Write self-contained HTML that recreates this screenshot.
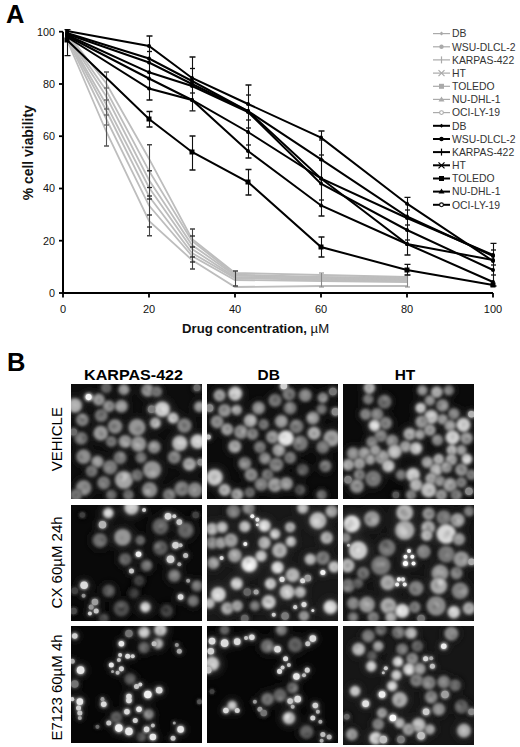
<!DOCTYPE html>
<html><head><meta charset="utf-8"><style>
html,body{margin:0;padding:0;background:#fff;}
body{width:520px;height:747px;position:relative;overflow:hidden;font-family:"Liberation Sans", sans-serif;}
.chart{position:absolute;left:0;top:0;font-family:"Liberation Sans", sans-serif;}
.mic{position:absolute;display:block;}
.ov{position:absolute;left:0;top:0;font-family:"Liberation Sans", sans-serif;}
.lab{position:absolute;white-space:nowrap;color:#000;}
.big{font-weight:bold;font-size:25.5px;line-height:26px;}
.col{font-weight:bold;font-size:14.6px;line-height:15px;}
.row{font-size:15px;line-height:15px;transform-origin:0 0;}
</style></head><body>
<svg width="0" height="0" style="position:absolute"><defs><filter id="bl" x="-10%" y="-10%" width="120%" height="120%"><feGaussianBlur stdDeviation="6"/></filter><filter id="bl3" x="-20%" y="-20%" width="140%" height="140%"><feGaussianBlur stdDeviation="3"/></filter><filter id="bl2" x="-20%" y="-20%" width="140%" height="140%"><feGaussianBlur stdDeviation="14"/></filter></defs></svg>
<div class="lab big" style="left:6px;top:1px">A</div>
<div class="lab big" style="left:7px;top:349px">B</div>
<svg class="chart" width="520" height="345" viewBox="0 0 520 345"><polyline points="67,33 106,83 149,158.7 192,239 235,273 321,275 407,277" fill="none" stroke="#bdbdbd" stroke-width="1.8"/><polyline points="67,34 106,90 149,170.8 192,241 235,274.6 321,277 407,278" fill="none" stroke="#bdbdbd" stroke-width="1.8"/><polyline points="67,35 106,96 149,180 192,245 235,275.5 321,278 407,279" fill="none" stroke="#bdbdbd" stroke-width="1.8"/><polyline points="67,36 106,104 149,187.5 192,249 235,277 321,279 407,280" fill="none" stroke="#bdbdbd" stroke-width="1.8"/><polyline points="67,37 106,110 149,196.2 192,253 235,278 321,280 407,281" fill="none" stroke="#bdbdbd" stroke-width="1.8"/><polyline points="67,38 106,118.5 149,205.6 192,256 235,280 321,281 407,282" fill="none" stroke="#bdbdbd" stroke-width="1.8"/><polyline points="67,40 106,131 149,221 192,260 235,287 321,286 407,286" fill="none" stroke="#bdbdbd" stroke-width="1.8"/><path d="M106.5,72V146" stroke="#555" stroke-width="1.1" fill="none"/><path d="M104.0,72H109.0M104.0,146H109.0" stroke="#555" stroke-width="1.5" fill="none"/><path d="M149.5,144.7V235.7" stroke="#444" stroke-width="1.1" fill="none"/><path d="M147.0,144.7H152.0M147.0,235.7H152.0" stroke="#444" stroke-width="1.5" fill="none"/><path d="M192.5,229V269" stroke="#444" stroke-width="1.1" fill="none"/><path d="M190.0,229H195.0M190.0,269H195.0" stroke="#444" stroke-width="1.5" fill="none"/><path d="M235.5,271V286" stroke="#444" stroke-width="1.1" fill="none"/><path d="M233.0,271H238.0M233.0,286H238.0" stroke="#444" stroke-width="1.5" fill="none"/><path d="M321.5,273V287" stroke="#888" stroke-width="1.1" fill="none"/><path d="M319.0,273H324.0M319.0,287H324.0" stroke="#888" stroke-width="1.2" fill="none"/><path d="M407.5,275V287" stroke="#888" stroke-width="1.1" fill="none"/><path d="M405.0,275H410.0M405.0,287H410.0" stroke="#888" stroke-width="1.2" fill="none"/><polyline points="67,31 149,46 192,78 248,104 321,137.6 407,203.7 493,261" fill="none" stroke="#000" stroke-width="2"/><polyline points="67,33 149,58.5 192,81 248,111 321,159.4 407,216.5 493,256" fill="none" stroke="#000" stroke-width="2"/><polyline points="67,34 149,62.5 192,84 248,111 321,178.5 407,218 493,255" fill="none" stroke="#000" stroke-width="2"/><polyline points="67,35 149,72.3 192,86 248,112 321,183.6 407,230 493,270" fill="none" stroke="#000" stroke-width="2"/><polyline points="67,36 149,78.5 192,100 248,132 321,178.5 407,244 493,260" fill="none" stroke="#000" stroke-width="2"/><polyline points="67,37 149,88.5 192,100 248,151 321,205.5 407,244 493,282" fill="none" stroke="#000" stroke-width="2"/><polyline points="67,40 149,119 192,152 248,182 321,247 407,270 493,285" fill="none" stroke="#000" stroke-width="2"/><path d="M67.5,29.6V55.6" stroke="#111" stroke-width="1.1" fill="none"/><path d="M64.5,29.6H70.5M64.5,55.6H70.5" stroke="#111" stroke-width="1.3" fill="none"/><path d="M149.5,36V100" stroke="#111" stroke-width="1.1" fill="none"/><path d="M146.5,36H152.5M146.5,100H152.5" stroke="#111" stroke-width="1.3" fill="none"/><path d="M149.5,111.5V127" stroke="#111" stroke-width="1.1" fill="none"/><path d="M146.5,111.5H152.5M146.5,127H152.5" stroke="#111" stroke-width="1.3" fill="none"/><path d="M192.5,57V110.8" stroke="#111" stroke-width="1.1" fill="none"/><path d="M189.5,57H195.5M189.5,110.8H195.5" stroke="#111" stroke-width="1.3" fill="none"/><path d="M192.5,136V170" stroke="#111" stroke-width="1.1" fill="none"/><path d="M189.5,136H195.5M189.5,170H195.5" stroke="#111" stroke-width="1.3" fill="none"/><path d="M248.5,85V158" stroke="#111" stroke-width="1.1" fill="none"/><path d="M245.5,85H251.5M245.5,158H251.5" stroke="#111" stroke-width="1.3" fill="none"/><path d="M248.5,169.5V195" stroke="#111" stroke-width="1.1" fill="none"/><path d="M245.5,169.5H251.5M245.5,195H251.5" stroke="#111" stroke-width="1.3" fill="none"/><path d="M321.5,131V216" stroke="#111" stroke-width="1.1" fill="none"/><path d="M318.5,131H324.5M318.5,216H324.5" stroke="#111" stroke-width="1.3" fill="none"/><path d="M321.5,237V257" stroke="#111" stroke-width="1.1" fill="none"/><path d="M318.5,237H324.5M318.5,257H324.5" stroke="#111" stroke-width="1.3" fill="none"/><path d="M407.5,197.4V255" stroke="#111" stroke-width="1.1" fill="none"/><path d="M404.5,197.4H410.5M404.5,255H410.5" stroke="#111" stroke-width="1.3" fill="none"/><path d="M407.5,264.4V275" stroke="#111" stroke-width="1.1" fill="none"/><path d="M404.5,264.4H410.5M404.5,275H410.5" stroke="#111" stroke-width="1.3" fill="none"/><path d="M493.5,243.4V286" stroke="#111" stroke-width="1.1" fill="none"/><path d="M490.5,243.4H496.5M490.5,286H496.5" stroke="#111" stroke-width="1.3" fill="none"/><path d="M104.0,88H109.0" stroke="#666" stroke-width="1.3"/><path d="M104.0,100H109.0" stroke="#666" stroke-width="1.3"/><path d="M104.0,109H109.0" stroke="#666" stroke-width="1.3"/><path d="M104.0,115H109.0" stroke="#666" stroke-width="1.3"/><path d="M104.0,125H109.0" stroke="#666" stroke-width="1.3"/><path d="M147.0,170.8H152.0" stroke="#222" stroke-width="1.3"/><path d="M147.0,187.5H152.0" stroke="#222" stroke-width="1.3"/><path d="M147.0,196H152.0" stroke="#222" stroke-width="1.3"/><path d="M147.0,199H152.0" stroke="#222" stroke-width="1.3"/><path d="M147.0,215H152.0" stroke="#222" stroke-width="1.3"/><path d="M147.0,227H152.0" stroke="#222" stroke-width="1.3"/><path d="M190.0,236H195.0" stroke="#222" stroke-width="1.3"/><path d="M190.0,247H195.0" stroke="#222" stroke-width="1.3"/><path d="M190.0,257H195.0" stroke="#222" stroke-width="1.3"/><path d="M190.0,262H195.0" stroke="#222" stroke-width="1.3"/><path d="M147.0,51.5H152.0" stroke="#111" stroke-width="1.3"/><path d="M190.0,68.5H195.0" stroke="#111" stroke-width="1.3"/><path d="M190.0,93H195.0" stroke="#111" stroke-width="1.3"/><path d="M246.0,95H251.0" stroke="#111" stroke-width="1.3"/><path d="M246.0,120H251.0" stroke="#111" stroke-width="1.3"/><path d="M246.0,128H251.0" stroke="#111" stroke-width="1.3"/><path d="M246.0,145H251.0" stroke="#111" stroke-width="1.3"/><path d="M319.0,140H324.0" stroke="#111" stroke-width="1.3"/><path d="M319.0,155H324.0" stroke="#111" stroke-width="1.3"/><path d="M319.0,160H324.0" stroke="#111" stroke-width="1.3"/><path d="M319.0,200H324.0" stroke="#111" stroke-width="1.3"/><path d="M405.0,210H410.0" stroke="#111" stroke-width="1.3"/><path d="M405.0,225H410.0" stroke="#111" stroke-width="1.3"/><path d="M405.0,240H410.0" stroke="#111" stroke-width="1.3"/><path d="M491.0,250H496.0" stroke="#111" stroke-width="1.3"/><path d="M491.0,265H496.0" stroke="#111" stroke-width="1.3"/><path d="M491.0,275H496.0" stroke="#111" stroke-width="1.3"/><circle cx="67" cy="31" r="2" fill="#000"/><circle cx="149" cy="46" r="2" fill="#000"/><circle cx="192" cy="78" r="2" fill="#000"/><circle cx="248" cy="104" r="2" fill="#000"/><circle cx="321" cy="137.6" r="2" fill="#000"/><circle cx="407" cy="203.7" r="2" fill="#000"/><circle cx="493" cy="261" r="2" fill="#000"/><circle cx="67" cy="33" r="2" fill="#000"/><circle cx="149" cy="58.5" r="2" fill="#000"/><circle cx="192" cy="81" r="2" fill="#000"/><circle cx="248" cy="111" r="2" fill="#000"/><circle cx="321" cy="159.4" r="2" fill="#000"/><circle cx="407" cy="216.5" r="2" fill="#000"/><circle cx="493" cy="256" r="2" fill="#000"/><circle cx="67" cy="34" r="2" fill="#000"/><circle cx="149" cy="62.5" r="2" fill="#000"/><circle cx="192" cy="84" r="2" fill="#000"/><circle cx="248" cy="111" r="2" fill="#000"/><circle cx="321" cy="178.5" r="2" fill="#000"/><circle cx="407" cy="218" r="2" fill="#000"/><circle cx="493" cy="255" r="2" fill="#000"/><circle cx="67" cy="35" r="2" fill="#000"/><circle cx="149" cy="72.3" r="2" fill="#000"/><circle cx="192" cy="86" r="2" fill="#000"/><circle cx="248" cy="112" r="2" fill="#000"/><circle cx="321" cy="183.6" r="2" fill="#000"/><circle cx="407" cy="230" r="2" fill="#000"/><circle cx="493" cy="270" r="2" fill="#000"/><circle cx="67" cy="36" r="2" fill="#000"/><circle cx="149" cy="78.5" r="2" fill="#000"/><circle cx="192" cy="100" r="2" fill="#000"/><circle cx="248" cy="132" r="2" fill="#000"/><circle cx="321" cy="178.5" r="2" fill="#000"/><circle cx="407" cy="244" r="2" fill="#000"/><circle cx="493" cy="260" r="2" fill="#000"/><circle cx="67" cy="37" r="2" fill="#000"/><circle cx="149" cy="88.5" r="2" fill="#000"/><circle cx="192" cy="100" r="2" fill="#000"/><circle cx="248" cy="151" r="2" fill="#000"/><circle cx="321" cy="205.5" r="2" fill="#000"/><circle cx="407" cy="244" r="2" fill="#000"/><circle cx="493" cy="282" r="2" fill="#000"/><rect x="64.5" y="37.5" width="5" height="5" fill="#000"/><rect x="146.5" y="116.5" width="5" height="5" fill="#000"/><rect x="189.5" y="149.5" width="5" height="5" fill="#000"/><rect x="245.5" y="179.5" width="5" height="5" fill="#000"/><rect x="318.5" y="244.5" width="5" height="5" fill="#000"/><rect x="404.5" y="267.5" width="5" height="5" fill="#000"/><rect x="490.5" y="282.5" width="5" height="5" fill="#000"/><path d="M63,31.7V293H493" stroke="#000" stroke-width="2" fill="none"/><path d="M59,293.0H63" stroke="#000" stroke-width="1.8"/><path d="M63.0,293V297.5" stroke="#000" stroke-width="1.8"/><text x="55" y="296.8" text-anchor="end" font-size="10.8" fill="#111">0</text><text x="63.0" y="312.6" text-anchor="middle" font-size="11" fill="#111">0</text><path d="M59,240.7H63" stroke="#000" stroke-width="1.8"/><path d="M149.0,293V297.5" stroke="#000" stroke-width="1.8"/><text x="55" y="244.5" text-anchor="end" font-size="10.8" fill="#111">20</text><text x="149.0" y="312.6" text-anchor="middle" font-size="11" fill="#111">20</text><path d="M59,188.5H63" stroke="#000" stroke-width="1.8"/><path d="M235.0,293V297.5" stroke="#000" stroke-width="1.8"/><text x="55" y="192.3" text-anchor="end" font-size="10.8" fill="#111">40</text><text x="235.0" y="312.6" text-anchor="middle" font-size="11" fill="#111">40</text><path d="M59,136.2H63" stroke="#000" stroke-width="1.8"/><path d="M321.0,293V297.5" stroke="#000" stroke-width="1.8"/><text x="55" y="140.0" text-anchor="end" font-size="10.8" fill="#111">60</text><text x="321.0" y="312.6" text-anchor="middle" font-size="11" fill="#111">60</text><path d="M59,84.0H63" stroke="#000" stroke-width="1.8"/><path d="M407.0,293V297.5" stroke="#000" stroke-width="1.8"/><text x="55" y="87.8" text-anchor="end" font-size="10.8" fill="#111">80</text><text x="407.0" y="312.6" text-anchor="middle" font-size="11" fill="#111">80</text><path d="M59,31.7H63" stroke="#000" stroke-width="1.8"/><path d="M493.0,293V297.5" stroke="#000" stroke-width="1.8"/><text x="55" y="35.5" text-anchor="end" font-size="10.8" fill="#111">100</text><text x="493.0" y="312.6" text-anchor="middle" font-size="11" fill="#111">100</text><text x="255.6" y="333.4" text-anchor="middle" font-size="13.15" font-weight="bold" fill="#111">Drug concentration, <tspan font-weight="normal">µM</tspan></text><text transform="translate(33.2,152.7) rotate(-90)" text-anchor="middle" font-size="13.9" font-weight="bold" fill="#111">% cell viability</text><path d="M433,33.6H450" stroke="#aaa" stroke-width="1.2"/><path d="M441.5,31.6l2,2l-2,2l-2,-2z" fill="#aaa"/><text x="452" y="37.3" font-size="10.4" fill="#333">DB</text><path d="M433,46.8H450" stroke="#aaa" stroke-width="1.2"/><circle cx="441.5" cy="46.8" r="2.2" fill="#aaa"/><text x="452" y="50.5" font-size="10.4" fill="#333">WSU-DLCL-2</text><path d="M433,59.9H450" stroke="#aaa" stroke-width="1.2"/><path d="M441.5,56.4v7" stroke="#aaa" stroke-width="1.2"/><text x="452" y="63.6" font-size="10.4" fill="#333">KARPAS-422</text><path d="M433,73.1H450" stroke="#aaa" stroke-width="1.2"/><path d="M438.5,70.1l6,6M444.5,70.1l-6,6" stroke="#aaa" stroke-width="1.2"/><text x="452" y="76.8" font-size="10.4" fill="#333">HT</text><path d="M433,86.3H450" stroke="#aaa" stroke-width="1.2"/><rect x="439.0" y="83.8" width="5" height="5" fill="#aaa"/><text x="452" y="90.0" font-size="10.4" fill="#333">TOLEDO</text><path d="M433,99.4H450" stroke="#aaa" stroke-width="1.2"/><path d="M441.5,96.4l3,5h-6z" fill="#aaa"/><text x="452" y="103.1" font-size="10.4" fill="#333">NU-DHL-1</text><path d="M433,112.6H450" stroke="#aaa" stroke-width="1.2"/><circle cx="441.5" cy="112.6" r="1.9" fill="#fff" stroke="#aaa" stroke-width="1.1"/><text x="452" y="116.3" font-size="10.4" fill="#333">OCI-LY-19</text><path d="M433,125.8H450" stroke="#000" stroke-width="2"/><path d="M441.5,123.8l2,2l-2,2l-2,-2z" fill="#000"/><text x="452" y="129.5" font-size="10.4" fill="#333">DB</text><path d="M433,139.0H450" stroke="#000" stroke-width="2"/><circle cx="441.5" cy="139.0" r="2.2" fill="#000"/><text x="452" y="142.7" font-size="10.4" fill="#333">WSU-DLCL-2</text><path d="M433,152.1H450" stroke="#000" stroke-width="2"/><path d="M441.5,148.6v7" stroke="#000" stroke-width="1.2"/><text x="452" y="155.8" font-size="10.4" fill="#333">KARPAS-422</text><path d="M433,165.3H450" stroke="#000" stroke-width="2"/><path d="M438.5,162.3l6,6M444.5,162.3l-6,6" stroke="#000" stroke-width="1.2"/><text x="452" y="169.0" font-size="10.4" fill="#333">HT</text><path d="M433,178.5H450" stroke="#000" stroke-width="2"/><rect x="439.0" y="176.0" width="5" height="5" fill="#000"/><text x="452" y="182.2" font-size="10.4" fill="#333">TOLEDO</text><path d="M433,191.6H450" stroke="#000" stroke-width="2"/><path d="M441.5,188.6l3,5h-6z" fill="#000"/><text x="452" y="195.3" font-size="10.4" fill="#333">NU-DHL-1</text><path d="M433,204.8H450" stroke="#000" stroke-width="2"/><circle cx="441.5" cy="204.8" r="1.9" fill="#fff" stroke="#000" stroke-width="1.1"/><text x="452" y="208.5" font-size="10.4" fill="#333">OCI-LY-19</text></svg>
<svg class="ov" width="520" height="747" viewBox="0 0 520 747">
<text x="84" y="379.9" font-size="14.6" font-weight="bold" textLength="99" lengthAdjust="spacingAndGlyphs">KARPAS-422</text>
<text transform="translate(268.75,379.8) scale(1.06,1)" font-size="14.6" font-weight="bold" text-anchor="middle">DB</text>
<text transform="translate(405,379.7) scale(1.06,1)" font-size="14.6" font-weight="bold" text-anchor="middle">HT</text>
<text transform="translate(61.8,439.2) rotate(-90)" font-size="15" text-anchor="middle">VEHICLE</text>
<text transform="translate(61.8,562.4) rotate(-90)" font-size="15" text-anchor="middle">CX 60µM 24h</text>
<text transform="translate(62,687.5) rotate(-90)" font-size="15" text-anchor="middle">E7123 60µM 4h</text>
</svg>
<svg class="mic" style="left:71px;top:384px;width:131px;height:115px" viewBox="0 0 520 456" preserveAspectRatio="none"><rect width="520" height="456" fill="#0d0d0d"/><g filter="url(#bl2)"><circle cx="15.0" cy="85.0" r="38" fill="rgb(38,38,38)"/><circle cx="70.0" cy="52.0" r="21" fill="rgb(51,51,51)"/><circle cx="110.0" cy="62.0" r="32" fill="rgb(33,33,33)"/><circle cx="150.0" cy="88.0" r="32" fill="rgb(30,30,30)"/><circle cx="200.0" cy="88.0" r="35" fill="rgb(31,31,31)"/><circle cx="210.0" cy="22.0" r="29" fill="rgb(33,33,33)"/><circle cx="140.0" cy="15.0" r="29" fill="rgb(22,22,22)"/><circle cx="305.0" cy="25.0" r="35" fill="rgb(33,33,33)"/><circle cx="340.0" cy="30.0" r="29" fill="rgb(26,26,26)"/><circle cx="500.0" cy="15.0" r="22" fill="rgb(22,22,22)"/><circle cx="320.0" cy="100.0" r="26" fill="rgb(26,26,26)"/><circle cx="362.0" cy="100.0" r="42" fill="rgb(45,45,45)"/><circle cx="405.0" cy="135.0" r="29" fill="rgb(42,42,42)"/><circle cx="335.0" cy="155.0" r="29" fill="rgb(39,39,39)"/><circle cx="450.0" cy="165.0" r="38" fill="rgb(28,28,28)"/><circle cx="510.0" cy="90.0" r="29" fill="rgb(33,33,33)"/><circle cx="45.0" cy="142.0" r="35" fill="rgb(28,28,28)"/><circle cx="120.0" cy="125.0" r="35" fill="rgb(26,26,26)"/><circle cx="175.0" cy="168.0" r="38" fill="rgb(30,30,30)"/><circle cx="118.0" cy="195.0" r="38" fill="rgb(34,34,34)"/><circle cx="40.0" cy="215.0" r="35" fill="rgb(26,26,26)"/><circle cx="10.0" cy="190.0" r="24" fill="rgb(22,22,22)"/><circle cx="160.0" cy="228.0" r="29" fill="rgb(26,26,26)"/><circle cx="215.0" cy="228.0" r="35" fill="rgb(33,33,33)"/><circle cx="262.0" cy="172.0" r="45" fill="rgb(33,33,33)"/><circle cx="268.0" cy="238.0" r="42" fill="rgb(33,33,33)"/><circle cx="330.0" cy="250.0" r="35" fill="rgb(30,30,30)"/><circle cx="432.0" cy="235.0" r="42" fill="rgb(40,40,40)"/><circle cx="503.0" cy="228.0" r="38" fill="rgb(45,45,45)"/><circle cx="410.0" cy="290.0" r="35" fill="rgb(28,28,28)"/><circle cx="470.0" cy="318.0" r="35" fill="rgb(38,38,38)"/><circle cx="515.0" cy="310.0" r="22" fill="rgb(28,28,28)"/><circle cx="50.0" cy="288.0" r="38" fill="rgb(30,30,30)"/><circle cx="105.0" cy="308.0" r="32" fill="rgb(33,33,33)"/><circle cx="195.0" cy="292.0" r="35" fill="rgb(26,26,26)"/><circle cx="278.0" cy="292.0" r="29" fill="rgb(26,26,26)"/><circle cx="155.0" cy="330.0" r="38" fill="rgb(27,27,27)"/><circle cx="82.0" cy="345.0" r="32" fill="rgb(25,25,25)"/><circle cx="210.0" cy="380.0" r="48" fill="rgb(36,36,36)"/><circle cx="130.0" cy="392.0" r="35" fill="rgb(27,27,27)"/><circle cx="322.0" cy="340.0" r="48" fill="rgb(33,33,33)"/><circle cx="262.0" cy="362.0" r="32" fill="rgb(24,24,24)"/><circle cx="312.0" cy="420.0" r="42" fill="rgb(30,30,30)"/><circle cx="390.0" cy="440.0" r="35" fill="rgb(26,26,26)"/><circle cx="440.0" cy="415.0" r="40" fill="rgb(27,27,27)"/><circle cx="492.0" cy="420.0" r="40" fill="rgb(29,29,29)"/><circle cx="50.0" cy="412.0" r="42" fill="rgb(30,30,30)"/><circle cx="20.0" cy="440.0" r="32" fill="rgb(26,26,26)"/><circle cx="160.0" cy="440.0" r="29" fill="rgb(22,22,22)"/><circle cx="228.0" cy="440.0" r="29" fill="rgb(24,24,24)"/></g><g filter="url(#bl)"><circle cx="15.0" cy="85.0" r="29" fill="rgb(175,175,175)" stroke="rgb(61,61,61)" stroke-width="4"/><circle cx="14" cy="87" r="8" fill="rgb(158,158,158)"/><circle cx="15" cy="86" r="8" fill="rgb(159,159,159)"/><circle cx="16" cy="85" r="8" fill="rgb(191,191,191)"/><circle cx="70.0" cy="52.0" r="16" fill="rgb(235,235,235)" stroke="rgb(82,82,82)" stroke-width="4"/><circle cx="74" cy="51" r="4" fill="rgb(208,208,208)"/><circle cx="70" cy="52" r="3" fill="rgb(214,214,214)"/><circle cx="72" cy="53" r="4" fill="rgb(217,217,217)"/><circle cx="110.0" cy="62.0" r="24" fill="rgb(150,150,150)" stroke="rgb(52,52,52)" stroke-width="4"/><circle cx="110" cy="63" r="7" fill="rgb(123,123,123)"/><circle cx="104" cy="62" r="8" fill="rgb(174,174,174)"/><circle cx="108" cy="64" r="6" fill="rgb(121,121,121)"/><circle cx="150.0" cy="88.0" r="24" fill="rgb(140,140,140)" stroke="rgb(49,49,49)" stroke-width="4"/><circle cx="145" cy="85" r="6" fill="rgb(169,169,169)"/><circle cx="151" cy="88" r="6" fill="rgb(158,158,158)"/><circle cx="154" cy="86" r="7" fill="rgb(109,109,109)"/><circle cx="200.0" cy="88.0" r="26" fill="rgb(145,145,145)" stroke="rgb(50,50,50)" stroke-width="4"/><circle cx="203" cy="85" r="8" fill="rgb(171,171,171)"/><circle cx="190" cy="91" r="8" fill="rgb(169,169,169)"/><circle cx="208" cy="91" r="7" fill="rgb(165,165,165)"/><circle cx="210.0" cy="22.0" r="22" fill="rgb(150,150,150)" stroke="rgb(52,52,52)" stroke-width="4"/><circle cx="210" cy="22" r="6" fill="rgb(172,172,172)"/><circle cx="208" cy="22" r="5" fill="rgb(167,167,167)"/><circle cx="203" cy="27" r="6" fill="rgb(131,131,131)"/><circle cx="140.0" cy="15.0" r="22" fill="rgb(100,100,100)" stroke="rgb(35,35,35)" stroke-width="4"/><circle cx="140" cy="16" r="5" fill="rgb(132,132,132)"/><circle cx="137" cy="17" r="5" fill="rgb(134,134,134)"/><circle cx="141" cy="17" r="7" fill="rgb(84,84,84)"/><circle cx="305.0" cy="25.0" r="26" fill="rgb(150,150,150)" stroke="rgb(52,52,52)" stroke-width="4"/><circle cx="306" cy="28" r="7" fill="rgb(126,126,126)"/><circle cx="295" cy="20" r="9" fill="rgb(125,125,125)"/><circle cx="313" cy="23" r="7" fill="rgb(172,172,172)"/><circle cx="340.0" cy="30.0" r="22" fill="rgb(120,120,120)" stroke="rgb(42,42,42)" stroke-width="4"/><circle cx="336" cy="30" r="5" fill="rgb(103,103,103)"/><circle cx="342" cy="33" r="6" fill="rgb(102,102,102)"/><circle cx="331" cy="28" r="5" fill="rgb(103,103,103)"/><circle cx="500.0" cy="15.0" r="17" fill="rgb(100,100,100)" stroke="rgb(35,35,35)" stroke-width="4"/><circle cx="497" cy="18" r="5" fill="rgb(127,127,127)"/><circle cx="503" cy="17" r="4" fill="rgb(124,124,124)"/><circle cx="503" cy="19" r="5" fill="rgb(124,124,124)"/><circle cx="320.0" cy="100.0" r="19" fill="rgb(120,120,120)" stroke="rgb(42,42,42)" stroke-width="4"/><circle cx="318" cy="100" r="5" fill="rgb(137,137,137)"/><circle cx="324" cy="101" r="5" fill="rgb(91,91,91)"/><circle cx="319" cy="101" r="6" fill="rgb(94,94,94)"/><circle cx="362.0" cy="100.0" r="31" fill="rgb(205,205,205)" stroke="rgb(71,71,71)" stroke-width="4"/><circle cx="360" cy="103" r="10" fill="rgb(173,173,173)"/><circle cx="362" cy="97" r="6" fill="rgb(227,227,227)"/><circle cx="366" cy="101" r="9" fill="rgb(223,223,223)"/><circle cx="405.0" cy="135.0" r="22" fill="rgb(195,195,195)" stroke="rgb(68,68,68)" stroke-width="4"/><circle cx="401" cy="142" r="6" fill="rgb(229,229,229)"/><circle cx="405" cy="137" r="6" fill="rgb(173,173,173)"/><circle cx="411" cy="134" r="6" fill="rgb(170,170,170)"/><circle cx="335.0" cy="155.0" r="22" fill="rgb(180,180,180)" stroke="rgb(62,62,62)" stroke-width="4"/><circle cx="335" cy="154" r="7" fill="rgb(146,146,146)"/><circle cx="335" cy="150" r="6" fill="rgb(156,156,156)"/><circle cx="343" cy="160" r="7" fill="rgb(204,204,204)"/><circle cx="450.0" cy="165.0" r="29" fill="rgb(130,130,130)" stroke="rgb(45,45,45)" stroke-width="4"/><circle cx="452" cy="166" r="8" fill="rgb(114,114,114)"/><circle cx="442" cy="167" r="7" fill="rgb(158,158,158)"/><circle cx="448" cy="164" r="9" fill="rgb(99,99,99)"/><circle cx="510.0" cy="90.0" r="22" fill="rgb(150,150,150)" stroke="rgb(52,52,52)" stroke-width="4"/><circle cx="516" cy="94" r="7" fill="rgb(126,126,126)"/><circle cx="511" cy="88" r="6" fill="rgb(169,169,169)"/><circle cx="510" cy="87" r="5" fill="rgb(181,181,181)"/><circle cx="45.0" cy="142.0" r="26" fill="rgb(130,130,130)" stroke="rgb(45,45,45)" stroke-width="4"/><circle cx="44" cy="131" r="9" fill="rgb(161,161,161)"/><circle cx="46" cy="143" r="8" fill="rgb(97,97,97)"/><circle cx="38" cy="136" r="7" fill="rgb(111,111,111)"/><circle cx="120.0" cy="125.0" r="26" fill="rgb(120,120,120)" stroke="rgb(42,42,42)" stroke-width="4"/><circle cx="119" cy="118" r="7" fill="rgb(148,148,148)"/><circle cx="111" cy="126" r="6" fill="rgb(100,100,100)"/><circle cx="121" cy="119" r="9" fill="rgb(89,89,89)"/><circle cx="175.0" cy="168.0" r="29" fill="rgb(140,140,140)" stroke="rgb(49,49,49)" stroke-width="4"/><circle cx="168" cy="171" r="8" fill="rgb(111,111,111)"/><circle cx="169" cy="167" r="10" fill="rgb(111,111,111)"/><circle cx="178" cy="167" r="6" fill="rgb(108,108,108)"/><circle cx="118.0" cy="195.0" r="29" fill="rgb(155,155,155)" stroke="rgb(54,54,54)" stroke-width="4"/><circle cx="122" cy="199" r="8" fill="rgb(126,126,126)"/><circle cx="119" cy="199" r="6" fill="rgb(122,122,122)"/><circle cx="116" cy="187" r="6" fill="rgb(134,134,134)"/><circle cx="40.0" cy="215.0" r="26" fill="rgb(120,120,120)" stroke="rgb(42,42,42)" stroke-width="4"/><circle cx="31" cy="217" r="7" fill="rgb(97,97,97)"/><circle cx="50" cy="214" r="9" fill="rgb(90,90,90)"/><circle cx="36" cy="218" r="8" fill="rgb(141,141,141)"/><circle cx="10.0" cy="190.0" r="18" fill="rgb(100,100,100)" stroke="rgb(35,35,35)" stroke-width="4"/><circle cx="14" cy="191" r="5" fill="rgb(129,129,129)"/><circle cx="8" cy="190" r="6" fill="rgb(82,82,82)"/><circle cx="11" cy="197" r="4" fill="rgb(79,79,79)"/><circle cx="160.0" cy="228.0" r="22" fill="rgb(120,120,120)" stroke="rgb(42,42,42)" stroke-width="4"/><circle cx="160" cy="225" r="7" fill="rgb(88,88,88)"/><circle cx="156" cy="220" r="7" fill="rgb(137,137,137)"/><circle cx="154" cy="225" r="7" fill="rgb(99,99,99)"/><circle cx="215.0" cy="228.0" r="26" fill="rgb(150,150,150)" stroke="rgb(52,52,52)" stroke-width="4"/><circle cx="219" cy="238" r="8" fill="rgb(183,183,183)"/><circle cx="215" cy="227" r="9" fill="rgb(133,133,133)"/><circle cx="211" cy="229" r="6" fill="rgb(183,183,183)"/><circle cx="262.0" cy="172.0" r="34" fill="rgb(150,150,150)" stroke="rgb(52,52,52)" stroke-width="4"/><circle cx="267" cy="178" r="12" fill="rgb(116,116,116)"/><circle cx="262" cy="175" r="9" fill="rgb(177,177,177)"/><circle cx="264" cy="178" r="11" fill="rgb(129,129,129)"/><circle cx="268.0" cy="238.0" r="31" fill="rgb(150,150,150)" stroke="rgb(52,52,52)" stroke-width="4"/><circle cx="269" cy="238" r="9" fill="rgb(120,120,120)"/><circle cx="270" cy="244" r="10" fill="rgb(167,167,167)"/><circle cx="262" cy="241" r="8" fill="rgb(184,184,184)"/><circle cx="330.0" cy="250.0" r="26" fill="rgb(140,140,140)" stroke="rgb(49,49,49)" stroke-width="4"/><circle cx="331" cy="253" r="8" fill="rgb(108,108,108)"/><circle cx="327" cy="246" r="9" fill="rgb(174,174,174)"/><circle cx="337" cy="251" r="5" fill="rgb(163,163,163)"/><circle cx="432.0" cy="235.0" r="31" fill="rgb(185,185,185)" stroke="rgb(64,64,64)" stroke-width="4"/><circle cx="429" cy="230" r="9" fill="rgb(211,211,211)"/><circle cx="434" cy="236" r="7" fill="rgb(208,208,208)"/><circle cx="445" cy="232" r="11" fill="rgb(204,204,204)"/><circle cx="503.0" cy="228.0" r="29" fill="rgb(205,205,205)" stroke="rgb(71,71,71)" stroke-width="4"/><circle cx="501" cy="232" r="6" fill="rgb(183,183,183)"/><circle cx="501" cy="236" r="6" fill="rgb(179,179,179)"/><circle cx="503" cy="229" r="7" fill="rgb(231,231,231)"/><circle cx="410.0" cy="290.0" r="26" fill="rgb(130,130,130)" stroke="rgb(45,45,45)" stroke-width="4"/><circle cx="408" cy="297" r="7" fill="rgb(103,103,103)"/><circle cx="410" cy="282" r="8" fill="rgb(160,160,160)"/><circle cx="407" cy="290" r="9" fill="rgb(114,114,114)"/><circle cx="470.0" cy="318.0" r="26" fill="rgb(175,175,175)" stroke="rgb(61,61,61)" stroke-width="4"/><circle cx="476" cy="313" r="8" fill="rgb(141,141,141)"/><circle cx="461" cy="314" r="8" fill="rgb(143,143,143)"/><circle cx="476" cy="313" r="5" fill="rgb(158,158,158)"/><circle cx="515.0" cy="310.0" r="17" fill="rgb(130,130,130)" stroke="rgb(45,45,45)" stroke-width="4"/><circle cx="510" cy="304" r="5" fill="rgb(161,161,161)"/><circle cx="512" cy="307" r="3" fill="rgb(105,105,105)"/><circle cx="517" cy="305" r="4" fill="rgb(101,101,101)"/><circle cx="50.0" cy="288.0" r="29" fill="rgb(140,140,140)" stroke="rgb(49,49,49)" stroke-width="4"/><circle cx="50" cy="285" r="7" fill="rgb(108,108,108)"/><circle cx="50" cy="285" r="7" fill="rgb(164,164,164)"/><circle cx="41" cy="289" r="9" fill="rgb(112,112,112)"/><circle cx="105.0" cy="308.0" r="24" fill="rgb(150,150,150)" stroke="rgb(52,52,52)" stroke-width="4"/><circle cx="106" cy="309" r="7" fill="rgb(178,178,178)"/><circle cx="104" cy="307" r="6" fill="rgb(166,166,166)"/><circle cx="101" cy="301" r="7" fill="rgb(170,170,170)"/><circle cx="195.0" cy="292.0" r="26" fill="rgb(120,120,120)" stroke="rgb(42,42,42)" stroke-width="4"/><circle cx="190" cy="293" r="7" fill="rgb(85,85,85)"/><circle cx="195" cy="293" r="7" fill="rgb(135,135,135)"/><circle cx="200" cy="282" r="7" fill="rgb(154,154,154)"/><circle cx="278.0" cy="292.0" r="22" fill="rgb(120,120,120)" stroke="rgb(42,42,42)" stroke-width="4"/><circle cx="286" cy="287" r="5" fill="rgb(93,93,93)"/><circle cx="269" cy="291" r="6" fill="rgb(92,92,92)"/><circle cx="278" cy="293" r="7" fill="rgb(139,139,139)"/><circle cx="155.0" cy="330.0" r="29" fill="rgb(125,125,125)" stroke="rgb(43,43,43)" stroke-width="4"/><circle cx="155" cy="330" r="9" fill="rgb(91,91,91)"/><circle cx="147" cy="335" r="7" fill="rgb(146,146,146)"/><circle cx="155" cy="330" r="6" fill="rgb(156,156,156)"/><circle cx="82.0" cy="345.0" r="24" fill="rgb(115,115,115)" stroke="rgb(40,40,40)" stroke-width="4"/><circle cx="89" cy="342" r="5" fill="rgb(135,135,135)"/><circle cx="75" cy="351" r="6" fill="rgb(92,92,92)"/><circle cx="82" cy="346" r="7" fill="rgb(98,98,98)"/><circle cx="210.0" cy="380.0" r="36" fill="rgb(165,165,165)" stroke="rgb(57,57,57)" stroke-width="4"/><circle cx="208" cy="378" r="9" fill="rgb(188,188,188)"/><circle cx="212" cy="367" r="12" fill="rgb(197,197,197)"/><circle cx="200" cy="369" r="7" fill="rgb(135,135,135)"/><circle cx="130.0" cy="392.0" r="26" fill="rgb(125,125,125)" stroke="rgb(43,43,43)" stroke-width="4"/><circle cx="129" cy="387" r="6" fill="rgb(97,97,97)"/><circle cx="140" cy="395" r="7" fill="rgb(106,106,106)"/><circle cx="129" cy="395" r="6" fill="rgb(148,148,148)"/><circle cx="322.0" cy="340.0" r="36" fill="rgb(150,150,150)" stroke="rgb(52,52,52)" stroke-width="4"/><circle cx="311" cy="341" r="8" fill="rgb(131,131,131)"/><circle cx="326" cy="354" r="10" fill="rgb(176,176,176)"/><circle cx="316" cy="351" r="8" fill="rgb(167,167,167)"/><circle cx="262.0" cy="362.0" r="24" fill="rgb(110,110,110)" stroke="rgb(38,38,38)" stroke-width="4"/><circle cx="265" cy="364" r="6" fill="rgb(88,88,88)"/><circle cx="263" cy="360" r="6" fill="rgb(80,80,80)"/><circle cx="257" cy="365" r="8" fill="rgb(130,130,130)"/><circle cx="312.0" cy="420.0" r="31" fill="rgb(140,140,140)" stroke="rgb(49,49,49)" stroke-width="4"/><circle cx="304" cy="420" r="9" fill="rgb(157,157,157)"/><circle cx="304" cy="411" r="10" fill="rgb(123,123,123)"/><circle cx="305" cy="426" r="10" fill="rgb(174,174,174)"/><circle cx="390.0" cy="440.0" r="26" fill="rgb(120,120,120)" stroke="rgb(42,42,42)" stroke-width="4"/><circle cx="390" cy="440" r="8" fill="rgb(96,96,96)"/><circle cx="394" cy="429" r="7" fill="rgb(135,135,135)"/><circle cx="399" cy="436" r="6" fill="rgb(154,154,154)"/><circle cx="440.0" cy="415.0" r="30" fill="rgb(125,125,125)" stroke="rgb(43,43,43)" stroke-width="4"/><circle cx="442" cy="416" r="9" fill="rgb(91,91,91)"/><circle cx="434" cy="407" r="9" fill="rgb(141,141,141)"/><circle cx="442" cy="415" r="7" fill="rgb(97,97,97)"/><circle cx="492.0" cy="420.0" r="30" fill="rgb(135,135,135)" stroke="rgb(47,47,47)" stroke-width="4"/><circle cx="494" cy="422" r="7" fill="rgb(163,163,163)"/><circle cx="498" cy="423" r="7" fill="rgb(112,112,112)"/><circle cx="492" cy="420" r="7" fill="rgb(169,169,169)"/><circle cx="50.0" cy="412.0" r="31" fill="rgb(140,140,140)" stroke="rgb(49,49,49)" stroke-width="4"/><circle cx="45" cy="423" r="7" fill="rgb(115,115,115)"/><circle cx="50" cy="425" r="7" fill="rgb(156,156,156)"/><circle cx="57" cy="406" r="9" fill="rgb(119,119,119)"/><circle cx="20.0" cy="440.0" r="24" fill="rgb(120,120,120)" stroke="rgb(42,42,42)" stroke-width="4"/><circle cx="22" cy="439" r="7" fill="rgb(91,91,91)"/><circle cx="17" cy="443" r="7" fill="rgb(89,89,89)"/><circle cx="18" cy="440" r="8" fill="rgb(98,98,98)"/><circle cx="160.0" cy="440.0" r="22" fill="rgb(100,100,100)" stroke="rgb(35,35,35)" stroke-width="4"/><circle cx="160" cy="442" r="6" fill="rgb(117,117,117)"/><circle cx="153" cy="434" r="6" fill="rgb(123,123,123)"/><circle cx="161" cy="440" r="4" fill="rgb(116,116,116)"/><circle cx="228.0" cy="440.0" r="22" fill="rgb(110,110,110)" stroke="rgb(38,38,38)" stroke-width="4"/><circle cx="225" cy="438" r="6" fill="rgb(91,91,91)"/><circle cx="227" cy="437" r="7" fill="rgb(75,75,75)"/><circle cx="227" cy="442" r="6" fill="rgb(125,125,125)"/></g><g filter="url(#bl3)"><circle cx="70.0" cy="52.0" r="12" fill="rgb(246,246,246)"/><circle cx="500.0" cy="15.0" r="13" fill="rgb(105,105,105)"/><circle cx="320.0" cy="100.0" r="15" fill="rgb(126,126,126)"/><circle cx="10.0" cy="190.0" r="14" fill="rgb(105,105,105)"/><circle cx="515.0" cy="310.0" r="13" fill="rgb(136,136,136)"/></g></svg><svg class="mic" style="left:207px;top:384px;width:131px;height:115px" viewBox="0 0 520 456" preserveAspectRatio="none"><rect width="520" height="456" fill="#0b0b0b"/><g filter="url(#bl2)"><circle cx="50.0" cy="45.0" r="32" fill="rgb(35,35,35)"/><circle cx="112.0" cy="38.0" r="38" fill="rgb(44,44,44)"/><circle cx="305.0" cy="8.0" r="22" fill="rgb(44,44,44)"/><circle cx="325.0" cy="40.0" r="35" fill="rgb(26,26,26)"/><circle cx="390.0" cy="45.0" r="35" fill="rgb(28,28,28)"/><circle cx="460.0" cy="55.0" r="29" fill="rgb(30,30,30)"/><circle cx="500.0" cy="30.0" r="26" fill="rgb(24,24,24)"/><circle cx="270.0" cy="65.0" r="35" fill="rgb(26,26,26)"/><circle cx="10.0" cy="95.0" r="26" fill="rgb(28,28,28)"/><circle cx="70.0" cy="105.0" r="35" fill="rgb(33,33,33)"/><circle cx="118.0" cy="103.0" r="29" fill="rgb(35,35,35)"/><circle cx="205.0" cy="95.0" r="35" fill="rgb(30,30,30)"/><circle cx="330.0" cy="95.0" r="35" fill="rgb(26,26,26)"/><circle cx="455.0" cy="100.0" r="29" fill="rgb(24,24,24)"/><circle cx="510.0" cy="110.0" r="26" fill="rgb(28,28,28)"/><circle cx="40.0" cy="150.0" r="35" fill="rgb(30,30,30)"/><circle cx="172.0" cy="145.0" r="35" fill="rgb(38,38,38)"/><circle cx="225.0" cy="160.0" r="29" fill="rgb(26,26,26)"/><circle cx="295.0" cy="148.0" r="35" fill="rgb(33,33,33)"/><circle cx="355.0" cy="168.0" r="38" fill="rgb(26,26,26)"/><circle cx="420.0" cy="135.0" r="35" fill="rgb(33,33,33)"/><circle cx="80.0" cy="180.0" r="32" fill="rgb(35,35,35)"/><circle cx="135.0" cy="190.0" r="38" fill="rgb(30,30,30)"/><circle cx="180.0" cy="198.0" r="32" fill="rgb(28,28,28)"/><circle cx="260.0" cy="210.0" r="35" fill="rgb(33,33,33)"/><circle cx="313.0" cy="215.0" r="42" fill="rgb(50,50,50)"/><circle cx="425.0" cy="195.0" r="35" fill="rgb(38,38,38)"/><circle cx="495.0" cy="215.0" r="45" fill="rgb(35,35,35)"/><circle cx="5.0" cy="210.0" r="16" fill="rgb(39,39,39)"/><circle cx="110.0" cy="248.0" r="35" fill="rgb(36,36,36)"/><circle cx="210.0" cy="250.0" r="32" fill="rgb(26,26,26)"/><circle cx="285.0" cy="262.0" r="35" fill="rgb(33,33,33)"/><circle cx="370.0" cy="235.0" r="42" fill="rgb(26,26,26)"/><circle cx="460.0" cy="250.0" r="35" fill="rgb(26,26,26)"/><circle cx="330.0" cy="292.0" r="32" fill="rgb(26,26,26)"/><circle cx="230.0" cy="295.0" r="32" fill="rgb(28,28,28)"/><circle cx="150.0" cy="315.0" r="35" fill="rgb(28,28,28)"/><circle cx="275.0" cy="320.0" r="38" fill="rgb(28,28,28)"/><circle cx="470.0" cy="325.0" r="32" fill="rgb(26,26,26)"/><circle cx="175.0" cy="360.0" r="35" fill="rgb(30,30,30)"/><circle cx="30.0" cy="370.0" r="45" fill="rgb(44,44,44)"/><circle cx="240.0" cy="360.0" r="32" fill="rgb(24,24,24)"/><circle cx="380.0" cy="340.0" r="32" fill="rgb(19,19,19)"/><circle cx="215.0" cy="398.0" r="35" fill="rgb(28,28,28)"/><circle cx="270.0" cy="400.0" r="38" fill="rgb(35,35,35)"/><circle cx="315.0" cy="395.0" r="35" fill="rgb(33,33,33)"/><circle cx="70.0" cy="420.0" r="32" fill="rgb(39,39,39)"/><circle cx="120.0" cy="438.0" r="32" fill="rgb(35,35,35)"/><circle cx="170.0" cy="430.0" r="29" fill="rgb(24,24,24)"/><circle cx="370.0" cy="420.0" r="29" fill="rgb(19,19,19)"/><circle cx="455.0" cy="440.0" r="29" fill="rgb(24,24,24)"/></g><g filter="url(#bl)"><circle cx="50.0" cy="45.0" r="24" fill="rgb(160,160,160)" stroke="rgb(56,56,56)" stroke-width="4"/><circle cx="51" cy="55" r="5" fill="rgb(141,141,141)"/><circle cx="56" cy="52" r="5" fill="rgb(136,136,136)"/><circle cx="46" cy="45" r="6" fill="rgb(127,127,127)"/><circle cx="112.0" cy="38.0" r="28" fill="rgb(200,200,200)" stroke="rgb(70,70,70)" stroke-width="4"/><circle cx="102" cy="39" r="8" fill="rgb(225,225,225)"/><circle cx="120" cy="33" r="9" fill="rgb(216,216,216)"/><circle cx="104" cy="45" r="7" fill="rgb(171,171,171)"/><circle cx="305.0" cy="8.0" r="17" fill="rgb(200,200,200)" stroke="rgb(70,70,70)" stroke-width="4"/><circle cx="304" cy="5" r="4" fill="rgb(173,173,173)"/><circle cx="311" cy="11" r="4" fill="rgb(229,229,229)"/><circle cx="307" cy="5" r="4" fill="rgb(220,220,220)"/><circle cx="325.0" cy="40.0" r="26" fill="rgb(120,120,120)" stroke="rgb(42,42,42)" stroke-width="4"/><circle cx="326" cy="39" r="6" fill="rgb(94,94,94)"/><circle cx="320" cy="46" r="6" fill="rgb(145,145,145)"/><circle cx="329" cy="45" r="9" fill="rgb(88,88,88)"/><circle cx="390.0" cy="45.0" r="26" fill="rgb(130,130,130)" stroke="rgb(45,45,45)" stroke-width="4"/><circle cx="395" cy="42" r="5" fill="rgb(149,149,149)"/><circle cx="388" cy="48" r="6" fill="rgb(150,150,150)"/><circle cx="389" cy="40" r="9" fill="rgb(147,147,147)"/><circle cx="460.0" cy="55.0" r="21" fill="rgb(140,140,140)" stroke="rgb(49,49,49)" stroke-width="4"/><circle cx="460" cy="55" r="4" fill="rgb(118,118,118)"/><circle cx="460" cy="52" r="7" fill="rgb(113,113,113)"/><circle cx="463" cy="59" r="6" fill="rgb(163,163,163)"/><circle cx="500.0" cy="30.0" r="19" fill="rgb(110,110,110)" stroke="rgb(38,38,38)" stroke-width="4"/><circle cx="500" cy="31" r="6" fill="rgb(81,81,81)"/><circle cx="499" cy="30" r="7" fill="rgb(139,139,139)"/><circle cx="500" cy="30" r="6" fill="rgb(88,88,88)"/><circle cx="270.0" cy="65.0" r="26" fill="rgb(120,120,120)" stroke="rgb(42,42,42)" stroke-width="4"/><circle cx="273" cy="67" r="5" fill="rgb(154,154,154)"/><circle cx="271" cy="63" r="9" fill="rgb(87,87,87)"/><circle cx="273" cy="56" r="9" fill="rgb(101,101,101)"/><circle cx="10.0" cy="95.0" r="19" fill="rgb(130,130,130)" stroke="rgb(45,45,45)" stroke-width="4"/><circle cx="9" cy="95" r="5" fill="rgb(105,105,105)"/><circle cx="11" cy="96" r="6" fill="rgb(157,157,157)"/><circle cx="9" cy="95" r="6" fill="rgb(156,156,156)"/><circle cx="70.0" cy="105.0" r="26" fill="rgb(150,150,150)" stroke="rgb(52,52,52)" stroke-width="4"/><circle cx="69" cy="105" r="6" fill="rgb(126,126,126)"/><circle cx="69" cy="97" r="8" fill="rgb(121,121,121)"/><circle cx="59" cy="103" r="6" fill="rgb(124,124,124)"/><circle cx="118.0" cy="103.0" r="21" fill="rgb(160,160,160)" stroke="rgb(56,56,56)" stroke-width="4"/><circle cx="114" cy="106" r="6" fill="rgb(144,144,144)"/><circle cx="124" cy="99" r="5" fill="rgb(179,179,179)"/><circle cx="109" cy="100" r="7" fill="rgb(191,191,191)"/><circle cx="205.0" cy="95.0" r="26" fill="rgb(140,140,140)" stroke="rgb(49,49,49)" stroke-width="4"/><circle cx="203" cy="98" r="6" fill="rgb(170,170,170)"/><circle cx="206" cy="93" r="7" fill="rgb(162,162,162)"/><circle cx="207" cy="94" r="8" fill="rgb(167,167,167)"/><circle cx="330.0" cy="95.0" r="26" fill="rgb(120,120,120)" stroke="rgb(42,42,42)" stroke-width="4"/><circle cx="326" cy="85" r="8" fill="rgb(151,151,151)"/><circle cx="327" cy="99" r="7" fill="rgb(151,151,151)"/><circle cx="332" cy="96" r="6" fill="rgb(149,149,149)"/><circle cx="455.0" cy="100.0" r="21" fill="rgb(110,110,110)" stroke="rgb(38,38,38)" stroke-width="4"/><circle cx="454" cy="101" r="5" fill="rgb(144,144,144)"/><circle cx="456" cy="98" r="5" fill="rgb(129,129,129)"/><circle cx="455" cy="105" r="7" fill="rgb(129,129,129)"/><circle cx="510.0" cy="110.0" r="19" fill="rgb(130,130,130)" stroke="rgb(45,45,45)" stroke-width="4"/><circle cx="504" cy="106" r="4" fill="rgb(154,154,154)"/><circle cx="511" cy="110" r="7" fill="rgb(99,99,99)"/><circle cx="516" cy="107" r="4" fill="rgb(114,114,114)"/><circle cx="40.0" cy="150.0" r="26" fill="rgb(140,140,140)" stroke="rgb(49,49,49)" stroke-width="4"/><circle cx="40" cy="151" r="9" fill="rgb(172,172,172)"/><circle cx="41" cy="150" r="8" fill="rgb(172,172,172)"/><circle cx="40" cy="150" r="8" fill="rgb(107,107,107)"/><circle cx="172.0" cy="145.0" r="26" fill="rgb(175,175,175)" stroke="rgb(61,61,61)" stroke-width="4"/><circle cx="166" cy="152" r="8" fill="rgb(145,145,145)"/><circle cx="171" cy="148" r="5" fill="rgb(209,209,209)"/><circle cx="181" cy="139" r="6" fill="rgb(198,198,198)"/><circle cx="225.0" cy="160.0" r="21" fill="rgb(120,120,120)" stroke="rgb(42,42,42)" stroke-width="4"/><circle cx="226" cy="159" r="5" fill="rgb(103,103,103)"/><circle cx="225" cy="162" r="4" fill="rgb(102,102,102)"/><circle cx="218" cy="158" r="5" fill="rgb(93,93,93)"/><circle cx="295.0" cy="148.0" r="26" fill="rgb(150,150,150)" stroke="rgb(52,52,52)" stroke-width="4"/><circle cx="301" cy="142" r="8" fill="rgb(167,167,167)"/><circle cx="296" cy="149" r="6" fill="rgb(130,130,130)"/><circle cx="296" cy="149" r="9" fill="rgb(166,166,166)"/><circle cx="355.0" cy="168.0" r="28" fill="rgb(120,120,120)" stroke="rgb(42,42,42)" stroke-width="4"/><circle cx="348" cy="164" r="8" fill="rgb(151,151,151)"/><circle cx="351" cy="159" r="10" fill="rgb(148,148,148)"/><circle cx="350" cy="168" r="9" fill="rgb(98,98,98)"/><circle cx="420.0" cy="135.0" r="26" fill="rgb(150,150,150)" stroke="rgb(52,52,52)" stroke-width="4"/><circle cx="419" cy="135" r="9" fill="rgb(174,174,174)"/><circle cx="409" cy="133" r="7" fill="rgb(181,181,181)"/><circle cx="419" cy="136" r="6" fill="rgb(177,177,177)"/><circle cx="80.0" cy="180.0" r="24" fill="rgb(160,160,160)" stroke="rgb(56,56,56)" stroke-width="4"/><circle cx="80" cy="180" r="6" fill="rgb(185,185,185)"/><circle cx="80" cy="180" r="5" fill="rgb(128,128,128)"/><circle cx="82" cy="176" r="8" fill="rgb(129,129,129)"/><circle cx="135.0" cy="190.0" r="28" fill="rgb(140,140,140)" stroke="rgb(49,49,49)" stroke-width="4"/><circle cx="128" cy="187" r="8" fill="rgb(117,117,117)"/><circle cx="144" cy="189" r="7" fill="rgb(174,174,174)"/><circle cx="143" cy="187" r="8" fill="rgb(171,171,171)"/><circle cx="180.0" cy="198.0" r="24" fill="rgb(130,130,130)" stroke="rgb(45,45,45)" stroke-width="4"/><circle cx="174" cy="199" r="6" fill="rgb(160,160,160)"/><circle cx="180" cy="191" r="7" fill="rgb(96,96,96)"/><circle cx="180" cy="197" r="6" fill="rgb(104,104,104)"/><circle cx="260.0" cy="210.0" r="26" fill="rgb(150,150,150)" stroke="rgb(52,52,52)" stroke-width="4"/><circle cx="258" cy="210" r="8" fill="rgb(122,122,122)"/><circle cx="262" cy="202" r="6" fill="rgb(174,174,174)"/><circle cx="255" cy="213" r="8" fill="rgb(125,125,125)"/><circle cx="313.0" cy="215.0" r="31" fill="rgb(230,230,230)" stroke="rgb(80,80,80)" stroke-width="4"/><circle cx="309" cy="222" r="9" fill="rgb(207,207,207)"/><circle cx="307" cy="217" r="9" fill="rgb(249,249,249)"/><circle cx="304" cy="209" r="10" fill="rgb(213,213,213)"/><circle cx="425.0" cy="195.0" r="26" fill="rgb(175,175,175)" stroke="rgb(61,61,61)" stroke-width="4"/><circle cx="425" cy="192" r="9" fill="rgb(195,195,195)"/><circle cx="425" cy="196" r="8" fill="rgb(151,151,151)"/><circle cx="425" cy="195" r="8" fill="rgb(145,145,145)"/><circle cx="495.0" cy="215.0" r="33" fill="rgb(160,160,160)" stroke="rgb(56,56,56)" stroke-width="4"/><circle cx="487" cy="211" r="8" fill="rgb(144,144,144)"/><circle cx="494" cy="216" r="7" fill="rgb(126,126,126)"/><circle cx="496" cy="215" r="11" fill="rgb(135,135,135)"/><circle cx="5.0" cy="210.0" r="12" fill="rgb(180,180,180)" stroke="rgb(62,62,62)" stroke-width="4"/><circle cx="110.0" cy="248.0" r="26" fill="rgb(165,165,165)" stroke="rgb(57,57,57)" stroke-width="4"/><circle cx="108" cy="237" r="6" fill="rgb(141,141,141)"/><circle cx="115" cy="255" r="7" fill="rgb(198,198,198)"/><circle cx="115" cy="249" r="6" fill="rgb(130,130,130)"/><circle cx="210.0" cy="250.0" r="24" fill="rgb(120,120,120)" stroke="rgb(42,42,42)" stroke-width="4"/><circle cx="210" cy="247" r="6" fill="rgb(100,100,100)"/><circle cx="209" cy="247" r="6" fill="rgb(147,147,147)"/><circle cx="212" cy="257" r="8" fill="rgb(101,101,101)"/><circle cx="285.0" cy="262.0" r="26" fill="rgb(150,150,150)" stroke="rgb(52,52,52)" stroke-width="4"/><circle cx="279" cy="254" r="8" fill="rgb(168,168,168)"/><circle cx="286" cy="273" r="7" fill="rgb(171,171,171)"/><circle cx="291" cy="257" r="9" fill="rgb(182,182,182)"/><circle cx="370.0" cy="235.0" r="31" fill="rgb(120,120,120)" stroke="rgb(42,42,42)" stroke-width="4"/><circle cx="364" cy="229" r="9" fill="rgb(136,136,136)"/><circle cx="363" cy="246" r="8" fill="rgb(86,86,86)"/><circle cx="364" cy="224" r="9" fill="rgb(148,148,148)"/><circle cx="460.0" cy="250.0" r="26" fill="rgb(120,120,120)" stroke="rgb(42,42,42)" stroke-width="4"/><circle cx="459" cy="255" r="8" fill="rgb(91,91,91)"/><circle cx="460" cy="250" r="8" fill="rgb(142,142,142)"/><circle cx="463" cy="253" r="5" fill="rgb(143,143,143)"/><circle cx="330.0" cy="292.0" r="24" fill="rgb(120,120,120)" stroke="rgb(42,42,42)" stroke-width="4"/><circle cx="326" cy="298" r="5" fill="rgb(104,104,104)"/><circle cx="328" cy="285" r="6" fill="rgb(142,142,142)"/><circle cx="324" cy="289" r="6" fill="rgb(103,103,103)"/><circle cx="230.0" cy="295.0" r="24" fill="rgb(130,130,130)" stroke="rgb(45,45,45)" stroke-width="4"/><circle cx="230" cy="295" r="5" fill="rgb(102,102,102)"/><circle cx="228" cy="299" r="7" fill="rgb(163,163,163)"/><circle cx="238" cy="293" r="8" fill="rgb(157,157,157)"/><circle cx="150.0" cy="315.0" r="26" fill="rgb(130,130,130)" stroke="rgb(45,45,45)" stroke-width="4"/><circle cx="155" cy="313" r="6" fill="rgb(156,156,156)"/><circle cx="154" cy="304" r="7" fill="rgb(104,104,104)"/><circle cx="146" cy="318" r="8" fill="rgb(162,162,162)"/><circle cx="275.0" cy="320.0" r="28" fill="rgb(130,130,130)" stroke="rgb(45,45,45)" stroke-width="4"/><circle cx="282" cy="319" r="9" fill="rgb(96,96,96)"/><circle cx="264" cy="315" r="6" fill="rgb(106,106,106)"/><circle cx="280" cy="329" r="6" fill="rgb(152,152,152)"/><circle cx="470.0" cy="325.0" r="24" fill="rgb(120,120,120)" stroke="rgb(42,42,42)" stroke-width="4"/><circle cx="462" cy="331" r="7" fill="rgb(86,86,86)"/><circle cx="468" cy="318" r="8" fill="rgb(140,140,140)"/><circle cx="469" cy="325" r="6" fill="rgb(92,92,92)"/><circle cx="175.0" cy="360.0" r="26" fill="rgb(140,140,140)" stroke="rgb(49,49,49)" stroke-width="4"/><circle cx="175" cy="361" r="8" fill="rgb(121,121,121)"/><circle cx="174" cy="362" r="8" fill="rgb(116,116,116)"/><circle cx="179" cy="361" r="7" fill="rgb(114,114,114)"/><circle cx="30.0" cy="370.0" r="33" fill="rgb(200,200,200)" stroke="rgb(70,70,70)" stroke-width="4"/><circle cx="31" cy="370" r="11" fill="rgb(220,220,220)"/><circle cx="40" cy="378" r="7" fill="rgb(226,226,226)"/><circle cx="30" cy="370" r="11" fill="rgb(177,177,177)"/><circle cx="240.0" cy="360.0" r="24" fill="rgb(110,110,110)" stroke="rgb(38,38,38)" stroke-width="4"/><circle cx="235" cy="352" r="7" fill="rgb(136,136,136)"/><circle cx="233" cy="361" r="7" fill="rgb(141,141,141)"/><circle cx="240" cy="358" r="7" fill="rgb(89,89,89)"/><circle cx="380.0" cy="340.0" r="24" fill="rgb(90,90,90)" stroke="rgb(31,31,31)" stroke-width="4"/><circle cx="375" cy="332" r="7" fill="rgb(70,70,70)"/><circle cx="381" cy="337" r="5" fill="rgb(106,106,106)"/><circle cx="376" cy="348" r="6" fill="rgb(123,123,123)"/><circle cx="215.0" cy="398.0" r="26" fill="rgb(130,130,130)" stroke="rgb(45,45,45)" stroke-width="4"/><circle cx="217" cy="409" r="6" fill="rgb(96,96,96)"/><circle cx="216" cy="396" r="9" fill="rgb(105,105,105)"/><circle cx="214" cy="398" r="7" fill="rgb(164,164,164)"/><circle cx="270.0" cy="400.0" r="28" fill="rgb(160,160,160)" stroke="rgb(56,56,56)" stroke-width="4"/><circle cx="275" cy="397" r="7" fill="rgb(189,189,189)"/><circle cx="281" cy="399" r="10" fill="rgb(144,144,144)"/><circle cx="264" cy="407" r="10" fill="rgb(130,130,130)"/><circle cx="315.0" cy="395.0" r="26" fill="rgb(150,150,150)" stroke="rgb(52,52,52)" stroke-width="4"/><circle cx="315" cy="395" r="7" fill="rgb(122,122,122)"/><circle cx="316" cy="395" r="9" fill="rgb(133,133,133)"/><circle cx="314" cy="398" r="7" fill="rgb(181,181,181)"/><circle cx="70.0" cy="420.0" r="24" fill="rgb(180,180,180)" stroke="rgb(62,62,62)" stroke-width="4"/><circle cx="64" cy="420" r="8" fill="rgb(160,160,160)"/><circle cx="69" cy="418" r="7" fill="rgb(159,159,159)"/><circle cx="68" cy="421" r="6" fill="rgb(149,149,149)"/><circle cx="120.0" cy="438.0" r="24" fill="rgb(160,160,160)" stroke="rgb(56,56,56)" stroke-width="4"/><circle cx="118" cy="438" r="8" fill="rgb(126,126,126)"/><circle cx="112" cy="437" r="6" fill="rgb(127,127,127)"/><circle cx="127" cy="434" r="7" fill="rgb(178,178,178)"/><circle cx="170.0" cy="430.0" r="21" fill="rgb(110,110,110)" stroke="rgb(38,38,38)" stroke-width="4"/><circle cx="170" cy="430" r="7" fill="rgb(82,82,82)"/><circle cx="170" cy="431" r="6" fill="rgb(94,94,94)"/><circle cx="169" cy="423" r="6" fill="rgb(87,87,87)"/><circle cx="370.0" cy="420.0" r="21" fill="rgb(90,90,90)" stroke="rgb(31,31,31)" stroke-width="4"/><circle cx="372" cy="419" r="6" fill="rgb(119,119,119)"/><circle cx="367" cy="423" r="7" fill="rgb(59,59,59)"/><circle cx="366" cy="416" r="7" fill="rgb(64,64,64)"/><circle cx="455.0" cy="440.0" r="21" fill="rgb(110,110,110)" stroke="rgb(38,38,38)" stroke-width="4"/><circle cx="455" cy="440" r="6" fill="rgb(131,131,131)"/><circle cx="455" cy="440" r="7" fill="rgb(138,138,138)"/><circle cx="461" cy="439" r="6" fill="rgb(78,78,78)"/></g><g filter="url(#bl3)"><circle cx="305.0" cy="8.0" r="13" fill="rgb(210,210,210)"/><circle cx="500.0" cy="30.0" r="15" fill="rgb(115,115,115)"/><circle cx="10.0" cy="95.0" r="15" fill="rgb(136,136,136)"/><circle cx="510.0" cy="110.0" r="15" fill="rgb(136,136,136)"/><circle cx="5.0" cy="210.0" r="10" fill="rgb(189,189,189)"/></g></svg><svg class="mic" style="left:343px;top:384px;width:131px;height:115px" viewBox="0 0 520 456" preserveAspectRatio="none"><rect width="520" height="456" fill="#0a0a0a"/><g filter="url(#bl2)"><circle cx="105.0" cy="15.0" r="32" fill="rgb(39,39,39)"/><circle cx="100.0" cy="60.0" r="29" fill="rgb(26,26,26)"/><circle cx="165.0" cy="70.0" r="38" fill="rgb(24,24,24)"/><circle cx="90.0" cy="120.0" r="32" fill="rgb(28,28,28)"/><circle cx="135.0" cy="120.0" r="35" fill="rgb(28,28,28)"/><circle cx="125.0" cy="165.0" r="32" fill="rgb(46,46,46)"/><circle cx="170.0" cy="155.0" r="35" fill="rgb(28,28,28)"/><circle cx="315.0" cy="25.0" r="29" fill="rgb(30,30,30)"/><circle cx="372.0" cy="32.0" r="32" fill="rgb(37,37,37)"/><circle cx="420.0" cy="25.0" r="29" fill="rgb(26,26,26)"/><circle cx="345.0" cy="65.0" r="29" fill="rgb(30,30,30)"/><circle cx="395.0" cy="85.0" r="35" fill="rgb(30,30,30)"/><circle cx="308.0" cy="95.0" r="29" fill="rgb(44,44,44)"/><circle cx="350.0" cy="130.0" r="38" fill="rgb(41,41,41)"/><circle cx="440.0" cy="118.0" r="32" fill="rgb(28,28,28)"/><circle cx="510.0" cy="120.0" r="22" fill="rgb(37,37,37)"/><circle cx="312.0" cy="150.0" r="35" fill="rgb(33,33,33)"/><circle cx="395.0" cy="140.0" r="29" fill="rgb(33,33,33)"/><circle cx="478.0" cy="162.0" r="38" fill="rgb(45,45,45)"/><circle cx="425.0" cy="165.0" r="32" fill="rgb(33,33,33)"/><circle cx="345.0" cy="182.0" r="32" fill="rgb(35,35,35)"/><circle cx="265.0" cy="198.0" r="35" fill="rgb(37,37,37)"/><circle cx="305.0" cy="200.0" r="29" fill="rgb(33,33,33)"/><circle cx="150.0" cy="205.0" r="35" fill="rgb(28,28,28)"/><circle cx="195.0" cy="225.0" r="35" fill="rgb(30,30,30)"/><circle cx="115.0" cy="230.0" r="32" fill="rgb(28,28,28)"/><circle cx="435.0" cy="212.0" r="38" fill="rgb(46,46,46)"/><circle cx="490.0" cy="215.0" r="35" fill="rgb(33,33,33)"/><circle cx="375.0" cy="222.0" r="32" fill="rgb(28,28,28)"/><circle cx="248.0" cy="248.0" r="32" fill="rgb(35,35,35)"/><circle cx="290.0" cy="255.0" r="35" fill="rgb(41,41,41)"/><circle cx="205.0" cy="268.0" r="38" fill="rgb(39,39,39)"/><circle cx="155.0" cy="290.0" r="38" fill="rgb(35,35,35)"/><circle cx="128.0" cy="262.0" r="29" fill="rgb(35,35,35)"/><circle cx="40.0" cy="275.0" r="35" fill="rgb(30,30,30)"/><circle cx="85.0" cy="275.0" r="35" fill="rgb(33,33,33)"/><circle cx="432.0" cy="262.0" r="29" fill="rgb(41,41,41)"/><circle cx="470.0" cy="262.0" r="29" fill="rgb(33,33,33)"/><circle cx="108.0" cy="300.0" r="29" fill="rgb(33,33,33)"/><circle cx="65.0" cy="315.0" r="32" fill="rgb(35,35,35)"/><circle cx="20.0" cy="320.0" r="32" fill="rgb(37,37,37)"/><circle cx="180.0" cy="325.0" r="35" fill="rgb(41,41,41)"/><circle cx="335.0" cy="310.0" r="32" fill="rgb(35,35,35)"/><circle cx="380.0" cy="298.0" r="29" fill="rgb(39,39,39)"/><circle cx="430.0" cy="300.0" r="32" fill="rgb(37,37,37)"/><circle cx="492.0" cy="298.0" r="29" fill="rgb(46,46,46)"/><circle cx="470.0" cy="340.0" r="35" fill="rgb(33,33,33)"/><circle cx="370.0" cy="340.0" r="35" fill="rgb(38,38,38)"/><circle cx="410.0" cy="330.0" r="32" fill="rgb(33,33,33)"/><circle cx="278.0" cy="360.0" r="38" fill="rgb(44,44,44)"/><circle cx="230.0" cy="360.0" r="29" fill="rgb(26,26,26)"/><circle cx="350.0" cy="375.0" r="32" fill="rgb(37,37,37)"/><circle cx="385.0" cy="385.0" r="29" fill="rgb(33,33,33)"/><circle cx="120.0" cy="375.0" r="45" fill="rgb(26,26,26)"/><circle cx="65.0" cy="360.0" r="32" fill="rgb(28,28,28)"/><circle cx="20.0" cy="380.0" r="26" fill="rgb(26,26,26)"/><circle cx="55.0" cy="405.0" r="38" fill="rgb(30,30,30)"/><circle cx="290.0" cy="400.0" r="35" fill="rgb(39,39,39)"/><circle cx="340.0" cy="420.0" r="42" fill="rgb(41,41,41)"/><circle cx="425.0" cy="400.0" r="38" fill="rgb(33,33,33)"/><circle cx="470.0" cy="390.0" r="29" fill="rgb(28,28,28)"/><circle cx="510.0" cy="360.0" r="29" fill="rgb(28,28,28)"/><circle cx="450.0" cy="440.0" r="32" fill="rgb(26,26,26)"/><circle cx="390.0" cy="440.0" r="32" fill="rgb(33,33,33)"/><circle cx="270.0" cy="440.0" r="29" fill="rgb(28,28,28)"/><circle cx="500.0" cy="425.0" r="26" fill="rgb(28,28,28)"/><circle cx="210.0" cy="440.0" r="22" fill="rgb(17,17,17)"/></g><g filter="url(#bl)"><circle cx="105.0" cy="15.0" r="23" fill="rgb(180,180,180)" stroke="rgb(62,62,62)" stroke-width="4"/><circle cx="101" cy="16" r="7" fill="rgb(161,161,161)"/><circle cx="102" cy="19" r="8" fill="rgb(158,158,158)"/><circle cx="103" cy="8" r="6" fill="rgb(150,150,150)"/><circle cx="100.0" cy="60.0" r="21" fill="rgb(120,120,120)" stroke="rgb(42,42,42)" stroke-width="4"/><circle cx="100" cy="59" r="5" fill="rgb(103,103,103)"/><circle cx="106" cy="53" r="5" fill="rgb(89,89,89)"/><circle cx="100" cy="59" r="5" fill="rgb(139,139,139)"/><circle cx="165.0" cy="70.0" r="28" fill="rgb(110,110,110)" stroke="rgb(38,38,38)" stroke-width="4"/><circle cx="168" cy="59" r="7" fill="rgb(143,143,143)"/><circle cx="165" cy="70" r="6" fill="rgb(77,77,77)"/><circle cx="161" cy="74" r="9" fill="rgb(90,90,90)"/><circle cx="90.0" cy="120.0" r="23" fill="rgb(130,130,130)" stroke="rgb(45,45,45)" stroke-width="4"/><circle cx="96" cy="112" r="7" fill="rgb(112,112,112)"/><circle cx="92" cy="119" r="5" fill="rgb(97,97,97)"/><circle cx="95" cy="117" r="5" fill="rgb(155,155,155)"/><circle cx="135.0" cy="120.0" r="25" fill="rgb(130,130,130)" stroke="rgb(45,45,45)" stroke-width="4"/><circle cx="137" cy="121" r="6" fill="rgb(100,100,100)"/><circle cx="143" cy="117" r="7" fill="rgb(113,113,113)"/><circle cx="134" cy="119" r="7" fill="rgb(159,159,159)"/><circle cx="125.0" cy="165.0" r="23" fill="rgb(210,210,210)" stroke="rgb(73,73,73)" stroke-width="4"/><circle cx="134" cy="167" r="5" fill="rgb(244,244,244)"/><circle cx="125" cy="165" r="6" fill="rgb(241,241,241)"/><circle cx="118" cy="162" r="8" fill="rgb(227,227,227)"/><circle cx="170.0" cy="155.0" r="25" fill="rgb(130,130,130)" stroke="rgb(45,45,45)" stroke-width="4"/><circle cx="168" cy="157" r="7" fill="rgb(95,95,95)"/><circle cx="179" cy="156" r="5" fill="rgb(145,145,145)"/><circle cx="171" cy="158" r="6" fill="rgb(108,108,108)"/><circle cx="315.0" cy="25.0" r="21" fill="rgb(140,140,140)" stroke="rgb(49,49,49)" stroke-width="4"/><circle cx="314" cy="25" r="7" fill="rgb(170,170,170)"/><circle cx="308" cy="25" r="4" fill="rgb(113,113,113)"/><circle cx="314" cy="24" r="7" fill="rgb(165,165,165)"/><circle cx="372.0" cy="32.0" r="23" fill="rgb(170,170,170)" stroke="rgb(59,59,59)" stroke-width="4"/><circle cx="371" cy="31" r="8" fill="rgb(188,188,188)"/><circle cx="372" cy="33" r="5" fill="rgb(149,149,149)"/><circle cx="373" cy="33" r="5" fill="rgb(153,153,153)"/><circle cx="420.0" cy="25.0" r="21" fill="rgb(120,120,120)" stroke="rgb(42,42,42)" stroke-width="4"/><circle cx="416" cy="29" r="6" fill="rgb(140,140,140)"/><circle cx="418" cy="34" r="4" fill="rgb(148,148,148)"/><circle cx="414" cy="27" r="7" fill="rgb(146,146,146)"/><circle cx="345.0" cy="65.0" r="21" fill="rgb(140,140,140)" stroke="rgb(49,49,49)" stroke-width="4"/><circle cx="344" cy="63" r="7" fill="rgb(161,161,161)"/><circle cx="345" cy="66" r="7" fill="rgb(121,121,121)"/><circle cx="346" cy="64" r="6" fill="rgb(164,164,164)"/><circle cx="395.0" cy="85.0" r="25" fill="rgb(140,140,140)" stroke="rgb(49,49,49)" stroke-width="4"/><circle cx="393" cy="86" r="6" fill="rgb(166,166,166)"/><circle cx="402" cy="88" r="7" fill="rgb(165,165,165)"/><circle cx="385" cy="83" r="7" fill="rgb(107,107,107)"/><circle cx="308.0" cy="95.0" r="21" fill="rgb(200,200,200)" stroke="rgb(70,70,70)" stroke-width="4"/><circle cx="309" cy="95" r="4" fill="rgb(170,170,170)"/><circle cx="307" cy="91" r="6" fill="rgb(232,232,232)"/><circle cx="308" cy="95" r="5" fill="rgb(167,167,167)"/><circle cx="350.0" cy="130.0" r="28" fill="rgb(190,190,190)" stroke="rgb(66,66,66)" stroke-width="4"/><circle cx="354" cy="122" r="6" fill="rgb(222,222,222)"/><circle cx="344" cy="126" r="6" fill="rgb(213,213,213)"/><circle cx="353" cy="137" r="6" fill="rgb(173,173,173)"/><circle cx="440.0" cy="118.0" r="23" fill="rgb(130,130,130)" stroke="rgb(45,45,45)" stroke-width="4"/><circle cx="436" cy="114" r="7" fill="rgb(145,145,145)"/><circle cx="436" cy="125" r="6" fill="rgb(105,105,105)"/><circle cx="442" cy="121" r="5" fill="rgb(161,161,161)"/><circle cx="510.0" cy="120.0" r="16" fill="rgb(170,170,170)" stroke="rgb(59,59,59)" stroke-width="4"/><circle cx="509" cy="121" r="4" fill="rgb(151,151,151)"/><circle cx="511" cy="121" r="5" fill="rgb(147,147,147)"/><circle cx="506" cy="121" r="3" fill="rgb(202,202,202)"/><circle cx="312.0" cy="150.0" r="25" fill="rgb(150,150,150)" stroke="rgb(52,52,52)" stroke-width="4"/><circle cx="321" cy="150" r="6" fill="rgb(134,134,134)"/><circle cx="304" cy="143" r="6" fill="rgb(166,166,166)"/><circle cx="316" cy="144" r="8" fill="rgb(122,122,122)"/><circle cx="395.0" cy="140.0" r="21" fill="rgb(150,150,150)" stroke="rgb(52,52,52)" stroke-width="4"/><circle cx="395" cy="140" r="7" fill="rgb(115,115,115)"/><circle cx="402" cy="135" r="4" fill="rgb(184,184,184)"/><circle cx="394" cy="142" r="5" fill="rgb(174,174,174)"/><circle cx="478.0" cy="162.0" r="28" fill="rgb(205,205,205)" stroke="rgb(71,71,71)" stroke-width="4"/><circle cx="481" cy="158" r="7" fill="rgb(188,188,188)"/><circle cx="467" cy="164" r="6" fill="rgb(228,228,228)"/><circle cx="475" cy="164" r="6" fill="rgb(183,183,183)"/><circle cx="425.0" cy="165.0" r="23" fill="rgb(150,150,150)" stroke="rgb(52,52,52)" stroke-width="4"/><circle cx="426" cy="169" r="5" fill="rgb(116,116,116)"/><circle cx="435" cy="163" r="6" fill="rgb(169,169,169)"/><circle cx="425" cy="165" r="8" fill="rgb(174,174,174)"/><circle cx="345.0" cy="182.0" r="23" fill="rgb(160,160,160)" stroke="rgb(56,56,56)" stroke-width="4"/><circle cx="341" cy="190" r="5" fill="rgb(135,135,135)"/><circle cx="347" cy="181" r="8" fill="rgb(144,144,144)"/><circle cx="346" cy="182" r="6" fill="rgb(131,131,131)"/><circle cx="265.0" cy="198.0" r="25" fill="rgb(170,170,170)" stroke="rgb(59,59,59)" stroke-width="4"/><circle cx="266" cy="194" r="7" fill="rgb(192,192,192)"/><circle cx="269" cy="194" r="6" fill="rgb(192,192,192)"/><circle cx="263" cy="202" r="8" fill="rgb(139,139,139)"/><circle cx="305.0" cy="200.0" r="21" fill="rgb(150,150,150)" stroke="rgb(52,52,52)" stroke-width="4"/><circle cx="306" cy="201" r="4" fill="rgb(178,178,178)"/><circle cx="297" cy="201" r="6" fill="rgb(183,183,183)"/><circle cx="305" cy="201" r="7" fill="rgb(174,174,174)"/><circle cx="150.0" cy="205.0" r="25" fill="rgb(130,130,130)" stroke="rgb(45,45,45)" stroke-width="4"/><circle cx="151" cy="207" r="5" fill="rgb(159,159,159)"/><circle cx="149" cy="209" r="9" fill="rgb(104,104,104)"/><circle cx="150" cy="200" r="7" fill="rgb(149,149,149)"/><circle cx="195.0" cy="225.0" r="25" fill="rgb(140,140,140)" stroke="rgb(49,49,49)" stroke-width="4"/><circle cx="197" cy="224" r="7" fill="rgb(108,108,108)"/><circle cx="201" cy="225" r="8" fill="rgb(106,106,106)"/><circle cx="194" cy="225" r="7" fill="rgb(172,172,172)"/><circle cx="115.0" cy="230.0" r="23" fill="rgb(130,130,130)" stroke="rgb(45,45,45)" stroke-width="4"/><circle cx="115" cy="228" r="8" fill="rgb(96,96,96)"/><circle cx="118" cy="232" r="8" fill="rgb(99,99,99)"/><circle cx="117" cy="235" r="8" fill="rgb(158,158,158)"/><circle cx="435.0" cy="212.0" r="28" fill="rgb(210,210,210)" stroke="rgb(73,73,73)" stroke-width="4"/><circle cx="435" cy="213" r="7" fill="rgb(181,181,181)"/><circle cx="434" cy="208" r="7" fill="rgb(225,225,225)"/><circle cx="436" cy="206" r="9" fill="rgb(188,188,188)"/><circle cx="490.0" cy="215.0" r="25" fill="rgb(150,150,150)" stroke="rgb(52,52,52)" stroke-width="4"/><circle cx="496" cy="210" r="8" fill="rgb(181,181,181)"/><circle cx="492" cy="214" r="9" fill="rgb(165,165,165)"/><circle cx="493" cy="219" r="8" fill="rgb(118,118,118)"/><circle cx="375.0" cy="222.0" r="23" fill="rgb(130,130,130)" stroke="rgb(45,45,45)" stroke-width="4"/><circle cx="371" cy="218" r="5" fill="rgb(155,155,155)"/><circle cx="368" cy="216" r="8" fill="rgb(155,155,155)"/><circle cx="375" cy="215" r="8" fill="rgb(151,151,151)"/><circle cx="248.0" cy="248.0" r="23" fill="rgb(160,160,160)" stroke="rgb(56,56,56)" stroke-width="4"/><circle cx="248" cy="248" r="5" fill="rgb(189,189,189)"/><circle cx="248" cy="248" r="6" fill="rgb(193,193,193)"/><circle cx="246" cy="245" r="5" fill="rgb(133,133,133)"/><circle cx="290.0" cy="255.0" r="25" fill="rgb(190,190,190)" stroke="rgb(66,66,66)" stroke-width="4"/><circle cx="290" cy="253" r="6" fill="rgb(170,170,170)"/><circle cx="294" cy="252" r="8" fill="rgb(216,216,216)"/><circle cx="297" cy="259" r="5" fill="rgb(223,223,223)"/><circle cx="205.0" cy="268.0" r="28" fill="rgb(180,180,180)" stroke="rgb(62,62,62)" stroke-width="4"/><circle cx="199" cy="265" r="8" fill="rgb(202,202,202)"/><circle cx="208" cy="265" r="10" fill="rgb(195,195,195)"/><circle cx="203" cy="273" r="10" fill="rgb(203,203,203)"/><circle cx="155.0" cy="290.0" r="28" fill="rgb(160,160,160)" stroke="rgb(56,56,56)" stroke-width="4"/><circle cx="147" cy="294" r="9" fill="rgb(127,127,127)"/><circle cx="154" cy="287" r="7" fill="rgb(182,182,182)"/><circle cx="165" cy="290" r="6" fill="rgb(143,143,143)"/><circle cx="128.0" cy="262.0" r="21" fill="rgb(160,160,160)" stroke="rgb(56,56,56)" stroke-width="4"/><circle cx="127" cy="259" r="5" fill="rgb(175,175,175)"/><circle cx="121" cy="268" r="4" fill="rgb(178,178,178)"/><circle cx="128" cy="262" r="4" fill="rgb(133,133,133)"/><circle cx="40.0" cy="275.0" r="25" fill="rgb(140,140,140)" stroke="rgb(49,49,49)" stroke-width="4"/><circle cx="39" cy="275" r="8" fill="rgb(168,168,168)"/><circle cx="41" cy="275" r="8" fill="rgb(157,157,157)"/><circle cx="42" cy="274" r="8" fill="rgb(160,160,160)"/><circle cx="85.0" cy="275.0" r="25" fill="rgb(150,150,150)" stroke="rgb(52,52,52)" stroke-width="4"/><circle cx="87" cy="270" r="7" fill="rgb(184,184,184)"/><circle cx="85" cy="274" r="5" fill="rgb(181,181,181)"/><circle cx="85" cy="265" r="7" fill="rgb(166,166,166)"/><circle cx="432.0" cy="262.0" r="21" fill="rgb(190,190,190)" stroke="rgb(66,66,66)" stroke-width="4"/><circle cx="428" cy="259" r="6" fill="rgb(155,155,155)"/><circle cx="428" cy="264" r="4" fill="rgb(163,163,163)"/><circle cx="431" cy="268" r="6" fill="rgb(157,157,157)"/><circle cx="470.0" cy="262.0" r="21" fill="rgb(150,150,150)" stroke="rgb(52,52,52)" stroke-width="4"/><circle cx="470" cy="267" r="7" fill="rgb(165,165,165)"/><circle cx="466" cy="262" r="5" fill="rgb(171,171,171)"/><circle cx="469" cy="259" r="4" fill="rgb(171,171,171)"/><circle cx="108.0" cy="300.0" r="21" fill="rgb(150,150,150)" stroke="rgb(52,52,52)" stroke-width="4"/><circle cx="110" cy="292" r="7" fill="rgb(183,183,183)"/><circle cx="108" cy="307" r="4" fill="rgb(181,181,181)"/><circle cx="104" cy="302" r="4" fill="rgb(174,174,174)"/><circle cx="65.0" cy="315.0" r="23" fill="rgb(160,160,160)" stroke="rgb(56,56,56)" stroke-width="4"/><circle cx="67" cy="323" r="5" fill="rgb(133,133,133)"/><circle cx="66" cy="306" r="8" fill="rgb(175,175,175)"/><circle cx="66" cy="310" r="5" fill="rgb(141,141,141)"/><circle cx="20.0" cy="320.0" r="23" fill="rgb(170,170,170)" stroke="rgb(59,59,59)" stroke-width="4"/><circle cx="21" cy="319" r="6" fill="rgb(149,149,149)"/><circle cx="21" cy="327" r="6" fill="rgb(145,145,145)"/><circle cx="14" cy="324" r="6" fill="rgb(194,194,194)"/><circle cx="180.0" cy="325.0" r="25" fill="rgb(190,190,190)" stroke="rgb(66,66,66)" stroke-width="4"/><circle cx="183" cy="327" r="6" fill="rgb(160,160,160)"/><circle cx="187" cy="326" r="6" fill="rgb(165,165,165)"/><circle cx="186" cy="329" r="8" fill="rgb(215,215,215)"/><circle cx="335.0" cy="310.0" r="23" fill="rgb(160,160,160)" stroke="rgb(56,56,56)" stroke-width="4"/><circle cx="337" cy="313" r="8" fill="rgb(137,137,137)"/><circle cx="336" cy="310" r="8" fill="rgb(186,186,186)"/><circle cx="331" cy="304" r="5" fill="rgb(132,132,132)"/><circle cx="380.0" cy="298.0" r="21" fill="rgb(180,180,180)" stroke="rgb(62,62,62)" stroke-width="4"/><circle cx="379" cy="297" r="5" fill="rgb(159,159,159)"/><circle cx="377" cy="296" r="6" fill="rgb(164,164,164)"/><circle cx="380" cy="298" r="6" fill="rgb(152,152,152)"/><circle cx="430.0" cy="300.0" r="23" fill="rgb(170,170,170)" stroke="rgb(59,59,59)" stroke-width="4"/><circle cx="426" cy="302" r="6" fill="rgb(196,196,196)"/><circle cx="427" cy="301" r="6" fill="rgb(152,152,152)"/><circle cx="440" cy="300" r="7" fill="rgb(143,143,143)"/><circle cx="492.0" cy="298.0" r="21" fill="rgb(210,210,210)" stroke="rgb(73,73,73)" stroke-width="4"/><circle cx="492" cy="298" r="6" fill="rgb(242,242,242)"/><circle cx="484" cy="297" r="6" fill="rgb(228,228,228)"/><circle cx="488" cy="292" r="7" fill="rgb(191,191,191)"/><circle cx="470.0" cy="340.0" r="25" fill="rgb(150,150,150)" stroke="rgb(52,52,52)" stroke-width="4"/><circle cx="468" cy="332" r="8" fill="rgb(117,117,117)"/><circle cx="478" cy="343" r="8" fill="rgb(129,129,129)"/><circle cx="470" cy="341" r="7" fill="rgb(121,121,121)"/><circle cx="370.0" cy="340.0" r="25" fill="rgb(175,175,175)" stroke="rgb(61,61,61)" stroke-width="4"/><circle cx="371" cy="341" r="8" fill="rgb(190,190,190)"/><circle cx="373" cy="346" r="5" fill="rgb(201,201,201)"/><circle cx="378" cy="334" r="5" fill="rgb(192,192,192)"/><circle cx="410.0" cy="330.0" r="23" fill="rgb(150,150,150)" stroke="rgb(52,52,52)" stroke-width="4"/><circle cx="407" cy="322" r="8" fill="rgb(178,178,178)"/><circle cx="415" cy="327" r="5" fill="rgb(134,134,134)"/><circle cx="417" cy="330" r="8" fill="rgb(132,132,132)"/><circle cx="278.0" cy="360.0" r="28" fill="rgb(200,200,200)" stroke="rgb(70,70,70)" stroke-width="4"/><circle cx="274" cy="354" r="7" fill="rgb(225,225,225)"/><circle cx="277" cy="354" r="7" fill="rgb(219,219,219)"/><circle cx="278" cy="361" r="6" fill="rgb(182,182,182)"/><circle cx="230.0" cy="360.0" r="21" fill="rgb(120,120,120)" stroke="rgb(42,42,42)" stroke-width="4"/><circle cx="233" cy="362" r="6" fill="rgb(98,98,98)"/><circle cx="229" cy="359" r="5" fill="rgb(136,136,136)"/><circle cx="231" cy="359" r="5" fill="rgb(143,143,143)"/><circle cx="350.0" cy="375.0" r="23" fill="rgb(170,170,170)" stroke="rgb(59,59,59)" stroke-width="4"/><circle cx="351" cy="371" r="7" fill="rgb(197,197,197)"/><circle cx="347" cy="375" r="8" fill="rgb(151,151,151)"/><circle cx="352" cy="372" r="6" fill="rgb(139,139,139)"/><circle cx="385.0" cy="385.0" r="21" fill="rgb(150,150,150)" stroke="rgb(52,52,52)" stroke-width="4"/><circle cx="387" cy="380" r="5" fill="rgb(120,120,120)"/><circle cx="384" cy="381" r="7" fill="rgb(115,115,115)"/><circle cx="385" cy="385" r="5" fill="rgb(166,166,166)"/><circle cx="120.0" cy="375.0" r="32" fill="rgb(120,120,120)" stroke="rgb(42,42,42)" stroke-width="4"/><circle cx="116" cy="383" r="7" fill="rgb(96,96,96)"/><circle cx="115" cy="374" r="11" fill="rgb(90,90,90)"/><circle cx="119" cy="375" r="8" fill="rgb(143,143,143)"/><circle cx="65.0" cy="360.0" r="23" fill="rgb(130,130,130)" stroke="rgb(45,45,45)" stroke-width="4"/><circle cx="58" cy="357" r="8" fill="rgb(151,151,151)"/><circle cx="67" cy="360" r="8" fill="rgb(95,95,95)"/><circle cx="64" cy="354" r="6" fill="rgb(108,108,108)"/><circle cx="20.0" cy="380.0" r="18" fill="rgb(120,120,120)" stroke="rgb(42,42,42)" stroke-width="4"/><circle cx="17" cy="373" r="4" fill="rgb(153,153,153)"/><circle cx="17" cy="379" r="4" fill="rgb(86,86,86)"/><circle cx="18" cy="379" r="5" fill="rgb(97,97,97)"/><circle cx="55.0" cy="405.0" r="28" fill="rgb(140,140,140)" stroke="rgb(49,49,49)" stroke-width="4"/><circle cx="52" cy="412" r="6" fill="rgb(158,158,158)"/><circle cx="55" cy="395" r="9" fill="rgb(172,172,172)"/><circle cx="56" cy="402" r="8" fill="rgb(106,106,106)"/><circle cx="290.0" cy="400.0" r="25" fill="rgb(180,180,180)" stroke="rgb(62,62,62)" stroke-width="4"/><circle cx="284" cy="397" r="6" fill="rgb(213,213,213)"/><circle cx="291" cy="401" r="9" fill="rgb(164,164,164)"/><circle cx="291" cy="403" r="5" fill="rgb(199,199,199)"/><circle cx="340.0" cy="420.0" r="30" fill="rgb(190,190,190)" stroke="rgb(66,66,66)" stroke-width="4"/><circle cx="343" cy="416" r="10" fill="rgb(220,220,220)"/><circle cx="341" cy="417" r="9" fill="rgb(212,212,212)"/><circle cx="344" cy="421" r="9" fill="rgb(161,161,161)"/><circle cx="425.0" cy="400.0" r="28" fill="rgb(150,150,150)" stroke="rgb(52,52,52)" stroke-width="4"/><circle cx="426" cy="400" r="8" fill="rgb(128,128,128)"/><circle cx="424" cy="390" r="8" fill="rgb(179,179,179)"/><circle cx="413" cy="403" r="8" fill="rgb(169,169,169)"/><circle cx="470.0" cy="390.0" r="21" fill="rgb(130,130,130)" stroke="rgb(45,45,45)" stroke-width="4"/><circle cx="464" cy="388" r="4" fill="rgb(100,100,100)"/><circle cx="465" cy="389" r="6" fill="rgb(112,112,112)"/><circle cx="470" cy="390" r="6" fill="rgb(96,96,96)"/><circle cx="510.0" cy="360.0" r="21" fill="rgb(130,130,130)" stroke="rgb(45,45,45)" stroke-width="4"/><circle cx="515" cy="358" r="5" fill="rgb(157,157,157)"/><circle cx="504" cy="356" r="5" fill="rgb(110,110,110)"/><circle cx="510" cy="361" r="7" fill="rgb(96,96,96)"/><circle cx="450.0" cy="440.0" r="23" fill="rgb(120,120,120)" stroke="rgb(42,42,42)" stroke-width="4"/><circle cx="445" cy="440" r="5" fill="rgb(99,99,99)"/><circle cx="459" cy="441" r="6" fill="rgb(146,146,146)"/><circle cx="449" cy="440" r="5" fill="rgb(92,92,92)"/><circle cx="390.0" cy="440.0" r="23" fill="rgb(150,150,150)" stroke="rgb(52,52,52)" stroke-width="4"/><circle cx="389" cy="441" r="7" fill="rgb(120,120,120)"/><circle cx="394" cy="446" r="5" fill="rgb(115,115,115)"/><circle cx="389" cy="442" r="6" fill="rgb(130,130,130)"/><circle cx="270.0" cy="440.0" r="21" fill="rgb(130,130,130)" stroke="rgb(45,45,45)" stroke-width="4"/><circle cx="268" cy="446" r="7" fill="rgb(163,163,163)"/><circle cx="271" cy="440" r="5" fill="rgb(108,108,108)"/><circle cx="273" cy="447" r="6" fill="rgb(105,105,105)"/><circle cx="500.0" cy="425.0" r="18" fill="rgb(130,130,130)" stroke="rgb(45,45,45)" stroke-width="4"/><circle cx="495" cy="425" r="4" fill="rgb(96,96,96)"/><circle cx="499" cy="425" r="5" fill="rgb(98,98,98)"/><circle cx="501" cy="425" r="5" fill="rgb(98,98,98)"/><circle cx="210.0" cy="440.0" r="16" fill="rgb(80,80,80)" stroke="rgb(28,28,28)" stroke-width="4"/><circle cx="211" cy="440" r="3" fill="rgb(55,55,55)"/><circle cx="211" cy="433" r="5" fill="rgb(106,106,106)"/><circle cx="216" cy="444" r="5" fill="rgb(63,63,63)"/></g><g filter="url(#bl3)"><circle cx="510.0" cy="120.0" r="13" fill="rgb(178,178,178)"/><circle cx="20.0" cy="380.0" r="15" fill="rgb(126,126,126)"/><circle cx="500.0" cy="425.0" r="15" fill="rgb(136,136,136)"/><circle cx="210.0" cy="440.0" r="13" fill="rgb(84,84,84)"/></g></svg><svg class="mic" style="left:71px;top:505px;width:131px;height:116px" viewBox="0 0 520 460" preserveAspectRatio="none"><rect width="520" height="460" fill="#090909"/><g filter="url(#bl2)"><circle cx="148.0" cy="32.0" r="32" fill="rgb(46,46,46)"/><circle cx="240.0" cy="10.0" r="45" fill="rgb(44,44,44)"/><circle cx="290.0" cy="20.0" r="13" fill="rgb(44,44,44)"/><circle cx="125.0" cy="78.0" r="26" fill="rgb(37,37,37)"/><circle cx="45.0" cy="40.0" r="19" fill="rgb(13,13,13)"/><circle cx="205.0" cy="128.0" r="51" fill="rgb(33,33,33)"/><circle cx="115.0" cy="140.0" r="45" fill="rgb(24,24,24)"/><circle cx="275.0" cy="140.0" r="29" fill="rgb(24,24,24)"/><circle cx="355.0" cy="85.0" r="48" fill="rgb(22,22,22)"/><circle cx="385.0" cy="45.0" r="22" fill="rgb(46,46,46)"/><circle cx="410.0" cy="45.0" r="13" fill="rgb(44,44,44)"/><circle cx="430.0" cy="68.0" r="19" fill="rgb(41,41,41)"/><circle cx="455.0" cy="100.0" r="48" fill="rgb(22,22,22)"/><circle cx="495.0" cy="40.0" r="22" fill="rgb(13,13,13)"/><circle cx="268.0" cy="195.0" r="19" fill="rgb(50,50,50)"/><circle cx="215.0" cy="215.0" r="38" fill="rgb(22,22,22)"/><circle cx="355.0" cy="170.0" r="45" fill="rgb(20,20,20)"/><circle cx="415.0" cy="160.0" r="22" fill="rgb(44,44,44)"/><circle cx="435.0" cy="160.0" r="13" fill="rgb(39,39,39)"/><circle cx="395.0" cy="215.0" r="26" fill="rgb(44,44,44)"/><circle cx="455.0" cy="200.0" r="16" fill="rgb(39,39,39)"/><circle cx="430.0" cy="235.0" r="13" fill="rgb(35,35,35)"/><circle cx="300.0" cy="240.0" r="35" fill="rgb(24,24,24)"/><circle cx="240.0" cy="262.0" r="16" fill="rgb(41,41,41)"/><circle cx="410.0" cy="280.0" r="38" fill="rgb(26,26,26)"/><circle cx="52.0" cy="318.0" r="26" fill="rgb(46,46,46)"/><circle cx="150.0" cy="340.0" r="38" fill="rgb(19,19,19)"/><circle cx="270.0" cy="300.0" r="32" fill="rgb(15,15,15)"/><circle cx="500.0" cy="320.0" r="35" fill="rgb(24,24,24)"/><circle cx="465.0" cy="300.0" r="13" fill="rgb(33,33,33)"/><circle cx="435.0" cy="365.0" r="19" fill="rgb(46,46,46)"/><circle cx="485.0" cy="380.0" r="35" fill="rgb(24,24,24)"/><circle cx="95.0" cy="385.0" r="22" fill="rgb(33,33,33)"/><circle cx="80.0" cy="405.0" r="16" fill="rgb(30,30,30)"/><circle cx="100.0" cy="420.0" r="16" fill="rgb(41,41,41)"/><circle cx="75.0" cy="430.0" r="13" fill="rgb(44,44,44)"/><circle cx="50.0" cy="360.0" r="13" fill="rgb(30,30,30)"/><circle cx="295.0" cy="405.0" r="32" fill="rgb(46,46,46)"/><circle cx="200.0" cy="410.0" r="48" fill="rgb(17,17,17)"/><circle cx="380.0" cy="420.0" r="38" fill="rgb(15,15,15)"/><circle cx="130.0" cy="450.0" r="32" fill="rgb(15,15,15)"/><circle cx="15.0" cy="340.0" r="22" fill="rgb(13,13,13)"/><circle cx="250.0" cy="350.0" r="32" fill="rgb(13,13,13)"/><circle cx="10.0" cy="420.0" r="22" fill="rgb(15,15,15)"/></g><g filter="url(#bl)"><circle cx="148.0" cy="32.0" r="21" fill="rgb(210,210,210)" stroke="rgb(73,73,73)" stroke-width="4"/><circle cx="140" cy="31" r="7" fill="rgb(230,230,230)"/><circle cx="146" cy="26" r="5" fill="rgb(176,176,176)"/><circle cx="150" cy="28" r="6" fill="rgb(237,237,237)"/><circle cx="240.0" cy="10.0" r="29" fill="rgb(200,200,200)" stroke="rgb(70,70,70)" stroke-width="4"/><circle cx="240" cy="8" r="9" fill="rgb(182,182,182)"/><circle cx="244" cy="21" r="6" fill="rgb(178,178,178)"/><circle cx="240" cy="9" r="10" fill="rgb(216,216,216)"/><circle cx="290.0" cy="20.0" r="8" fill="rgb(200,200,200)" stroke="rgb(70,70,70)" stroke-width="4"/><circle cx="125.0" cy="78.0" r="17" fill="rgb(170,170,170)" stroke="rgb(59,59,59)" stroke-width="4"/><circle cx="118" cy="79" r="4" fill="rgb(141,141,141)"/><circle cx="122" cy="78" r="3" fill="rgb(192,192,192)"/><circle cx="125" cy="75" r="5" fill="rgb(192,192,192)"/><circle cx="45.0" cy="40.0" r="13" fill="rgb(60,60,60)" stroke="rgb(21,21,21)" stroke-width="4"/><circle cx="46" cy="39" r="4" fill="rgb(25,25,25)"/><circle cx="44" cy="41" r="4" fill="rgb(78,78,78)"/><circle cx="42" cy="39" r="3" fill="rgb(39,39,39)"/><circle cx="205.0" cy="128.0" r="34" fill="rgb(150,150,150)" stroke="rgb(52,52,52)" stroke-width="4"/><circle cx="204" cy="130" r="10" fill="rgb(116,116,116)"/><circle cx="205" cy="128" r="10" fill="rgb(165,165,165)"/><circle cx="204" cy="128" r="7" fill="rgb(128,128,128)"/><circle cx="115.0" cy="140.0" r="29" fill="rgb(110,110,110)" stroke="rgb(38,38,38)" stroke-width="4"/><circle cx="127" cy="139" r="8" fill="rgb(82,82,82)"/><circle cx="119" cy="145" r="10" fill="rgb(128,128,128)"/><circle cx="124" cy="138" r="10" fill="rgb(93,93,93)"/><circle cx="275.0" cy="140.0" r="19" fill="rgb(110,110,110)" stroke="rgb(38,38,38)" stroke-width="4"/><circle cx="272" cy="147" r="4" fill="rgb(141,141,141)"/><circle cx="276" cy="140" r="6" fill="rgb(141,141,141)"/><circle cx="274" cy="140" r="7" fill="rgb(84,84,84)"/><circle cx="355.0" cy="85.0" r="32" fill="rgb(100,100,100)" stroke="rgb(35,35,35)" stroke-width="4"/><circle cx="357" cy="98" r="7" fill="rgb(68,68,68)"/><circle cx="361" cy="80" r="8" fill="rgb(119,119,119)"/><circle cx="354" cy="84" r="7" fill="rgb(130,130,130)"/><circle cx="385.0" cy="45.0" r="15" fill="rgb(210,210,210)" stroke="rgb(73,73,73)" stroke-width="4"/><circle cx="384" cy="46" r="5" fill="rgb(236,236,236)"/><circle cx="382" cy="43" r="4" fill="rgb(177,177,177)"/><circle cx="380" cy="42" r="4" fill="rgb(182,182,182)"/><circle cx="410.0" cy="45.0" r="8" fill="rgb(200,200,200)" stroke="rgb(70,70,70)" stroke-width="4"/><circle cx="430.0" cy="68.0" r="13" fill="rgb(190,190,190)" stroke="rgb(66,66,66)" stroke-width="4"/><circle cx="434" cy="68" r="3" fill="rgb(213,213,213)"/><circle cx="430" cy="68" r="4" fill="rgb(171,171,171)"/><circle cx="429" cy="64" r="4" fill="rgb(214,214,214)"/><circle cx="455.0" cy="100.0" r="32" fill="rgb(100,100,100)" stroke="rgb(35,35,35)" stroke-width="4"/><circle cx="460" cy="106" r="8" fill="rgb(115,115,115)"/><circle cx="467" cy="99" r="8" fill="rgb(121,121,121)"/><circle cx="456" cy="100" r="9" fill="rgb(84,84,84)"/><circle cx="495.0" cy="40.0" r="15" fill="rgb(60,60,60)" stroke="rgb(21,21,21)" stroke-width="4"/><circle cx="498" cy="38" r="5" fill="rgb(29,29,29)"/><circle cx="498" cy="40" r="3" fill="rgb(27,27,27)"/><circle cx="494" cy="40" r="3" fill="rgb(30,30,30)"/><circle cx="268.0" cy="195.0" r="13" fill="rgb(230,230,230)" stroke="rgb(80,80,80)" stroke-width="4"/><circle cx="269" cy="195" r="4" fill="rgb(251,251,251)"/><circle cx="270" cy="190" r="4" fill="rgb(255,255,255)"/><circle cx="268" cy="195" r="4" fill="rgb(202,202,202)"/><circle cx="215.0" cy="215.0" r="25" fill="rgb(100,100,100)" stroke="rgb(35,35,35)" stroke-width="4"/><circle cx="214" cy="216" r="6" fill="rgb(74,74,74)"/><circle cx="212" cy="215" r="5" fill="rgb(79,79,79)"/><circle cx="208" cy="219" r="6" fill="rgb(122,122,122)"/><circle cx="355.0" cy="170.0" r="29" fill="rgb(95,95,95)" stroke="rgb(33,33,33)" stroke-width="4"/><circle cx="365" cy="169" r="6" fill="rgb(64,64,64)"/><circle cx="344" cy="175" r="7" fill="rgb(66,66,66)"/><circle cx="344" cy="164" r="10" fill="rgb(126,126,126)"/><circle cx="415.0" cy="160.0" r="15" fill="rgb(200,200,200)" stroke="rgb(70,70,70)" stroke-width="4"/><circle cx="418" cy="159" r="5" fill="rgb(181,181,181)"/><circle cx="415" cy="157" r="4" fill="rgb(225,225,225)"/><circle cx="414" cy="160" r="4" fill="rgb(175,175,175)"/><circle cx="435.0" cy="160.0" r="8" fill="rgb(180,180,180)" stroke="rgb(62,62,62)" stroke-width="4"/><circle cx="395.0" cy="215.0" r="17" fill="rgb(200,200,200)" stroke="rgb(70,70,70)" stroke-width="4"/><circle cx="392" cy="218" r="4" fill="rgb(224,224,224)"/><circle cx="397" cy="213" r="4" fill="rgb(183,183,183)"/><circle cx="393" cy="222" r="6" fill="rgb(221,221,221)"/><circle cx="455.0" cy="200.0" r="10" fill="rgb(180,180,180)" stroke="rgb(62,62,62)" stroke-width="4"/><circle cx="430.0" cy="235.0" r="8" fill="rgb(160,160,160)" stroke="rgb(56,56,56)" stroke-width="4"/><circle cx="300.0" cy="240.0" r="23" fill="rgb(110,110,110)" stroke="rgb(38,38,38)" stroke-width="4"/><circle cx="300" cy="237" r="6" fill="rgb(143,143,143)"/><circle cx="301" cy="241" r="5" fill="rgb(129,129,129)"/><circle cx="306" cy="234" r="8" fill="rgb(132,132,132)"/><circle cx="240.0" cy="262.0" r="10" fill="rgb(190,190,190)" stroke="rgb(66,66,66)" stroke-width="4"/><circle cx="410.0" cy="280.0" r="25" fill="rgb(120,120,120)" stroke="rgb(42,42,42)" stroke-width="4"/><circle cx="406" cy="290" r="5" fill="rgb(87,87,87)"/><circle cx="414" cy="275" r="7" fill="rgb(148,148,148)"/><circle cx="407" cy="281" r="8" fill="rgb(143,143,143)"/><circle cx="52.0" cy="318.0" r="17" fill="rgb(210,210,210)" stroke="rgb(73,73,73)" stroke-width="4"/><circle cx="54" cy="321" r="4" fill="rgb(190,190,190)"/><circle cx="57" cy="313" r="5" fill="rgb(179,179,179)"/><circle cx="56" cy="320" r="5" fill="rgb(239,239,239)"/><circle cx="150.0" cy="340.0" r="25" fill="rgb(90,90,90)" stroke="rgb(31,31,31)" stroke-width="4"/><circle cx="155" cy="338" r="5" fill="rgb(121,121,121)"/><circle cx="150" cy="345" r="7" fill="rgb(109,109,109)"/><circle cx="140" cy="341" r="6" fill="rgb(68,68,68)"/><circle cx="270.0" cy="300.0" r="21" fill="rgb(70,70,70)" stroke="rgb(24,24,24)" stroke-width="4"/><circle cx="270" cy="302" r="5" fill="rgb(45,45,45)"/><circle cx="275" cy="299" r="5" fill="rgb(45,45,45)"/><circle cx="271" cy="301" r="5" fill="rgb(54,54,54)"/><circle cx="500.0" cy="320.0" r="23" fill="rgb(110,110,110)" stroke="rgb(38,38,38)" stroke-width="4"/><circle cx="499" cy="320" r="7" fill="rgb(141,141,141)"/><circle cx="493" cy="319" r="5" fill="rgb(141,141,141)"/><circle cx="496" cy="314" r="8" fill="rgb(135,135,135)"/><circle cx="465.0" cy="300.0" r="8" fill="rgb(150,150,150)" stroke="rgb(52,52,52)" stroke-width="4"/><circle cx="435.0" cy="365.0" r="13" fill="rgb(210,210,210)" stroke="rgb(73,73,73)" stroke-width="4"/><circle cx="435" cy="364" r="4" fill="rgb(243,243,243)"/><circle cx="435" cy="364" r="3" fill="rgb(232,232,232)"/><circle cx="437" cy="360" r="3" fill="rgb(244,244,244)"/><circle cx="485.0" cy="380.0" r="23" fill="rgb(110,110,110)" stroke="rgb(38,38,38)" stroke-width="4"/><circle cx="485" cy="379" r="5" fill="rgb(77,77,77)"/><circle cx="484" cy="380" r="7" fill="rgb(143,143,143)"/><circle cx="478" cy="382" r="8" fill="rgb(125,125,125)"/><circle cx="95.0" cy="385.0" r="15" fill="rgb(150,150,150)" stroke="rgb(52,52,52)" stroke-width="4"/><circle cx="94" cy="392" r="3" fill="rgb(119,119,119)"/><circle cx="96" cy="390" r="4" fill="rgb(171,171,171)"/><circle cx="96" cy="385" r="3" fill="rgb(122,122,122)"/><circle cx="80.0" cy="405.0" r="10" fill="rgb(140,140,140)" stroke="rgb(49,49,49)" stroke-width="4"/><circle cx="100.0" cy="420.0" r="10" fill="rgb(190,190,190)" stroke="rgb(66,66,66)" stroke-width="4"/><circle cx="75.0" cy="430.0" r="8" fill="rgb(200,200,200)" stroke="rgb(70,70,70)" stroke-width="4"/><circle cx="50.0" cy="360.0" r="8" fill="rgb(140,140,140)" stroke="rgb(49,49,49)" stroke-width="4"/><circle cx="295.0" cy="405.0" r="21" fill="rgb(210,210,210)" stroke="rgb(73,73,73)" stroke-width="4"/><circle cx="292" cy="411" r="4" fill="rgb(243,243,243)"/><circle cx="290" cy="405" r="7" fill="rgb(230,230,230)"/><circle cx="294" cy="399" r="4" fill="rgb(179,179,179)"/><circle cx="200.0" cy="410.0" r="32" fill="rgb(80,80,80)" stroke="rgb(28,28,28)" stroke-width="4"/><circle cx="200" cy="410" r="11" fill="rgb(48,48,48)"/><circle cx="195" cy="399" r="7" fill="rgb(110,110,110)"/><circle cx="201" cy="399" r="8" fill="rgb(105,105,105)"/><circle cx="380.0" cy="420.0" r="25" fill="rgb(70,70,70)" stroke="rgb(24,24,24)" stroke-width="4"/><circle cx="380" cy="417" r="8" fill="rgb(43,43,43)"/><circle cx="373" cy="415" r="8" fill="rgb(37,37,37)"/><circle cx="377" cy="416" r="8" fill="rgb(42,42,42)"/><circle cx="130.0" cy="450.0" r="21" fill="rgb(70,70,70)" stroke="rgb(24,24,24)" stroke-width="4"/><circle cx="130" cy="446" r="7" fill="rgb(93,93,93)"/><circle cx="129" cy="449" r="5" fill="rgb(50,50,50)"/><circle cx="136" cy="445" r="5" fill="rgb(101,101,101)"/><circle cx="15.0" cy="340.0" r="15" fill="rgb(60,60,60)" stroke="rgb(21,21,21)" stroke-width="4"/><circle cx="19" cy="341" r="4" fill="rgb(44,44,44)"/><circle cx="15" cy="335" r="4" fill="rgb(91,91,91)"/><circle cx="17" cy="345" r="5" fill="rgb(86,86,86)"/><circle cx="250.0" cy="350.0" r="21" fill="rgb(60,60,60)" stroke="rgb(21,21,21)" stroke-width="4"/><circle cx="242" cy="346" r="7" fill="rgb(42,42,42)"/><circle cx="249" cy="350" r="4" fill="rgb(93,93,93)"/><circle cx="254" cy="350" r="5" fill="rgb(76,76,76)"/><circle cx="10.0" cy="420.0" r="15" fill="rgb(70,70,70)" stroke="rgb(24,24,24)" stroke-width="4"/><circle cx="10" cy="420" r="4" fill="rgb(91,91,91)"/><circle cx="14" cy="419" r="5" fill="rgb(99,99,99)"/><circle cx="9" cy="420" r="4" fill="rgb(45,45,45)"/></g><g filter="url(#bl3)"><circle cx="290.0" cy="20.0" r="8" fill="rgb(210,210,210)"/><circle cx="125.0" cy="78.0" r="15" fill="rgb(178,178,178)"/><circle cx="45.0" cy="40.0" r="11" fill="rgb(63,63,63)"/><circle cx="385.0" cy="45.0" r="13" fill="rgb(220,220,220)"/><circle cx="410.0" cy="45.0" r="8" fill="rgb(210,210,210)"/><circle cx="430.0" cy="68.0" r="11" fill="rgb(199,199,199)"/><circle cx="495.0" cy="40.0" r="13" fill="rgb(63,63,63)"/><circle cx="268.0" cy="195.0" r="11" fill="rgb(241,241,241)"/><circle cx="415.0" cy="160.0" r="13" fill="rgb(210,210,210)"/><circle cx="435.0" cy="160.0" r="8" fill="rgb(189,189,189)"/><circle cx="395.0" cy="215.0" r="15" fill="rgb(210,210,210)"/><circle cx="455.0" cy="200.0" r="10" fill="rgb(189,189,189)"/><circle cx="430.0" cy="235.0" r="8" fill="rgb(168,168,168)"/><circle cx="240.0" cy="262.0" r="10" fill="rgb(199,199,199)"/><circle cx="52.0" cy="318.0" r="15" fill="rgb(220,220,220)"/><circle cx="465.0" cy="300.0" r="8" fill="rgb(157,157,157)"/><circle cx="435.0" cy="365.0" r="11" fill="rgb(220,220,220)"/><circle cx="95.0" cy="385.0" r="13" fill="rgb(157,157,157)"/><circle cx="80.0" cy="405.0" r="10" fill="rgb(147,147,147)"/><circle cx="100.0" cy="420.0" r="10" fill="rgb(199,199,199)"/><circle cx="75.0" cy="430.0" r="8" fill="rgb(210,210,210)"/><circle cx="50.0" cy="360.0" r="8" fill="rgb(147,147,147)"/><circle cx="15.0" cy="340.0" r="13" fill="rgb(63,63,63)"/><circle cx="10.0" cy="420.0" r="13" fill="rgb(73,73,73)"/></g></svg><svg class="mic" style="left:207px;top:505px;width:131px;height:116px" viewBox="0 0 520 460" preserveAspectRatio="none"><rect width="520" height="460" fill="#181818"/><g filter="url(#bl2)"><circle cx="105.0" cy="25.0" r="38" fill="rgb(25,25,25)"/><circle cx="165.0" cy="12.0" r="35" fill="rgb(30,30,30)"/><circle cx="180.0" cy="45.0" r="13" fill="rgb(50,50,50)"/><circle cx="200.0" cy="58.0" r="13" fill="rgb(48,48,48)"/><circle cx="200.0" cy="78.0" r="10" fill="rgb(46,46,46)"/><circle cx="20.0" cy="95.0" r="35" fill="rgb(39,39,39)"/><circle cx="60.0" cy="88.0" r="32" fill="rgb(39,39,39)"/><circle cx="150.0" cy="85.0" r="32" fill="rgb(40,40,40)"/><circle cx="228.0" cy="82.0" r="35" fill="rgb(46,46,46)"/><circle cx="270.0" cy="115.0" r="29" fill="rgb(43,43,43)"/><circle cx="330.0" cy="88.0" r="29" fill="rgb(39,39,39)"/><circle cx="380.0" cy="12.0" r="32" fill="rgb(39,39,39)"/><circle cx="440.0" cy="62.0" r="48" fill="rgb(41,41,41)"/><circle cx="495.0" cy="25.0" r="35" fill="rgb(34,34,34)"/><circle cx="20.0" cy="150.0" r="35" fill="rgb(30,30,30)"/><circle cx="55.0" cy="150.0" r="32" fill="rgb(34,34,34)"/><circle cx="95.0" cy="140.0" r="38" fill="rgb(34,34,34)"/><circle cx="152.0" cy="155.0" r="13" fill="rgb(50,50,50)"/><circle cx="228.0" cy="150.0" r="35" fill="rgb(39,39,39)"/><circle cx="288.0" cy="180.0" r="42" fill="rgb(39,39,39)"/><circle cx="333.0" cy="145.0" r="29" fill="rgb(41,41,41)"/><circle cx="475.0" cy="130.0" r="35" fill="rgb(39,39,39)"/><circle cx="58.0" cy="210.0" r="13" fill="rgb(46,46,46)"/><circle cx="110.0" cy="200.0" r="38" fill="rgb(34,34,34)"/><circle cx="215.0" cy="202.0" r="32" fill="rgb(41,41,41)"/><circle cx="168.0" cy="235.0" r="45" fill="rgb(50,50,50)"/><circle cx="25.0" cy="230.0" r="35" fill="rgb(32,32,32)"/><circle cx="280.0" cy="248.0" r="35" fill="rgb(46,46,46)"/><circle cx="410.0" cy="215.0" r="32" fill="rgb(39,39,39)"/><circle cx="460.0" cy="210.0" r="38" fill="rgb(27,27,27)"/><circle cx="505.0" cy="245.0" r="32" fill="rgb(43,43,43)"/><circle cx="460.0" cy="268.0" r="16" fill="rgb(50,50,50)"/><circle cx="340.0" cy="278.0" r="38" fill="rgb(39,39,39)"/><circle cx="298.0" cy="295.0" r="16" fill="rgb(46,46,46)"/><circle cx="380.0" cy="300.0" r="16" fill="rgb(46,46,46)"/><circle cx="400.0" cy="290.0" r="22" fill="rgb(32,32,32)"/><circle cx="118.0" cy="312.0" r="35" fill="rgb(41,41,41)"/><circle cx="252.0" cy="312.0" r="32" fill="rgb(43,43,43)"/><circle cx="318.0" cy="345.0" r="42" fill="rgb(41,41,41)"/><circle cx="370.0" cy="345.0" r="32" fill="rgb(39,39,39)"/><circle cx="195.0" cy="345.0" r="16" fill="rgb(34,34,34)"/><circle cx="45.0" cy="355.0" r="42" fill="rgb(46,46,46)"/><circle cx="160.0" cy="345.0" r="26" fill="rgb(20,20,20)"/><circle cx="10.0" cy="390.0" r="29" fill="rgb(41,41,41)"/><circle cx="80.0" cy="410.0" r="35" fill="rgb(36,36,36)"/><circle cx="120.0" cy="400.0" r="32" fill="rgb(34,34,34)"/><circle cx="245.0" cy="385.0" r="38" fill="rgb(43,43,43)"/><circle cx="190.0" cy="400.0" r="29" fill="rgb(25,25,25)"/><circle cx="350.0" cy="405.0" r="13" fill="rgb(43,43,43)"/><circle cx="385.0" cy="395.0" r="16" fill="rgb(46,46,46)"/><circle cx="420.0" cy="418.0" r="10" fill="rgb(46,46,46)"/><circle cx="385.0" cy="440.0" r="29" fill="rgb(34,34,34)"/><circle cx="490.0" cy="405.0" r="38" fill="rgb(46,46,46)"/><circle cx="310.0" cy="440.0" r="26" fill="rgb(25,25,25)"/><circle cx="265.0" cy="435.0" r="13" fill="rgb(43,43,43)"/><circle cx="150.0" cy="450.0" r="26" fill="rgb(20,20,20)"/></g><g filter="url(#bl)"><circle cx="105.0" cy="25.0" r="28" fill="rgb(115,115,115)" stroke="rgb(40,40,40)" stroke-width="4"/><circle cx="108" cy="32" r="9" fill="rgb(134,134,134)"/><circle cx="103" cy="23" r="7" fill="rgb(139,139,139)"/><circle cx="105" cy="34" r="9" fill="rgb(140,140,140)"/><circle cx="165.0" cy="12.0" r="25" fill="rgb(136,136,136)" stroke="rgb(47,47,47)" stroke-width="4"/><circle cx="170" cy="22" r="6" fill="rgb(117,117,117)"/><circle cx="161" cy="16" r="6" fill="rgb(155,155,155)"/><circle cx="176" cy="12" r="7" fill="rgb(105,105,105)"/><circle cx="180.0" cy="45.0" r="9" fill="rgb(231,231,231)" stroke="rgb(80,80,80)" stroke-width="4"/><circle cx="200.0" cy="58.0" r="9" fill="rgb(220,220,220)" stroke="rgb(77,77,77)" stroke-width="4"/><circle cx="200.0" cy="78.0" r="7" fill="rgb(210,210,210)" stroke="rgb(73,73,73)" stroke-width="4"/><circle cx="20.0" cy="95.0" r="25" fill="rgb(178,178,178)" stroke="rgb(62,62,62)" stroke-width="4"/><circle cx="16" cy="100" r="7" fill="rgb(209,209,209)"/><circle cx="20" cy="96" r="7" fill="rgb(204,204,204)"/><circle cx="11" cy="95" r="8" fill="rgb(159,159,159)"/><circle cx="60.0" cy="88.0" r="23" fill="rgb(178,178,178)" stroke="rgb(62,62,62)" stroke-width="4"/><circle cx="60" cy="87" r="8" fill="rgb(204,204,204)"/><circle cx="61" cy="91" r="7" fill="rgb(208,208,208)"/><circle cx="57" cy="84" r="5" fill="rgb(195,195,195)"/><circle cx="150.0" cy="85.0" r="23" fill="rgb(183,183,183)" stroke="rgb(64,64,64)" stroke-width="4"/><circle cx="156" cy="88" r="8" fill="rgb(202,202,202)"/><circle cx="144" cy="79" r="5" fill="rgb(148,148,148)"/><circle cx="147" cy="77" r="6" fill="rgb(206,206,206)"/><circle cx="228.0" cy="82.0" r="25" fill="rgb(210,210,210)" stroke="rgb(73,73,73)" stroke-width="4"/><circle cx="227" cy="83" r="6" fill="rgb(238,238,238)"/><circle cx="224" cy="89" r="7" fill="rgb(243,243,243)"/><circle cx="225" cy="73" r="6" fill="rgb(227,227,227)"/><circle cx="270.0" cy="115.0" r="21" fill="rgb(199,199,199)" stroke="rgb(69,69,69)" stroke-width="4"/><circle cx="270" cy="109" r="6" fill="rgb(214,214,214)"/><circle cx="272" cy="110" r="7" fill="rgb(168,168,168)"/><circle cx="267" cy="117" r="7" fill="rgb(231,231,231)"/><circle cx="330.0" cy="88.0" r="21" fill="rgb(178,178,178)" stroke="rgb(62,62,62)" stroke-width="4"/><circle cx="334" cy="82" r="7" fill="rgb(159,159,159)"/><circle cx="337" cy="86" r="7" fill="rgb(202,202,202)"/><circle cx="333" cy="90" r="6" fill="rgb(143,143,143)"/><circle cx="380.0" cy="12.0" r="23" fill="rgb(178,178,178)" stroke="rgb(62,62,62)" stroke-width="4"/><circle cx="382" cy="11" r="7" fill="rgb(159,159,159)"/><circle cx="382" cy="12" r="6" fill="rgb(195,195,195)"/><circle cx="379" cy="13" r="7" fill="rgb(211,211,211)"/><circle cx="440.0" cy="62.0" r="34" fill="rgb(189,189,189)" stroke="rgb(66,66,66)" stroke-width="4"/><circle cx="435" cy="66" r="12" fill="rgb(218,218,218)"/><circle cx="454" cy="63" r="9" fill="rgb(162,162,162)"/><circle cx="444" cy="64" r="10" fill="rgb(206,206,206)"/><circle cx="495.0" cy="25.0" r="25" fill="rgb(157,157,157)" stroke="rgb(54,54,54)" stroke-width="4"/><circle cx="494" cy="25" r="6" fill="rgb(188,188,188)"/><circle cx="499" cy="17" r="5" fill="rgb(137,137,137)"/><circle cx="486" cy="27" r="9" fill="rgb(175,175,175)"/><circle cx="20.0" cy="150.0" r="25" fill="rgb(136,136,136)" stroke="rgb(47,47,47)" stroke-width="4"/><circle cx="23" cy="152" r="9" fill="rgb(161,161,161)"/><circle cx="21" cy="140" r="5" fill="rgb(160,160,160)"/><circle cx="14" cy="142" r="6" fill="rgb(107,107,107)"/><circle cx="55.0" cy="150.0" r="23" fill="rgb(157,157,157)" stroke="rgb(54,54,54)" stroke-width="4"/><circle cx="61" cy="153" r="7" fill="rgb(186,186,186)"/><circle cx="55" cy="153" r="6" fill="rgb(127,127,127)"/><circle cx="57" cy="149" r="6" fill="rgb(177,177,177)"/><circle cx="95.0" cy="140.0" r="28" fill="rgb(157,157,157)" stroke="rgb(54,54,54)" stroke-width="4"/><circle cx="91" cy="132" r="6" fill="rgb(136,136,136)"/><circle cx="92" cy="140" r="8" fill="rgb(181,181,181)"/><circle cx="94" cy="136" r="7" fill="rgb(129,129,129)"/><circle cx="152.0" cy="155.0" r="9" fill="rgb(231,231,231)" stroke="rgb(80,80,80)" stroke-width="4"/><circle cx="228.0" cy="150.0" r="25" fill="rgb(178,178,178)" stroke="rgb(62,62,62)" stroke-width="4"/><circle cx="231" cy="150" r="7" fill="rgb(159,159,159)"/><circle cx="218" cy="149" r="9" fill="rgb(159,159,159)"/><circle cx="231" cy="150" r="7" fill="rgb(194,194,194)"/><circle cx="288.0" cy="180.0" r="30" fill="rgb(178,178,178)" stroke="rgb(62,62,62)" stroke-width="4"/><circle cx="291" cy="185" r="9" fill="rgb(153,153,153)"/><circle cx="291" cy="174" r="7" fill="rgb(147,147,147)"/><circle cx="288" cy="184" r="9" fill="rgb(155,155,155)"/><circle cx="333.0" cy="145.0" r="21" fill="rgb(189,189,189)" stroke="rgb(66,66,66)" stroke-width="4"/><circle cx="332" cy="139" r="5" fill="rgb(221,221,221)"/><circle cx="339" cy="146" r="7" fill="rgb(161,161,161)"/><circle cx="333" cy="145" r="5" fill="rgb(223,223,223)"/><circle cx="475.0" cy="130.0" r="25" fill="rgb(178,178,178)" stroke="rgb(62,62,62)" stroke-width="4"/><circle cx="480" cy="129" r="6" fill="rgb(145,145,145)"/><circle cx="473" cy="134" r="6" fill="rgb(162,162,162)"/><circle cx="479" cy="120" r="7" fill="rgb(156,156,156)"/><circle cx="58.0" cy="210.0" r="9" fill="rgb(210,210,210)" stroke="rgb(73,73,73)" stroke-width="4"/><circle cx="110.0" cy="200.0" r="28" fill="rgb(157,157,157)" stroke="rgb(54,54,54)" stroke-width="4"/><circle cx="110" cy="200" r="6" fill="rgb(190,190,190)"/><circle cx="106" cy="192" r="8" fill="rgb(178,178,178)"/><circle cx="111" cy="196" r="7" fill="rgb(189,189,189)"/><circle cx="215.0" cy="202.0" r="23" fill="rgb(189,189,189)" stroke="rgb(66,66,66)" stroke-width="4"/><circle cx="209" cy="210" r="6" fill="rgb(212,212,212)"/><circle cx="214" cy="202" r="8" fill="rgb(207,207,207)"/><circle cx="216" cy="206" r="5" fill="rgb(209,209,209)"/><circle cx="168.0" cy="235.0" r="32" fill="rgb(231,231,231)" stroke="rgb(80,80,80)" stroke-width="4"/><circle cx="171" cy="239" r="8" fill="rgb(255,255,255)"/><circle cx="167" cy="247" r="9" fill="rgb(249,249,249)"/><circle cx="163" cy="221" r="10" fill="rgb(200,200,200)"/><circle cx="25.0" cy="230.0" r="25" fill="rgb(147,147,147)" stroke="rgb(51,51,51)" stroke-width="4"/><circle cx="25" cy="229" r="6" fill="rgb(114,114,114)"/><circle cx="26" cy="226" r="8" fill="rgb(178,178,178)"/><circle cx="34" cy="234" r="8" fill="rgb(171,171,171)"/><circle cx="280.0" cy="248.0" r="25" fill="rgb(210,210,210)" stroke="rgb(73,73,73)" stroke-width="4"/><circle cx="283" cy="258" r="7" fill="rgb(241,241,241)"/><circle cx="278" cy="247" r="8" fill="rgb(190,190,190)"/><circle cx="276" cy="246" r="8" fill="rgb(233,233,233)"/><circle cx="410.0" cy="215.0" r="23" fill="rgb(178,178,178)" stroke="rgb(62,62,62)" stroke-width="4"/><circle cx="406" cy="214" r="7" fill="rgb(207,207,207)"/><circle cx="410" cy="215" r="5" fill="rgb(148,148,148)"/><circle cx="410" cy="212" r="8" fill="rgb(195,195,195)"/><circle cx="460.0" cy="210.0" r="28" fill="rgb(126,126,126)" stroke="rgb(44,44,44)" stroke-width="4"/><circle cx="465" cy="201" r="9" fill="rgb(105,105,105)"/><circle cx="462" cy="219" r="6" fill="rgb(145,145,145)"/><circle cx="458" cy="214" r="9" fill="rgb(96,96,96)"/><circle cx="505.0" cy="245.0" r="23" fill="rgb(199,199,199)" stroke="rgb(69,69,69)" stroke-width="4"/><circle cx="511" cy="240" r="8" fill="rgb(180,180,180)"/><circle cx="511" cy="245" r="5" fill="rgb(230,230,230)"/><circle cx="508" cy="249" r="6" fill="rgb(164,164,164)"/><circle cx="460.0" cy="268.0" r="12" fill="rgb(231,231,231)" stroke="rgb(80,80,80)" stroke-width="4"/><circle cx="340.0" cy="278.0" r="28" fill="rgb(178,178,178)" stroke="rgb(62,62,62)" stroke-width="4"/><circle cx="336" cy="285" r="6" fill="rgb(201,201,201)"/><circle cx="338" cy="280" r="8" fill="rgb(211,211,211)"/><circle cx="335" cy="279" r="7" fill="rgb(152,152,152)"/><circle cx="298.0" cy="295.0" r="12" fill="rgb(210,210,210)" stroke="rgb(73,73,73)" stroke-width="4"/><circle cx="380.0" cy="300.0" r="12" fill="rgb(210,210,210)" stroke="rgb(73,73,73)" stroke-width="4"/><circle cx="400.0" cy="290.0" r="16" fill="rgb(147,147,147)" stroke="rgb(51,51,51)" stroke-width="4"/><circle cx="405" cy="292" r="4" fill="rgb(174,174,174)"/><circle cx="403" cy="283" r="5" fill="rgb(131,131,131)"/><circle cx="402" cy="290" r="4" fill="rgb(181,181,181)"/><circle cx="118.0" cy="312.0" r="25" fill="rgb(189,189,189)" stroke="rgb(66,66,66)" stroke-width="4"/><circle cx="108" cy="309" r="8" fill="rgb(220,220,220)"/><circle cx="124" cy="314" r="9" fill="rgb(221,221,221)"/><circle cx="117" cy="320" r="5" fill="rgb(208,208,208)"/><circle cx="252.0" cy="312.0" r="23" fill="rgb(199,199,199)" stroke="rgb(69,69,69)" stroke-width="4"/><circle cx="243" cy="311" r="6" fill="rgb(226,226,226)"/><circle cx="255" cy="308" r="5" fill="rgb(178,178,178)"/><circle cx="251" cy="309" r="5" fill="rgb(173,173,173)"/><circle cx="318.0" cy="345.0" r="30" fill="rgb(189,189,189)" stroke="rgb(66,66,66)" stroke-width="4"/><circle cx="323" cy="355" r="8" fill="rgb(213,213,213)"/><circle cx="318" cy="344" r="7" fill="rgb(223,223,223)"/><circle cx="317" cy="343" r="8" fill="rgb(223,223,223)"/><circle cx="370.0" cy="345.0" r="23" fill="rgb(178,178,178)" stroke="rgb(62,62,62)" stroke-width="4"/><circle cx="366" cy="350" r="6" fill="rgb(207,207,207)"/><circle cx="372" cy="341" r="6" fill="rgb(208,208,208)"/><circle cx="365" cy="352" r="6" fill="rgb(153,153,153)"/><circle cx="195.0" cy="345.0" r="12" fill="rgb(157,157,157)" stroke="rgb(54,54,54)" stroke-width="4"/><circle cx="45.0" cy="355.0" r="30" fill="rgb(210,210,210)" stroke="rgb(73,73,73)" stroke-width="4"/><circle cx="47" cy="355" r="6" fill="rgb(239,239,239)"/><circle cx="45" cy="354" r="6" fill="rgb(182,182,182)"/><circle cx="42" cy="358" r="7" fill="rgb(241,241,241)"/><circle cx="160.0" cy="345.0" r="18" fill="rgb(94,94,94)" stroke="rgb(32,32,32)" stroke-width="4"/><circle cx="159" cy="347" r="6" fill="rgb(65,65,65)"/><circle cx="161" cy="340" r="4" fill="rgb(61,61,61)"/><circle cx="160" cy="345" r="4" fill="rgb(120,120,120)"/><circle cx="10.0" cy="390.0" r="21" fill="rgb(189,189,189)" stroke="rgb(66,66,66)" stroke-width="4"/><circle cx="13" cy="393" r="5" fill="rgb(160,160,160)"/><circle cx="11" cy="388" r="6" fill="rgb(215,215,215)"/><circle cx="12" cy="385" r="5" fill="rgb(170,170,170)"/><circle cx="80.0" cy="410.0" r="25" fill="rgb(168,168,168)" stroke="rgb(58,58,58)" stroke-width="4"/><circle cx="74" cy="411" r="7" fill="rgb(191,191,191)"/><circle cx="78" cy="411" r="7" fill="rgb(193,193,193)"/><circle cx="82" cy="407" r="8" fill="rgb(135,135,135)"/><circle cx="120.0" cy="400.0" r="23" fill="rgb(157,157,157)" stroke="rgb(54,54,54)" stroke-width="4"/><circle cx="114" cy="395" r="5" fill="rgb(186,186,186)"/><circle cx="118" cy="400" r="5" fill="rgb(140,140,140)"/><circle cx="122" cy="410" r="5" fill="rgb(175,175,175)"/><circle cx="245.0" cy="385.0" r="28" fill="rgb(199,199,199)" stroke="rgb(69,69,69)" stroke-width="4"/><circle cx="245" cy="393" r="9" fill="rgb(232,232,232)"/><circle cx="247" cy="385" r="9" fill="rgb(168,168,168)"/><circle cx="235" cy="379" r="7" fill="rgb(166,166,166)"/><circle cx="190.0" cy="400.0" r="21" fill="rgb(115,115,115)" stroke="rgb(40,40,40)" stroke-width="4"/><circle cx="191" cy="398" r="6" fill="rgb(143,143,143)"/><circle cx="185" cy="399" r="5" fill="rgb(138,138,138)"/><circle cx="187" cy="400" r="5" fill="rgb(147,147,147)"/><circle cx="350.0" cy="405.0" r="9" fill="rgb(199,199,199)" stroke="rgb(69,69,69)" stroke-width="4"/><circle cx="385.0" cy="395.0" r="12" fill="rgb(210,210,210)" stroke="rgb(73,73,73)" stroke-width="4"/><circle cx="420.0" cy="418.0" r="7" fill="rgb(210,210,210)" stroke="rgb(73,73,73)" stroke-width="4"/><circle cx="385.0" cy="440.0" r="21" fill="rgb(157,157,157)" stroke="rgb(54,54,54)" stroke-width="4"/><circle cx="385" cy="441" r="7" fill="rgb(139,139,139)"/><circle cx="383" cy="437" r="5" fill="rgb(135,135,135)"/><circle cx="384" cy="431" r="4" fill="rgb(141,141,141)"/><circle cx="490.0" cy="405.0" r="28" fill="rgb(210,210,210)" stroke="rgb(73,73,73)" stroke-width="4"/><circle cx="481" cy="397" r="9" fill="rgb(226,226,226)"/><circle cx="480" cy="407" r="6" fill="rgb(232,232,232)"/><circle cx="493" cy="409" r="9" fill="rgb(232,232,232)"/><circle cx="310.0" cy="440.0" r="18" fill="rgb(115,115,115)" stroke="rgb(40,40,40)" stroke-width="4"/><circle cx="308" cy="439" r="5" fill="rgb(83,83,83)"/><circle cx="308" cy="443" r="6" fill="rgb(141,141,141)"/><circle cx="315" cy="436" r="5" fill="rgb(99,99,99)"/><circle cx="265.0" cy="435.0" r="9" fill="rgb(199,199,199)" stroke="rgb(69,69,69)" stroke-width="4"/><circle cx="150.0" cy="450.0" r="18" fill="rgb(94,94,94)" stroke="rgb(32,32,32)" stroke-width="4"/><circle cx="147" cy="450" r="4" fill="rgb(117,117,117)"/><circle cx="152" cy="455" r="4" fill="rgb(76,76,76)"/><circle cx="150" cy="447" r="6" fill="rgb(118,118,118)"/></g><g filter="url(#bl3)"><circle cx="180.0" cy="45.0" r="8" fill="rgb(242,242,242)"/><circle cx="200.0" cy="58.0" r="8" fill="rgb(231,231,231)"/><circle cx="200.0" cy="78.0" r="6" fill="rgb(220,220,220)"/><circle cx="152.0" cy="155.0" r="8" fill="rgb(242,242,242)"/><circle cx="58.0" cy="210.0" r="8" fill="rgb(220,220,220)"/><circle cx="460.0" cy="268.0" r="10" fill="rgb(242,242,242)"/><circle cx="298.0" cy="295.0" r="10" fill="rgb(220,220,220)"/><circle cx="380.0" cy="300.0" r="10" fill="rgb(220,220,220)"/><circle cx="400.0" cy="290.0" r="13" fill="rgb(154,154,154)"/><circle cx="195.0" cy="345.0" r="10" fill="rgb(165,165,165)"/><circle cx="160.0" cy="345.0" r="15" fill="rgb(99,99,99)"/><circle cx="350.0" cy="405.0" r="8" fill="rgb(209,209,209)"/><circle cx="385.0" cy="395.0" r="10" fill="rgb(220,220,220)"/><circle cx="420.0" cy="418.0" r="6" fill="rgb(220,220,220)"/><circle cx="310.0" cy="440.0" r="15" fill="rgb(121,121,121)"/><circle cx="265.0" cy="435.0" r="8" fill="rgb(209,209,209)"/><circle cx="150.0" cy="450.0" r="15" fill="rgb(99,99,99)"/></g></svg><svg class="mic" style="left:343px;top:505px;width:131px;height:116px" viewBox="0 0 520 460" preserveAspectRatio="none"><rect width="520" height="460" fill="#141414"/><g filter="url(#bl2)"><circle cx="35.0" cy="75.0" r="48" fill="rgb(49,49,49)"/><circle cx="115.0" cy="55.0" r="45" fill="rgb(33,33,33)"/><circle cx="245.0" cy="30.0" r="48" fill="rgb(40,40,40)"/><circle cx="340.0" cy="35.0" r="35" fill="rgb(33,33,33)"/><circle cx="400.0" cy="50.0" r="42" fill="rgb(26,26,26)"/><circle cx="455.0" cy="60.0" r="38" fill="rgb(35,35,35)"/><circle cx="500.0" cy="25.0" r="29" fill="rgb(26,26,26)"/><circle cx="245.0" cy="100.0" r="54" fill="rgb(38,38,38)"/><circle cx="338.0" cy="90.0" r="38" fill="rgb(38,38,38)"/><circle cx="332.0" cy="120.0" r="32" fill="rgb(40,40,40)"/><circle cx="410.0" cy="115.0" r="54" fill="rgb(47,47,47)"/><circle cx="460.0" cy="135.0" r="35" fill="rgb(33,33,33)"/><circle cx="10.0" cy="130.0" r="29" fill="rgb(30,30,30)"/><circle cx="60.0" cy="180.0" r="51" fill="rgb(45,45,45)"/><circle cx="22.0" cy="160.0" r="10" fill="rgb(40,40,40)"/><circle cx="175.0" cy="170.0" r="48" fill="rgb(26,26,26)"/><circle cx="262.0" cy="182.0" r="13" fill="rgb(52,52,52)"/><circle cx="248.0" cy="205.0" r="13" fill="rgb(54,54,54)"/><circle cx="275.0" cy="205.0" r="13" fill="rgb(52,52,52)"/><circle cx="248.0" cy="232.0" r="16" fill="rgb(56,56,56)"/><circle cx="280.0" cy="232.0" r="13" fill="rgb(52,52,52)"/><circle cx="320.0" cy="185.0" r="38" fill="rgb(28,28,28)"/><circle cx="410.0" cy="195.0" r="48" fill="rgb(26,26,26)"/><circle cx="470.0" cy="215.0" r="45" fill="rgb(33,33,33)"/><circle cx="510.0" cy="225.0" r="22" fill="rgb(35,35,35)"/><circle cx="18.0" cy="240.0" r="38" fill="rgb(40,40,40)"/><circle cx="150.0" cy="240.0" r="54" fill="rgb(26,26,26)"/><circle cx="80.0" cy="270.0" r="35" fill="rgb(26,26,26)"/><circle cx="385.0" cy="270.0" r="48" fill="rgb(33,33,33)"/><circle cx="450.0" cy="270.0" r="35" fill="rgb(28,28,28)"/><circle cx="178.0" cy="308.0" r="42" fill="rgb(38,38,38)"/><circle cx="222.0" cy="295.0" r="13" fill="rgb(52,52,52)"/><circle cx="238.0" cy="295.0" r="13" fill="rgb(47,47,47)"/><circle cx="215.0" cy="315.0" r="13" fill="rgb(49,49,49)"/><circle cx="245.0" cy="315.0" r="13" fill="rgb(49,49,49)"/><circle cx="290.0" cy="330.0" r="42" fill="rgb(28,28,28)"/><circle cx="380.0" cy="320.0" r="48" fill="rgb(38,38,38)"/><circle cx="465.0" cy="340.0" r="48" fill="rgb(28,28,28)"/><circle cx="20.0" cy="320.0" r="38" fill="rgb(26,26,26)"/><circle cx="60.0" cy="310.0" r="29" fill="rgb(21,21,21)"/><circle cx="40.0" cy="390.0" r="35" fill="rgb(28,28,28)"/><circle cx="95.0" cy="395.0" r="45" fill="rgb(33,33,33)"/><circle cx="180.0" cy="400.0" r="45" fill="rgb(38,38,38)"/><circle cx="235.0" cy="420.0" r="38" fill="rgb(47,47,47)"/><circle cx="285.0" cy="405.0" r="32" fill="rgb(28,28,28)"/><circle cx="370.0" cy="400.0" r="54" fill="rgb(30,30,30)"/><circle cx="440.0" cy="425.0" r="35" fill="rgb(45,45,45)"/><circle cx="500.0" cy="410.0" r="35" fill="rgb(38,38,38)"/><circle cx="120.0" cy="445.0" r="32" fill="rgb(28,28,28)"/><circle cx="190.0" cy="445.0" r="32" fill="rgb(35,35,35)"/><circle cx="310.0" cy="450.0" r="26" fill="rgb(23,23,23)"/><circle cx="40.0" cy="445.0" r="29" fill="rgb(26,26,26)"/></g><g filter="url(#bl)"><circle cx="35.0" cy="75.0" r="34" fill="rgb(226,226,226)" stroke="rgb(79,79,79)" stroke-width="4"/><circle cx="30" cy="64" r="9" fill="rgb(200,200,200)"/><circle cx="39" cy="75" r="7" fill="rgb(199,199,199)"/><circle cx="22" cy="83" r="12" fill="rgb(195,195,195)"/><circle cx="115.0" cy="55.0" r="32" fill="rgb(151,151,151)" stroke="rgb(52,52,52)" stroke-width="4"/><circle cx="124" cy="56" r="7" fill="rgb(117,117,117)"/><circle cx="103" cy="58" r="8" fill="rgb(119,119,119)"/><circle cx="124" cy="61" r="11" fill="rgb(174,174,174)"/><circle cx="245.0" cy="30.0" r="34" fill="rgb(183,183,183)" stroke="rgb(64,64,64)" stroke-width="4"/><circle cx="238" cy="27" r="12" fill="rgb(152,152,152)"/><circle cx="246" cy="38" r="9" fill="rgb(151,151,151)"/><circle cx="251" cy="37" r="9" fill="rgb(157,157,157)"/><circle cx="340.0" cy="35.0" r="25" fill="rgb(151,151,151)" stroke="rgb(52,52,52)" stroke-width="4"/><circle cx="350" cy="32" r="8" fill="rgb(125,125,125)"/><circle cx="335" cy="35" r="6" fill="rgb(118,118,118)"/><circle cx="344" cy="36" r="8" fill="rgb(122,122,122)"/><circle cx="400.0" cy="50.0" r="30" fill="rgb(118,118,118)" stroke="rgb(41,41,41)" stroke-width="4"/><circle cx="406" cy="47" r="9" fill="rgb(141,141,141)"/><circle cx="396" cy="51" r="7" fill="rgb(101,101,101)"/><circle cx="406" cy="49" r="8" fill="rgb(134,134,134)"/><circle cx="455.0" cy="60.0" r="28" fill="rgb(162,162,162)" stroke="rgb(56,56,56)" stroke-width="4"/><circle cx="455" cy="60" r="6" fill="rgb(189,189,189)"/><circle cx="459" cy="64" r="6" fill="rgb(193,193,193)"/><circle cx="443" cy="62" r="9" fill="rgb(138,138,138)"/><circle cx="500.0" cy="25.0" r="21" fill="rgb(118,118,118)" stroke="rgb(41,41,41)" stroke-width="4"/><circle cx="505" cy="32" r="7" fill="rgb(152,152,152)"/><circle cx="495" cy="23" r="6" fill="rgb(137,137,137)"/><circle cx="507" cy="28" r="5" fill="rgb(101,101,101)"/><circle cx="245.0" cy="100.0" r="39" fill="rgb(172,172,172)" stroke="rgb(60,60,60)" stroke-width="4"/><circle cx="236" cy="102" r="13" fill="rgb(203,203,203)"/><circle cx="233" cy="95" r="12" fill="rgb(199,199,199)"/><circle cx="243" cy="109" r="13" fill="rgb(203,203,203)"/><circle cx="338.0" cy="90.0" r="28" fill="rgb(172,172,172)" stroke="rgb(60,60,60)" stroke-width="4"/><circle cx="340" cy="88" r="9" fill="rgb(147,147,147)"/><circle cx="327" cy="89" r="8" fill="rgb(201,201,201)"/><circle cx="336" cy="86" r="9" fill="rgb(148,148,148)"/><circle cx="332.0" cy="120.0" r="23" fill="rgb(183,183,183)" stroke="rgb(64,64,64)" stroke-width="4"/><circle cx="333" cy="120" r="5" fill="rgb(206,206,206)"/><circle cx="330" cy="123" r="7" fill="rgb(207,207,207)"/><circle cx="335" cy="121" r="6" fill="rgb(148,148,148)"/><circle cx="410.0" cy="115.0" r="39" fill="rgb(216,216,216)" stroke="rgb(75,75,75)" stroke-width="4"/><circle cx="413" cy="115" r="11" fill="rgb(186,186,186)"/><circle cx="417" cy="108" r="9" fill="rgb(186,186,186)"/><circle cx="406" cy="124" r="9" fill="rgb(195,195,195)"/><circle cx="460.0" cy="135.0" r="25" fill="rgb(151,151,151)" stroke="rgb(52,52,52)" stroke-width="4"/><circle cx="458" cy="142" r="8" fill="rgb(168,168,168)"/><circle cx="458" cy="139" r="8" fill="rgb(128,128,128)"/><circle cx="459" cy="132" r="7" fill="rgb(175,175,175)"/><circle cx="10.0" cy="130.0" r="21" fill="rgb(140,140,140)" stroke="rgb(49,49,49)" stroke-width="4"/><circle cx="2" cy="127" r="7" fill="rgb(113,113,113)"/><circle cx="11" cy="131" r="5" fill="rgb(115,115,115)"/><circle cx="9" cy="133" r="5" fill="rgb(155,155,155)"/><circle cx="60.0" cy="180.0" r="37" fill="rgb(205,205,205)" stroke="rgb(71,71,71)" stroke-width="4"/><circle cx="50" cy="175" r="10" fill="rgb(187,187,187)"/><circle cx="52" cy="172" r="8" fill="rgb(186,186,186)"/><circle cx="59" cy="179" r="8" fill="rgb(228,228,228)"/><circle cx="22.0" cy="160.0" r="7" fill="rgb(183,183,183)" stroke="rgb(64,64,64)" stroke-width="4"/><circle cx="175.0" cy="170.0" r="34" fill="rgb(118,118,118)" stroke="rgb(41,41,41)" stroke-width="4"/><circle cx="168" cy="157" r="12" fill="rgb(86,86,86)"/><circle cx="174" cy="177" r="9" fill="rgb(138,138,138)"/><circle cx="176" cy="168" r="7" fill="rgb(94,94,94)"/><circle cx="262.0" cy="182.0" r="9" fill="rgb(237,237,237)" stroke="rgb(82,82,82)" stroke-width="4"/><circle cx="248.0" cy="205.0" r="9" fill="rgb(248,248,248)" stroke="rgb(86,86,86)" stroke-width="4"/><circle cx="275.0" cy="205.0" r="9" fill="rgb(237,237,237)" stroke="rgb(82,82,82)" stroke-width="4"/><circle cx="248.0" cy="232.0" r="12" fill="rgb(255,255,255)" stroke="rgb(89,89,89)" stroke-width="4"/><circle cx="280.0" cy="232.0" r="9" fill="rgb(237,237,237)" stroke="rgb(82,82,82)" stroke-width="4"/><circle cx="320.0" cy="185.0" r="28" fill="rgb(129,129,129)" stroke="rgb(45,45,45)" stroke-width="4"/><circle cx="310" cy="177" r="6" fill="rgb(148,148,148)"/><circle cx="330" cy="190" r="6" fill="rgb(111,111,111)"/><circle cx="320" cy="184" r="6" fill="rgb(145,145,145)"/><circle cx="410.0" cy="195.0" r="34" fill="rgb(118,118,118)" stroke="rgb(41,41,41)" stroke-width="4"/><circle cx="415" cy="185" r="9" fill="rgb(140,140,140)"/><circle cx="412" cy="194" r="12" fill="rgb(102,102,102)"/><circle cx="414" cy="198" r="10" fill="rgb(138,138,138)"/><circle cx="470.0" cy="215.0" r="32" fill="rgb(151,151,151)" stroke="rgb(52,52,52)" stroke-width="4"/><circle cx="481" cy="224" r="7" fill="rgb(135,135,135)"/><circle cx="470" cy="209" r="9" fill="rgb(131,131,131)"/><circle cx="483" cy="221" r="9" fill="rgb(170,170,170)"/><circle cx="510.0" cy="225.0" r="16" fill="rgb(162,162,162)" stroke="rgb(56,56,56)" stroke-width="4"/><circle cx="511" cy="226" r="5" fill="rgb(180,180,180)"/><circle cx="510" cy="224" r="4" fill="rgb(143,143,143)"/><circle cx="512" cy="223" r="4" fill="rgb(127,127,127)"/><circle cx="18.0" cy="240.0" r="28" fill="rgb(183,183,183)" stroke="rgb(64,64,64)" stroke-width="4"/><circle cx="17" cy="242" r="8" fill="rgb(155,155,155)"/><circle cx="18" cy="240" r="9" fill="rgb(154,154,154)"/><circle cx="21" cy="236" r="8" fill="rgb(154,154,154)"/><circle cx="150.0" cy="240.0" r="39" fill="rgb(118,118,118)" stroke="rgb(41,41,41)" stroke-width="4"/><circle cx="138" cy="237" r="8" fill="rgb(143,143,143)"/><circle cx="140" cy="235" r="11" fill="rgb(144,144,144)"/><circle cx="158" cy="234" r="10" fill="rgb(151,151,151)"/><circle cx="80.0" cy="270.0" r="25" fill="rgb(118,118,118)" stroke="rgb(41,41,41)" stroke-width="4"/><circle cx="79" cy="270" r="7" fill="rgb(86,86,86)"/><circle cx="76" cy="269" r="7" fill="rgb(88,88,88)"/><circle cx="82" cy="280" r="8" fill="rgb(88,88,88)"/><circle cx="385.0" cy="270.0" r="34" fill="rgb(151,151,151)" stroke="rgb(52,52,52)" stroke-width="4"/><circle cx="381" cy="264" r="10" fill="rgb(178,178,178)"/><circle cx="392" cy="266" r="11" fill="rgb(116,116,116)"/><circle cx="392" cy="267" r="9" fill="rgb(175,175,175)"/><circle cx="450.0" cy="270.0" r="25" fill="rgb(129,129,129)" stroke="rgb(45,45,45)" stroke-width="4"/><circle cx="451" cy="269" r="6" fill="rgb(160,160,160)"/><circle cx="447" cy="270" r="8" fill="rgb(162,162,162)"/><circle cx="452" cy="264" r="9" fill="rgb(106,106,106)"/><circle cx="178.0" cy="308.0" r="30" fill="rgb(172,172,172)" stroke="rgb(60,60,60)" stroke-width="4"/><circle cx="180" cy="308" r="10" fill="rgb(142,142,142)"/><circle cx="172" cy="316" r="8" fill="rgb(199,199,199)"/><circle cx="173" cy="312" r="10" fill="rgb(155,155,155)"/><circle cx="222.0" cy="295.0" r="9" fill="rgb(237,237,237)" stroke="rgb(82,82,82)" stroke-width="4"/><circle cx="238.0" cy="295.0" r="9" fill="rgb(216,216,216)" stroke="rgb(75,75,75)" stroke-width="4"/><circle cx="215.0" cy="315.0" r="9" fill="rgb(226,226,226)" stroke="rgb(79,79,79)" stroke-width="4"/><circle cx="245.0" cy="315.0" r="9" fill="rgb(226,226,226)" stroke="rgb(79,79,79)" stroke-width="4"/><circle cx="290.0" cy="330.0" r="30" fill="rgb(129,129,129)" stroke="rgb(45,45,45)" stroke-width="4"/><circle cx="287" cy="334" r="10" fill="rgb(108,108,108)"/><circle cx="294" cy="329" r="7" fill="rgb(153,153,153)"/><circle cx="285" cy="336" r="10" fill="rgb(105,105,105)"/><circle cx="380.0" cy="320.0" r="34" fill="rgb(172,172,172)" stroke="rgb(60,60,60)" stroke-width="4"/><circle cx="370" cy="309" r="7" fill="rgb(148,148,148)"/><circle cx="372" cy="320" r="10" fill="rgb(149,149,149)"/><circle cx="387" cy="307" r="11" fill="rgb(206,206,206)"/><circle cx="465.0" cy="340.0" r="34" fill="rgb(129,129,129)" stroke="rgb(45,45,45)" stroke-width="4"/><circle cx="468" cy="339" r="11" fill="rgb(97,97,97)"/><circle cx="479" cy="343" r="12" fill="rgb(155,155,155)"/><circle cx="463" cy="344" r="9" fill="rgb(144,144,144)"/><circle cx="20.0" cy="320.0" r="28" fill="rgb(118,118,118)" stroke="rgb(41,41,41)" stroke-width="4"/><circle cx="16" cy="329" r="6" fill="rgb(85,85,85)"/><circle cx="9" cy="315" r="7" fill="rgb(97,97,97)"/><circle cx="17" cy="330" r="8" fill="rgb(146,146,146)"/><circle cx="60.0" cy="310.0" r="21" fill="rgb(97,97,97)" stroke="rgb(33,33,33)" stroke-width="4"/><circle cx="57" cy="314" r="5" fill="rgb(66,66,66)"/><circle cx="61" cy="306" r="5" fill="rgb(121,121,121)"/><circle cx="59" cy="315" r="5" fill="rgb(74,74,74)"/><circle cx="40.0" cy="390.0" r="25" fill="rgb(129,129,129)" stroke="rgb(45,45,45)" stroke-width="4"/><circle cx="45" cy="384" r="8" fill="rgb(153,153,153)"/><circle cx="41" cy="391" r="8" fill="rgb(152,152,152)"/><circle cx="47" cy="389" r="5" fill="rgb(111,111,111)"/><circle cx="95.0" cy="395.0" r="32" fill="rgb(151,151,151)" stroke="rgb(52,52,52)" stroke-width="4"/><circle cx="100" cy="385" r="10" fill="rgb(120,120,120)"/><circle cx="91" cy="391" r="10" fill="rgb(171,171,171)"/><circle cx="97" cy="393" r="11" fill="rgb(175,175,175)"/><circle cx="180.0" cy="400.0" r="32" fill="rgb(172,172,172)" stroke="rgb(60,60,60)" stroke-width="4"/><circle cx="188" cy="399" r="10" fill="rgb(144,144,144)"/><circle cx="184" cy="404" r="7" fill="rgb(197,197,197)"/><circle cx="179" cy="399" r="11" fill="rgb(145,145,145)"/><circle cx="235.0" cy="420.0" r="28" fill="rgb(216,216,216)" stroke="rgb(75,75,75)" stroke-width="4"/><circle cx="231" cy="419" r="9" fill="rgb(249,249,249)"/><circle cx="238" cy="418" r="7" fill="rgb(192,192,192)"/><circle cx="243" cy="420" r="7" fill="rgb(232,232,232)"/><circle cx="285.0" cy="405.0" r="23" fill="rgb(129,129,129)" stroke="rgb(45,45,45)" stroke-width="4"/><circle cx="283" cy="399" r="6" fill="rgb(99,99,99)"/><circle cx="282" cy="401" r="6" fill="rgb(100,100,100)"/><circle cx="282" cy="409" r="8" fill="rgb(104,104,104)"/><circle cx="370.0" cy="400.0" r="39" fill="rgb(140,140,140)" stroke="rgb(49,49,49)" stroke-width="4"/><circle cx="375" cy="393" r="10" fill="rgb(106,106,106)"/><circle cx="371" cy="396" r="11" fill="rgb(171,171,171)"/><circle cx="364" cy="403" r="9" fill="rgb(114,114,114)"/><circle cx="440.0" cy="425.0" r="25" fill="rgb(205,205,205)" stroke="rgb(71,71,71)" stroke-width="4"/><circle cx="435" cy="426" r="6" fill="rgb(186,186,186)"/><circle cx="444" cy="427" r="6" fill="rgb(220,220,220)"/><circle cx="435" cy="417" r="6" fill="rgb(233,233,233)"/><circle cx="500.0" cy="410.0" r="25" fill="rgb(172,172,172)" stroke="rgb(60,60,60)" stroke-width="4"/><circle cx="495" cy="410" r="6" fill="rgb(151,151,151)"/><circle cx="506" cy="402" r="5" fill="rgb(192,192,192)"/><circle cx="504" cy="403" r="9" fill="rgb(155,155,155)"/><circle cx="120.0" cy="445.0" r="23" fill="rgb(129,129,129)" stroke="rgb(45,45,45)" stroke-width="4"/><circle cx="123" cy="455" r="7" fill="rgb(102,102,102)"/><circle cx="119" cy="450" r="5" fill="rgb(103,103,103)"/><circle cx="126" cy="446" r="7" fill="rgb(109,109,109)"/><circle cx="190.0" cy="445.0" r="23" fill="rgb(162,162,162)" stroke="rgb(56,56,56)" stroke-width="4"/><circle cx="187" cy="439" r="7" fill="rgb(196,196,196)"/><circle cx="189" cy="445" r="5" fill="rgb(128,128,128)"/><circle cx="189" cy="445" r="8" fill="rgb(182,182,182)"/><circle cx="310.0" cy="450.0" r="18" fill="rgb(108,108,108)" stroke="rgb(37,37,37)" stroke-width="4"/><circle cx="309" cy="448" r="6" fill="rgb(127,127,127)"/><circle cx="304" cy="455" r="4" fill="rgb(137,137,137)"/><circle cx="306" cy="447" r="4" fill="rgb(84,84,84)"/><circle cx="40.0" cy="445.0" r="21" fill="rgb(118,118,118)" stroke="rgb(41,41,41)" stroke-width="4"/><circle cx="37" cy="448" r="5" fill="rgb(91,91,91)"/><circle cx="41" cy="444" r="5" fill="rgb(148,148,148)"/><circle cx="41" cy="446" r="6" fill="rgb(151,151,151)"/></g><g filter="url(#bl3)"><circle cx="22.0" cy="160.0" r="6" fill="rgb(192,192,192)"/><circle cx="262.0" cy="182.0" r="8" fill="rgb(249,249,249)"/><circle cx="248.0" cy="205.0" r="8" fill="rgb(255,255,255)"/><circle cx="275.0" cy="205.0" r="8" fill="rgb(249,249,249)"/><circle cx="248.0" cy="232.0" r="10" fill="rgb(255,255,255)"/><circle cx="280.0" cy="232.0" r="8" fill="rgb(249,249,249)"/><circle cx="510.0" cy="225.0" r="13" fill="rgb(170,170,170)"/><circle cx="222.0" cy="295.0" r="8" fill="rgb(249,249,249)"/><circle cx="238.0" cy="295.0" r="8" fill="rgb(226,226,226)"/><circle cx="215.0" cy="315.0" r="8" fill="rgb(238,238,238)"/><circle cx="245.0" cy="315.0" r="8" fill="rgb(238,238,238)"/><circle cx="310.0" cy="450.0" r="15" fill="rgb(113,113,113)"/></g></svg><svg class="mic" style="left:71px;top:626px;width:131px;height:117px" viewBox="0 0 520 464" preserveAspectRatio="none"><rect width="520" height="464" fill="#060606"/><g filter="url(#bl2)"><circle cx="15.0" cy="40.0" r="19" fill="rgb(44,44,44)"/><circle cx="290.0" cy="25.0" r="35" fill="rgb(44,44,44)"/><circle cx="355.0" cy="15.0" r="38" fill="rgb(44,44,44)"/><circle cx="230.0" cy="30.0" r="26" fill="rgb(24,24,24)"/><circle cx="200.0" cy="70.0" r="19" fill="rgb(48,48,48)"/><circle cx="345.0" cy="70.0" r="32" fill="rgb(39,39,39)"/><circle cx="330.0" cy="70.0" r="16" fill="rgb(39,39,39)"/><circle cx="290.0" cy="85.0" r="35" fill="rgb(22,22,22)"/><circle cx="420.0" cy="75.0" r="13" fill="rgb(30,30,30)"/><circle cx="430.0" cy="100.0" r="16" fill="rgb(35,35,35)"/><circle cx="5.0" cy="140.0" r="16" fill="rgb(35,35,35)"/><circle cx="38.0" cy="175.0" r="26" fill="rgb(48,48,48)"/><circle cx="195.0" cy="115.0" r="13" fill="rgb(44,44,44)"/><circle cx="225.0" cy="120.0" r="16" fill="rgb(46,46,46)"/><circle cx="245.0" cy="120.0" r="13" fill="rgb(44,44,44)"/><circle cx="190.0" cy="135.0" r="13" fill="rgb(41,41,41)"/><circle cx="160.0" cy="155.0" r="16" fill="rgb(48,48,48)"/><circle cx="200.0" cy="170.0" r="16" fill="rgb(44,44,44)"/><circle cx="185.0" cy="185.0" r="13" fill="rgb(39,39,39)"/><circle cx="165.0" cy="180.0" r="10" fill="rgb(35,35,35)"/><circle cx="15.0" cy="230.0" r="26" fill="rgb(24,24,24)"/><circle cx="235.0" cy="210.0" r="35" fill="rgb(19,19,19)"/><circle cx="260.0" cy="240.0" r="16" fill="rgb(41,41,41)"/><circle cx="275.0" cy="232.0" r="13" fill="rgb(44,44,44)"/><circle cx="350.0" cy="255.0" r="22" fill="rgb(46,46,46)"/><circle cx="305.0" cy="272.0" r="26" fill="rgb(50,50,50)"/><circle cx="230.0" cy="280.0" r="19" fill="rgb(46,46,46)"/><circle cx="230.0" cy="295.0" r="19" fill="rgb(46,46,46)"/><circle cx="5.0" cy="290.0" r="13" fill="rgb(44,44,44)"/><circle cx="35.0" cy="300.0" r="22" fill="rgb(48,48,48)"/><circle cx="125.0" cy="290.0" r="13" fill="rgb(33,33,33)"/><circle cx="130.0" cy="310.0" r="19" fill="rgb(46,46,46)"/><circle cx="30.0" cy="325.0" r="16" fill="rgb(44,44,44)"/><circle cx="35.0" cy="345.0" r="16" fill="rgb(41,41,41)"/><circle cx="35.0" cy="365.0" r="13" fill="rgb(35,35,35)"/><circle cx="270.0" cy="330.0" r="19" fill="rgb(48,48,48)"/><circle cx="222.0" cy="340.0" r="19" fill="rgb(46,46,46)"/><circle cx="308.0" cy="350.0" r="32" fill="rgb(30,30,30)"/><circle cx="180.0" cy="362.0" r="35" fill="rgb(22,22,22)"/><circle cx="255.0" cy="375.0" r="16" fill="rgb(44,44,44)"/><circle cx="150.0" cy="385.0" r="16" fill="rgb(41,41,41)"/><circle cx="190.0" cy="405.0" r="26" fill="rgb(50,50,50)"/><circle cx="230.0" cy="418.0" r="26" fill="rgb(48,48,48)"/><circle cx="300.0" cy="410.0" r="19" fill="rgb(46,46,46)"/><circle cx="325.0" cy="395.0" r="13" fill="rgb(39,39,39)"/><circle cx="325.0" cy="440.0" r="22" fill="rgb(48,48,48)"/><circle cx="280.0" cy="440.0" r="29" fill="rgb(19,19,19)"/><circle cx="405.0" cy="445.0" r="16" fill="rgb(41,41,41)"/><circle cx="435.0" cy="410.0" r="22" fill="rgb(48,48,48)"/><circle cx="410.0" cy="385.0" r="10" fill="rgb(33,33,33)"/><circle cx="105.0" cy="400.0" r="13" fill="rgb(22,22,22)"/><circle cx="510.0" cy="300.0" r="16" fill="rgb(17,17,17)"/></g><g filter="url(#bl)"><circle cx="15.0" cy="40.0" r="13" fill="rgb(200,200,200)" stroke="rgb(70,70,70)" stroke-width="4"/><circle cx="13" cy="37" r="3" fill="rgb(218,218,218)"/><circle cx="16" cy="38" r="3" fill="rgb(231,231,231)"/><circle cx="15" cy="41" r="4" fill="rgb(170,170,170)"/><circle cx="290.0" cy="25.0" r="23" fill="rgb(200,200,200)" stroke="rgb(70,70,70)" stroke-width="4"/><circle cx="286" cy="20" r="7" fill="rgb(230,230,230)"/><circle cx="284" cy="16" r="7" fill="rgb(168,168,168)"/><circle cx="289" cy="25" r="5" fill="rgb(227,227,227)"/><circle cx="355.0" cy="15.0" r="25" fill="rgb(200,200,200)" stroke="rgb(70,70,70)" stroke-width="4"/><circle cx="356" cy="14" r="8" fill="rgb(230,230,230)"/><circle cx="355" cy="15" r="8" fill="rgb(181,181,181)"/><circle cx="354" cy="26" r="7" fill="rgb(165,165,165)"/><circle cx="230.0" cy="30.0" r="17" fill="rgb(110,110,110)" stroke="rgb(38,38,38)" stroke-width="4"/><circle cx="229" cy="30" r="6" fill="rgb(126,126,126)"/><circle cx="232" cy="27" r="5" fill="rgb(87,87,87)"/><circle cx="231" cy="32" r="4" fill="rgb(84,84,84)"/><circle cx="200.0" cy="70.0" r="13" fill="rgb(220,220,220)" stroke="rgb(77,77,77)" stroke-width="4"/><circle cx="200" cy="67" r="4" fill="rgb(198,198,198)"/><circle cx="197" cy="72" r="4" fill="rgb(240,240,240)"/><circle cx="199" cy="68" r="3" fill="rgb(240,240,240)"/><circle cx="345.0" cy="70.0" r="21" fill="rgb(180,180,180)" stroke="rgb(62,62,62)" stroke-width="4"/><circle cx="348" cy="70" r="7" fill="rgb(206,206,206)"/><circle cx="345" cy="70" r="5" fill="rgb(157,157,157)"/><circle cx="342" cy="62" r="5" fill="rgb(153,153,153)"/><circle cx="330.0" cy="70.0" r="10" fill="rgb(180,180,180)" stroke="rgb(62,62,62)" stroke-width="4"/><circle cx="290.0" cy="85.0" r="23" fill="rgb(100,100,100)" stroke="rgb(35,35,35)" stroke-width="4"/><circle cx="290" cy="85" r="7" fill="rgb(129,129,129)"/><circle cx="290" cy="87" r="7" fill="rgb(131,131,131)"/><circle cx="299" cy="89" r="8" fill="rgb(81,81,81)"/><circle cx="420.0" cy="75.0" r="8" fill="rgb(140,140,140)" stroke="rgb(49,49,49)" stroke-width="4"/><circle cx="430.0" cy="100.0" r="10" fill="rgb(160,160,160)" stroke="rgb(56,56,56)" stroke-width="4"/><circle cx="5.0" cy="140.0" r="10" fill="rgb(160,160,160)" stroke="rgb(56,56,56)" stroke-width="4"/><circle cx="38.0" cy="175.0" r="17" fill="rgb(220,220,220)" stroke="rgb(77,77,77)" stroke-width="4"/><circle cx="38" cy="176" r="5" fill="rgb(247,247,247)"/><circle cx="38" cy="178" r="5" fill="rgb(235,235,235)"/><circle cx="37" cy="178" r="5" fill="rgb(251,251,251)"/><circle cx="195.0" cy="115.0" r="8" fill="rgb(200,200,200)" stroke="rgb(70,70,70)" stroke-width="4"/><circle cx="225.0" cy="120.0" r="10" fill="rgb(210,210,210)" stroke="rgb(73,73,73)" stroke-width="4"/><circle cx="245.0" cy="120.0" r="8" fill="rgb(200,200,200)" stroke="rgb(70,70,70)" stroke-width="4"/><circle cx="190.0" cy="135.0" r="8" fill="rgb(190,190,190)" stroke="rgb(66,66,66)" stroke-width="4"/><circle cx="160.0" cy="155.0" r="10" fill="rgb(220,220,220)" stroke="rgb(77,77,77)" stroke-width="4"/><circle cx="200.0" cy="170.0" r="10" fill="rgb(200,200,200)" stroke="rgb(70,70,70)" stroke-width="4"/><circle cx="185.0" cy="185.0" r="8" fill="rgb(180,180,180)" stroke="rgb(62,62,62)" stroke-width="4"/><circle cx="165.0" cy="180.0" r="6" fill="rgb(160,160,160)" stroke="rgb(56,56,56)" stroke-width="4"/><circle cx="15.0" cy="230.0" r="17" fill="rgb(110,110,110)" stroke="rgb(38,38,38)" stroke-width="4"/><circle cx="9" cy="230" r="5" fill="rgb(144,144,144)"/><circle cx="16" cy="229" r="4" fill="rgb(90,90,90)"/><circle cx="16" cy="230" r="4" fill="rgb(87,87,87)"/><circle cx="235.0" cy="210.0" r="23" fill="rgb(90,90,90)" stroke="rgb(31,31,31)" stroke-width="4"/><circle cx="235" cy="202" r="6" fill="rgb(71,71,71)"/><circle cx="241" cy="212" r="5" fill="rgb(117,117,117)"/><circle cx="237" cy="209" r="7" fill="rgb(112,112,112)"/><circle cx="260.0" cy="240.0" r="10" fill="rgb(190,190,190)" stroke="rgb(66,66,66)" stroke-width="4"/><circle cx="275.0" cy="232.0" r="8" fill="rgb(200,200,200)" stroke="rgb(70,70,70)" stroke-width="4"/><circle cx="350.0" cy="255.0" r="15" fill="rgb(210,210,210)" stroke="rgb(73,73,73)" stroke-width="4"/><circle cx="351" cy="259" r="3" fill="rgb(194,194,194)"/><circle cx="351" cy="257" r="3" fill="rgb(234,234,234)"/><circle cx="347" cy="253" r="4" fill="rgb(181,181,181)"/><circle cx="305.0" cy="272.0" r="17" fill="rgb(230,230,230)" stroke="rgb(80,80,80)" stroke-width="4"/><circle cx="309" cy="273" r="4" fill="rgb(255,255,255)"/><circle cx="304" cy="271" r="5" fill="rgb(255,255,255)"/><circle cx="304" cy="265" r="5" fill="rgb(255,255,255)"/><circle cx="230.0" cy="280.0" r="13" fill="rgb(210,210,210)" stroke="rgb(73,73,73)" stroke-width="4"/><circle cx="232" cy="279" r="4" fill="rgb(239,239,239)"/><circle cx="230" cy="279" r="4" fill="rgb(175,175,175)"/><circle cx="229" cy="280" r="4" fill="rgb(227,227,227)"/><circle cx="230.0" cy="295.0" r="13" fill="rgb(210,210,210)" stroke="rgb(73,73,73)" stroke-width="4"/><circle cx="227" cy="292" r="3" fill="rgb(230,230,230)"/><circle cx="230" cy="294" r="4" fill="rgb(235,235,235)"/><circle cx="229" cy="295" r="3" fill="rgb(243,243,243)"/><circle cx="5.0" cy="290.0" r="8" fill="rgb(200,200,200)" stroke="rgb(70,70,70)" stroke-width="4"/><circle cx="35.0" cy="300.0" r="15" fill="rgb(220,220,220)" stroke="rgb(77,77,77)" stroke-width="4"/><circle cx="35" cy="298" r="5" fill="rgb(254,254,254)"/><circle cx="35" cy="300" r="5" fill="rgb(192,192,192)"/><circle cx="36" cy="300" r="4" fill="rgb(185,185,185)"/><circle cx="125.0" cy="290.0" r="8" fill="rgb(150,150,150)" stroke="rgb(52,52,52)" stroke-width="4"/><circle cx="130.0" cy="310.0" r="13" fill="rgb(210,210,210)" stroke="rgb(73,73,73)" stroke-width="4"/><circle cx="128" cy="313" r="3" fill="rgb(180,180,180)"/><circle cx="131" cy="315" r="4" fill="rgb(234,234,234)"/><circle cx="130" cy="310" r="4" fill="rgb(187,187,187)"/><circle cx="30.0" cy="325.0" r="10" fill="rgb(200,200,200)" stroke="rgb(70,70,70)" stroke-width="4"/><circle cx="35.0" cy="345.0" r="10" fill="rgb(190,190,190)" stroke="rgb(66,66,66)" stroke-width="4"/><circle cx="35.0" cy="365.0" r="8" fill="rgb(160,160,160)" stroke="rgb(56,56,56)" stroke-width="4"/><circle cx="270.0" cy="330.0" r="13" fill="rgb(220,220,220)" stroke="rgb(77,77,77)" stroke-width="4"/><circle cx="273" cy="333" r="4" fill="rgb(201,201,201)"/><circle cx="266" cy="330" r="4" fill="rgb(197,197,197)"/><circle cx="269" cy="330" r="3" fill="rgb(241,241,241)"/><circle cx="222.0" cy="340.0" r="13" fill="rgb(210,210,210)" stroke="rgb(73,73,73)" stroke-width="4"/><circle cx="222" cy="337" r="3" fill="rgb(228,228,228)"/><circle cx="221" cy="340" r="3" fill="rgb(238,238,238)"/><circle cx="224" cy="337" r="3" fill="rgb(244,244,244)"/><circle cx="308.0" cy="350.0" r="21" fill="rgb(140,140,140)" stroke="rgb(49,49,49)" stroke-width="4"/><circle cx="314" cy="344" r="6" fill="rgb(122,122,122)"/><circle cx="309" cy="343" r="6" fill="rgb(107,107,107)"/><circle cx="299" cy="349" r="5" fill="rgb(169,169,169)"/><circle cx="180.0" cy="362.0" r="23" fill="rgb(100,100,100)" stroke="rgb(35,35,35)" stroke-width="4"/><circle cx="188" cy="367" r="6" fill="rgb(75,75,75)"/><circle cx="185" cy="359" r="5" fill="rgb(72,72,72)"/><circle cx="175" cy="362" r="7" fill="rgb(78,78,78)"/><circle cx="255.0" cy="375.0" r="10" fill="rgb(200,200,200)" stroke="rgb(70,70,70)" stroke-width="4"/><circle cx="150.0" cy="385.0" r="10" fill="rgb(190,190,190)" stroke="rgb(66,66,66)" stroke-width="4"/><circle cx="190.0" cy="405.0" r="17" fill="rgb(230,230,230)" stroke="rgb(80,80,80)" stroke-width="4"/><circle cx="192" cy="399" r="4" fill="rgb(255,255,255)"/><circle cx="188" cy="407" r="3" fill="rgb(255,255,255)"/><circle cx="190" cy="410" r="4" fill="rgb(245,245,245)"/><circle cx="230.0" cy="418.0" r="17" fill="rgb(220,220,220)" stroke="rgb(77,77,77)" stroke-width="4"/><circle cx="229" cy="415" r="6" fill="rgb(190,190,190)"/><circle cx="236" cy="417" r="4" fill="rgb(194,194,194)"/><circle cx="225" cy="413" r="6" fill="rgb(194,194,194)"/><circle cx="300.0" cy="410.0" r="13" fill="rgb(210,210,210)" stroke="rgb(73,73,73)" stroke-width="4"/><circle cx="302" cy="414" r="3" fill="rgb(243,243,243)"/><circle cx="298" cy="408" r="4" fill="rgb(180,180,180)"/><circle cx="299" cy="416" r="3" fill="rgb(237,237,237)"/><circle cx="325.0" cy="395.0" r="8" fill="rgb(180,180,180)" stroke="rgb(62,62,62)" stroke-width="4"/><circle cx="325.0" cy="440.0" r="15" fill="rgb(220,220,220)" stroke="rgb(77,77,77)" stroke-width="4"/><circle cx="322" cy="440" r="4" fill="rgb(203,203,203)"/><circle cx="321" cy="439" r="5" fill="rgb(186,186,186)"/><circle cx="323" cy="442" r="3" fill="rgb(253,253,253)"/><circle cx="280.0" cy="440.0" r="19" fill="rgb(90,90,90)" stroke="rgb(31,31,31)" stroke-width="4"/><circle cx="282" cy="442" r="5" fill="rgb(117,117,117)"/><circle cx="274" cy="440" r="7" fill="rgb(57,57,57)"/><circle cx="274" cy="438" r="6" fill="rgb(65,65,65)"/><circle cx="405.0" cy="445.0" r="10" fill="rgb(190,190,190)" stroke="rgb(66,66,66)" stroke-width="4"/><circle cx="435.0" cy="410.0" r="15" fill="rgb(220,220,220)" stroke="rgb(77,77,77)" stroke-width="4"/><circle cx="435" cy="411" r="5" fill="rgb(254,254,254)"/><circle cx="433" cy="408" r="4" fill="rgb(248,248,248)"/><circle cx="436" cy="406" r="3" fill="rgb(195,195,195)"/><circle cx="410.0" cy="385.0" r="6" fill="rgb(150,150,150)" stroke="rgb(52,52,52)" stroke-width="4"/><circle cx="105.0" cy="400.0" r="8" fill="rgb(100,100,100)" stroke="rgb(35,35,35)" stroke-width="4"/><circle cx="510.0" cy="300.0" r="10" fill="rgb(80,80,80)" stroke="rgb(28,28,28)" stroke-width="4"/></g><g filter="url(#bl3)"><circle cx="15.0" cy="40.0" r="11" fill="rgb(210,210,210)"/><circle cx="230.0" cy="30.0" r="15" fill="rgb(115,115,115)"/><circle cx="200.0" cy="70.0" r="11" fill="rgb(231,231,231)"/><circle cx="330.0" cy="70.0" r="10" fill="rgb(189,189,189)"/><circle cx="420.0" cy="75.0" r="8" fill="rgb(147,147,147)"/><circle cx="430.0" cy="100.0" r="10" fill="rgb(168,168,168)"/><circle cx="5.0" cy="140.0" r="10" fill="rgb(168,168,168)"/><circle cx="38.0" cy="175.0" r="15" fill="rgb(231,231,231)"/><circle cx="195.0" cy="115.0" r="8" fill="rgb(210,210,210)"/><circle cx="225.0" cy="120.0" r="10" fill="rgb(220,220,220)"/><circle cx="245.0" cy="120.0" r="8" fill="rgb(210,210,210)"/><circle cx="190.0" cy="135.0" r="8" fill="rgb(199,199,199)"/><circle cx="160.0" cy="155.0" r="10" fill="rgb(231,231,231)"/><circle cx="200.0" cy="170.0" r="10" fill="rgb(210,210,210)"/><circle cx="185.0" cy="185.0" r="8" fill="rgb(189,189,189)"/><circle cx="165.0" cy="180.0" r="6" fill="rgb(168,168,168)"/><circle cx="15.0" cy="230.0" r="15" fill="rgb(115,115,115)"/><circle cx="260.0" cy="240.0" r="10" fill="rgb(199,199,199)"/><circle cx="275.0" cy="232.0" r="8" fill="rgb(210,210,210)"/><circle cx="350.0" cy="255.0" r="13" fill="rgb(220,220,220)"/><circle cx="305.0" cy="272.0" r="15" fill="rgb(241,241,241)"/><circle cx="230.0" cy="280.0" r="11" fill="rgb(220,220,220)"/><circle cx="230.0" cy="295.0" r="11" fill="rgb(220,220,220)"/><circle cx="5.0" cy="290.0" r="8" fill="rgb(210,210,210)"/><circle cx="35.0" cy="300.0" r="13" fill="rgb(231,231,231)"/><circle cx="125.0" cy="290.0" r="8" fill="rgb(157,157,157)"/><circle cx="130.0" cy="310.0" r="11" fill="rgb(220,220,220)"/><circle cx="30.0" cy="325.0" r="10" fill="rgb(210,210,210)"/><circle cx="35.0" cy="345.0" r="10" fill="rgb(199,199,199)"/><circle cx="35.0" cy="365.0" r="8" fill="rgb(168,168,168)"/><circle cx="270.0" cy="330.0" r="11" fill="rgb(231,231,231)"/><circle cx="222.0" cy="340.0" r="11" fill="rgb(220,220,220)"/><circle cx="255.0" cy="375.0" r="10" fill="rgb(210,210,210)"/><circle cx="150.0" cy="385.0" r="10" fill="rgb(199,199,199)"/><circle cx="190.0" cy="405.0" r="15" fill="rgb(241,241,241)"/><circle cx="230.0" cy="418.0" r="15" fill="rgb(231,231,231)"/><circle cx="300.0" cy="410.0" r="11" fill="rgb(220,220,220)"/><circle cx="325.0" cy="395.0" r="8" fill="rgb(189,189,189)"/><circle cx="325.0" cy="440.0" r="13" fill="rgb(231,231,231)"/><circle cx="405.0" cy="445.0" r="10" fill="rgb(199,199,199)"/><circle cx="435.0" cy="410.0" r="13" fill="rgb(231,231,231)"/><circle cx="410.0" cy="385.0" r="6" fill="rgb(157,157,157)"/><circle cx="105.0" cy="400.0" r="8" fill="rgb(105,105,105)"/><circle cx="510.0" cy="300.0" r="10" fill="rgb(84,84,84)"/></g></svg><svg class="mic" style="left:207px;top:626px;width:131px;height:117px" viewBox="0 0 520 464" preserveAspectRatio="none"><rect width="520" height="464" fill="#060606"/><g filter="url(#bl2)"><circle cx="70.0" cy="15.0" r="29" fill="rgb(24,24,24)"/><circle cx="295.0" cy="15.0" r="35" fill="rgb(26,26,26)"/><circle cx="20.0" cy="60.0" r="22" fill="rgb(46,46,46)"/><circle cx="70.0" cy="68.0" r="26" fill="rgb(46,46,46)"/><circle cx="120.0" cy="62.0" r="22" fill="rgb(46,46,46)"/><circle cx="155.0" cy="48.0" r="13" fill="rgb(41,41,41)"/><circle cx="178.0" cy="45.0" r="19" fill="rgb(46,46,46)"/><circle cx="240.0" cy="80.0" r="42" fill="rgb(24,24,24)"/><circle cx="280.0" cy="92.0" r="22" fill="rgb(46,46,46)"/><circle cx="350.0" cy="75.0" r="45" fill="rgb(22,22,22)"/><circle cx="420.0" cy="50.0" r="22" fill="rgb(46,46,46)"/><circle cx="400.0" cy="70.0" r="16" fill="rgb(41,41,41)"/><circle cx="15.0" cy="100.0" r="22" fill="rgb(44,44,44)"/><circle cx="20.0" cy="150.0" r="45" fill="rgb(44,44,44)"/><circle cx="5.0" cy="175.0" r="22" fill="rgb(39,39,39)"/><circle cx="312.0" cy="130.0" r="16" fill="rgb(46,46,46)"/><circle cx="325.0" cy="155.0" r="13" fill="rgb(41,41,41)"/><circle cx="300.0" cy="165.0" r="13" fill="rgb(44,44,44)"/><circle cx="288.0" cy="180.0" r="16" fill="rgb(46,46,46)"/><circle cx="355.0" cy="200.0" r="22" fill="rgb(48,48,48)"/><circle cx="398.0" cy="175.0" r="16" fill="rgb(44,44,44)"/><circle cx="385.0" cy="195.0" r="13" fill="rgb(39,39,39)"/><circle cx="340.0" cy="245.0" r="35" fill="rgb(24,24,24)"/><circle cx="290.0" cy="275.0" r="42" fill="rgb(22,22,22)"/><circle cx="240.0" cy="290.0" r="38" fill="rgb(26,26,26)"/><circle cx="330.0" cy="298.0" r="19" fill="rgb(41,41,41)"/><circle cx="360.0" cy="290.0" r="22" fill="rgb(46,46,46)"/><circle cx="100.0" cy="315.0" r="29" fill="rgb(44,44,44)"/><circle cx="75.0" cy="335.0" r="19" fill="rgb(46,46,46)"/><circle cx="120.0" cy="335.0" r="16" fill="rgb(44,44,44)"/><circle cx="190.0" cy="300.0" r="13" fill="rgb(33,33,33)"/><circle cx="210.0" cy="330.0" r="16" fill="rgb(33,33,33)"/><circle cx="225.0" cy="345.0" r="22" fill="rgb(24,24,24)"/><circle cx="340.0" cy="320.0" r="13" fill="rgb(37,37,37)"/><circle cx="325.0" cy="365.0" r="38" fill="rgb(44,44,44)"/><circle cx="430.0" cy="315.0" r="19" fill="rgb(44,44,44)"/><circle cx="420.0" cy="365.0" r="16" fill="rgb(44,44,44)"/><circle cx="440.0" cy="340.0" r="13" fill="rgb(37,37,37)"/><circle cx="450.0" cy="380.0" r="13" fill="rgb(35,35,35)"/><circle cx="395.0" cy="420.0" r="42" fill="rgb(22,22,22)"/><circle cx="460.0" cy="430.0" r="16" fill="rgb(39,39,39)"/><circle cx="485.0" cy="440.0" r="16" fill="rgb(37,37,37)"/><circle cx="455.0" cy="455.0" r="13" fill="rgb(35,35,35)"/><circle cx="20.0" cy="260.0" r="16" fill="rgb(13,13,13)"/></g><g filter="url(#bl)"><circle cx="70.0" cy="15.0" r="19" fill="rgb(110,110,110)" stroke="rgb(38,38,38)" stroke-width="4"/><circle cx="71" cy="16" r="6" fill="rgb(90,90,90)"/><circle cx="70" cy="13" r="6" fill="rgb(87,87,87)"/><circle cx="71" cy="16" r="4" fill="rgb(86,86,86)"/><circle cx="295.0" cy="15.0" r="23" fill="rgb(120,120,120)" stroke="rgb(42,42,42)" stroke-width="4"/><circle cx="287" cy="19" r="8" fill="rgb(101,101,101)"/><circle cx="288" cy="14" r="8" fill="rgb(147,147,147)"/><circle cx="293" cy="16" r="6" fill="rgb(147,147,147)"/><circle cx="20.0" cy="60.0" r="15" fill="rgb(210,210,210)" stroke="rgb(73,73,73)" stroke-width="4"/><circle cx="14" cy="59" r="4" fill="rgb(239,239,239)"/><circle cx="21" cy="59" r="5" fill="rgb(194,194,194)"/><circle cx="21" cy="58" r="5" fill="rgb(240,240,240)"/><circle cx="70.0" cy="68.0" r="17" fill="rgb(210,210,210)" stroke="rgb(73,73,73)" stroke-width="4"/><circle cx="67" cy="70" r="4" fill="rgb(190,190,190)"/><circle cx="65" cy="65" r="4" fill="rgb(243,243,243)"/><circle cx="77" cy="71" r="5" fill="rgb(238,238,238)"/><circle cx="120.0" cy="62.0" r="15" fill="rgb(210,210,210)" stroke="rgb(73,73,73)" stroke-width="4"/><circle cx="117" cy="64" r="4" fill="rgb(180,180,180)"/><circle cx="117" cy="61" r="4" fill="rgb(228,228,228)"/><circle cx="114" cy="63" r="5" fill="rgb(229,229,229)"/><circle cx="155.0" cy="48.0" r="8" fill="rgb(190,190,190)" stroke="rgb(66,66,66)" stroke-width="4"/><circle cx="178.0" cy="45.0" r="13" fill="rgb(210,210,210)" stroke="rgb(73,73,73)" stroke-width="4"/><circle cx="180" cy="45" r="4" fill="rgb(233,233,233)"/><circle cx="177" cy="42" r="3" fill="rgb(182,182,182)"/><circle cx="178" cy="45" r="3" fill="rgb(228,228,228)"/><circle cx="240.0" cy="80.0" r="27" fill="rgb(110,110,110)" stroke="rgb(38,38,38)" stroke-width="4"/><circle cx="246" cy="86" r="8" fill="rgb(142,142,142)"/><circle cx="238" cy="81" r="8" fill="rgb(91,91,91)"/><circle cx="245" cy="83" r="9" fill="rgb(143,143,143)"/><circle cx="280.0" cy="92.0" r="15" fill="rgb(210,210,210)" stroke="rgb(73,73,73)" stroke-width="4"/><circle cx="279" cy="89" r="3" fill="rgb(241,241,241)"/><circle cx="280" cy="96" r="5" fill="rgb(235,235,235)"/><circle cx="284" cy="89" r="5" fill="rgb(230,230,230)"/><circle cx="350.0" cy="75.0" r="29" fill="rgb(100,100,100)" stroke="rgb(35,35,35)" stroke-width="4"/><circle cx="352" cy="75" r="10" fill="rgb(76,76,76)"/><circle cx="354" cy="80" r="9" fill="rgb(84,84,84)"/><circle cx="345" cy="71" r="7" fill="rgb(75,75,75)"/><circle cx="420.0" cy="50.0" r="15" fill="rgb(210,210,210)" stroke="rgb(73,73,73)" stroke-width="4"/><circle cx="425" cy="55" r="5" fill="rgb(193,193,193)"/><circle cx="418" cy="50" r="5" fill="rgb(232,232,232)"/><circle cx="425" cy="49" r="5" fill="rgb(238,238,238)"/><circle cx="400.0" cy="70.0" r="10" fill="rgb(190,190,190)" stroke="rgb(66,66,66)" stroke-width="4"/><circle cx="15.0" cy="100.0" r="15" fill="rgb(200,200,200)" stroke="rgb(70,70,70)" stroke-width="4"/><circle cx="16" cy="102" r="3" fill="rgb(182,182,182)"/><circle cx="12" cy="98" r="4" fill="rgb(228,228,228)"/><circle cx="18" cy="95" r="4" fill="rgb(180,180,180)"/><circle cx="20.0" cy="150.0" r="29" fill="rgb(200,200,200)" stroke="rgb(70,70,70)" stroke-width="4"/><circle cx="18" cy="149" r="8" fill="rgb(179,179,179)"/><circle cx="21" cy="154" r="8" fill="rgb(220,220,220)"/><circle cx="23" cy="155" r="7" fill="rgb(215,215,215)"/><circle cx="5.0" cy="175.0" r="15" fill="rgb(180,180,180)" stroke="rgb(62,62,62)" stroke-width="4"/><circle cx="5" cy="174" r="5" fill="rgb(206,206,206)"/><circle cx="8" cy="180" r="4" fill="rgb(157,157,157)"/><circle cx="8" cy="175" r="4" fill="rgb(164,164,164)"/><circle cx="312.0" cy="130.0" r="10" fill="rgb(210,210,210)" stroke="rgb(73,73,73)" stroke-width="4"/><circle cx="325.0" cy="155.0" r="8" fill="rgb(190,190,190)" stroke="rgb(66,66,66)" stroke-width="4"/><circle cx="300.0" cy="165.0" r="8" fill="rgb(200,200,200)" stroke="rgb(70,70,70)" stroke-width="4"/><circle cx="288.0" cy="180.0" r="10" fill="rgb(210,210,210)" stroke="rgb(73,73,73)" stroke-width="4"/><circle cx="355.0" cy="200.0" r="15" fill="rgb(220,220,220)" stroke="rgb(77,77,77)" stroke-width="4"/><circle cx="356" cy="201" r="4" fill="rgb(250,250,250)"/><circle cx="358" cy="194" r="3" fill="rgb(237,237,237)"/><circle cx="355" cy="200" r="5" fill="rgb(241,241,241)"/><circle cx="398.0" cy="175.0" r="10" fill="rgb(200,200,200)" stroke="rgb(70,70,70)" stroke-width="4"/><circle cx="385.0" cy="195.0" r="8" fill="rgb(180,180,180)" stroke="rgb(62,62,62)" stroke-width="4"/><circle cx="340.0" cy="245.0" r="23" fill="rgb(110,110,110)" stroke="rgb(38,38,38)" stroke-width="4"/><circle cx="331" cy="244" r="7" fill="rgb(85,85,85)"/><circle cx="348" cy="249" r="7" fill="rgb(144,144,144)"/><circle cx="338" cy="244" r="7" fill="rgb(86,86,86)"/><circle cx="290.0" cy="275.0" r="27" fill="rgb(100,100,100)" stroke="rgb(35,35,35)" stroke-width="4"/><circle cx="294" cy="287" r="8" fill="rgb(79,79,79)"/><circle cx="292" cy="287" r="8" fill="rgb(126,126,126)"/><circle cx="291" cy="287" r="7" fill="rgb(132,132,132)"/><circle cx="240.0" cy="290.0" r="25" fill="rgb(120,120,120)" stroke="rgb(42,42,42)" stroke-width="4"/><circle cx="241" cy="285" r="8" fill="rgb(103,103,103)"/><circle cx="239" cy="295" r="8" fill="rgb(99,99,99)"/><circle cx="233" cy="296" r="6" fill="rgb(103,103,103)"/><circle cx="330.0" cy="298.0" r="13" fill="rgb(190,190,190)" stroke="rgb(66,66,66)" stroke-width="4"/><circle cx="329" cy="298" r="3" fill="rgb(170,170,170)"/><circle cx="332" cy="297" r="4" fill="rgb(210,210,210)"/><circle cx="331" cy="297" r="4" fill="rgb(171,171,171)"/><circle cx="360.0" cy="290.0" r="15" fill="rgb(210,210,210)" stroke="rgb(73,73,73)" stroke-width="4"/><circle cx="362" cy="291" r="3" fill="rgb(178,178,178)"/><circle cx="360" cy="295" r="4" fill="rgb(241,241,241)"/><circle cx="359" cy="288" r="5" fill="rgb(242,242,242)"/><circle cx="100.0" cy="315.0" r="19" fill="rgb(200,200,200)" stroke="rgb(70,70,70)" stroke-width="4"/><circle cx="98" cy="315" r="4" fill="rgb(178,178,178)"/><circle cx="100" cy="315" r="5" fill="rgb(167,167,167)"/><circle cx="100" cy="315" r="5" fill="rgb(218,218,218)"/><circle cx="75.0" cy="335.0" r="13" fill="rgb(210,210,210)" stroke="rgb(73,73,73)" stroke-width="4"/><circle cx="74" cy="336" r="3" fill="rgb(235,235,235)"/><circle cx="75" cy="335" r="4" fill="rgb(240,240,240)"/><circle cx="77" cy="332" r="4" fill="rgb(177,177,177)"/><circle cx="120.0" cy="335.0" r="10" fill="rgb(200,200,200)" stroke="rgb(70,70,70)" stroke-width="4"/><circle cx="190.0" cy="300.0" r="8" fill="rgb(150,150,150)" stroke="rgb(52,52,52)" stroke-width="4"/><circle cx="210.0" cy="330.0" r="10" fill="rgb(150,150,150)" stroke="rgb(52,52,52)" stroke-width="4"/><circle cx="225.0" cy="345.0" r="15" fill="rgb(110,110,110)" stroke="rgb(38,38,38)" stroke-width="4"/><circle cx="224" cy="342" r="4" fill="rgb(86,86,86)"/><circle cx="225" cy="345" r="4" fill="rgb(137,137,137)"/><circle cx="222" cy="348" r="4" fill="rgb(92,92,92)"/><circle cx="340.0" cy="320.0" r="8" fill="rgb(170,170,170)" stroke="rgb(59,59,59)" stroke-width="4"/><circle cx="325.0" cy="365.0" r="25" fill="rgb(200,200,200)" stroke="rgb(70,70,70)" stroke-width="4"/><circle cx="331" cy="370" r="9" fill="rgb(177,177,177)"/><circle cx="332" cy="359" r="8" fill="rgb(168,168,168)"/><circle cx="320" cy="360" r="9" fill="rgb(232,232,232)"/><circle cx="430.0" cy="315.0" r="13" fill="rgb(200,200,200)" stroke="rgb(70,70,70)" stroke-width="4"/><circle cx="426" cy="315" r="3" fill="rgb(171,171,171)"/><circle cx="425" cy="317" r="3" fill="rgb(170,170,170)"/><circle cx="430" cy="316" r="3" fill="rgb(179,179,179)"/><circle cx="420.0" cy="365.0" r="10" fill="rgb(200,200,200)" stroke="rgb(70,70,70)" stroke-width="4"/><circle cx="440.0" cy="340.0" r="8" fill="rgb(170,170,170)" stroke="rgb(59,59,59)" stroke-width="4"/><circle cx="450.0" cy="380.0" r="8" fill="rgb(160,160,160)" stroke="rgb(56,56,56)" stroke-width="4"/><circle cx="395.0" cy="420.0" r="27" fill="rgb(100,100,100)" stroke="rgb(35,35,35)" stroke-width="4"/><circle cx="398" cy="420" r="6" fill="rgb(125,125,125)"/><circle cx="392" cy="431" r="9" fill="rgb(81,81,81)"/><circle cx="401" cy="427" r="9" fill="rgb(75,75,75)"/><circle cx="460.0" cy="430.0" r="10" fill="rgb(180,180,180)" stroke="rgb(62,62,62)" stroke-width="4"/><circle cx="485.0" cy="440.0" r="10" fill="rgb(170,170,170)" stroke="rgb(59,59,59)" stroke-width="4"/><circle cx="455.0" cy="455.0" r="8" fill="rgb(160,160,160)" stroke="rgb(56,56,56)" stroke-width="4"/><circle cx="20.0" cy="260.0" r="10" fill="rgb(60,60,60)" stroke="rgb(21,21,21)" stroke-width="4"/></g><g filter="url(#bl3)"><circle cx="20.0" cy="60.0" r="13" fill="rgb(220,220,220)"/><circle cx="70.0" cy="68.0" r="15" fill="rgb(220,220,220)"/><circle cx="120.0" cy="62.0" r="13" fill="rgb(220,220,220)"/><circle cx="155.0" cy="48.0" r="8" fill="rgb(199,199,199)"/><circle cx="178.0" cy="45.0" r="11" fill="rgb(220,220,220)"/><circle cx="280.0" cy="92.0" r="13" fill="rgb(220,220,220)"/><circle cx="420.0" cy="50.0" r="13" fill="rgb(220,220,220)"/><circle cx="400.0" cy="70.0" r="10" fill="rgb(199,199,199)"/><circle cx="15.0" cy="100.0" r="13" fill="rgb(210,210,210)"/><circle cx="5.0" cy="175.0" r="13" fill="rgb(189,189,189)"/><circle cx="312.0" cy="130.0" r="10" fill="rgb(220,220,220)"/><circle cx="325.0" cy="155.0" r="8" fill="rgb(199,199,199)"/><circle cx="300.0" cy="165.0" r="8" fill="rgb(210,210,210)"/><circle cx="288.0" cy="180.0" r="10" fill="rgb(220,220,220)"/><circle cx="355.0" cy="200.0" r="13" fill="rgb(231,231,231)"/><circle cx="398.0" cy="175.0" r="10" fill="rgb(210,210,210)"/><circle cx="385.0" cy="195.0" r="8" fill="rgb(189,189,189)"/><circle cx="330.0" cy="298.0" r="11" fill="rgb(199,199,199)"/><circle cx="360.0" cy="290.0" r="13" fill="rgb(220,220,220)"/><circle cx="75.0" cy="335.0" r="11" fill="rgb(220,220,220)"/><circle cx="120.0" cy="335.0" r="10" fill="rgb(210,210,210)"/><circle cx="190.0" cy="300.0" r="8" fill="rgb(157,157,157)"/><circle cx="210.0" cy="330.0" r="10" fill="rgb(157,157,157)"/><circle cx="225.0" cy="345.0" r="13" fill="rgb(115,115,115)"/><circle cx="340.0" cy="320.0" r="8" fill="rgb(178,178,178)"/><circle cx="430.0" cy="315.0" r="11" fill="rgb(210,210,210)"/><circle cx="420.0" cy="365.0" r="10" fill="rgb(210,210,210)"/><circle cx="440.0" cy="340.0" r="8" fill="rgb(178,178,178)"/><circle cx="450.0" cy="380.0" r="8" fill="rgb(168,168,168)"/><circle cx="460.0" cy="430.0" r="10" fill="rgb(189,189,189)"/><circle cx="485.0" cy="440.0" r="10" fill="rgb(178,178,178)"/><circle cx="455.0" cy="455.0" r="8" fill="rgb(168,168,168)"/><circle cx="20.0" cy="260.0" r="10" fill="rgb(63,63,63)"/></g></svg><svg class="mic" style="left:343px;top:626px;width:131px;height:119px" viewBox="0 0 520 472" preserveAspectRatio="none"><rect width="520" height="472" fill="#161616"/><g filter="url(#bl2)"><circle cx="100.0" cy="40.0" r="35" fill="rgb(26,26,26)"/><circle cx="150.0" cy="15.0" r="32" fill="rgb(21,21,21)"/><circle cx="220.0" cy="25.0" r="35" fill="rgb(26,26,26)"/><circle cx="270.0" cy="28.0" r="32" fill="rgb(38,38,38)"/><circle cx="430.0" cy="30.0" r="38" fill="rgb(30,30,30)"/><circle cx="62.0" cy="92.0" r="35" fill="rgb(40,40,40)"/><circle cx="140.0" cy="80.0" r="29" fill="rgb(35,35,35)"/><circle cx="235.0" cy="92.0" r="32" fill="rgb(26,26,26)"/><circle cx="295.0" cy="80.0" r="32" fill="rgb(21,21,21)"/><circle cx="400.0" cy="80.0" r="19" fill="rgb(49,49,49)"/><circle cx="115.0" cy="118.0" r="29" fill="rgb(19,19,19)"/><circle cx="218.0" cy="142.0" r="29" fill="rgb(45,45,45)"/><circle cx="275.0" cy="130.0" r="32" fill="rgb(30,30,30)"/><circle cx="328.0" cy="130.0" r="16" fill="rgb(45,45,45)"/><circle cx="350.0" cy="128.0" r="13" fill="rgb(35,35,35)"/><circle cx="112.0" cy="160.0" r="29" fill="rgb(45,45,45)"/><circle cx="170.0" cy="168.0" r="13" fill="rgb(42,42,42)"/><circle cx="160.0" cy="185.0" r="10" fill="rgb(40,40,40)"/><circle cx="262.0" cy="172.0" r="32" fill="rgb(45,45,45)"/><circle cx="305.0" cy="170.0" r="32" fill="rgb(33,33,33)"/><circle cx="355.0" cy="160.0" r="16" fill="rgb(40,40,40)"/><circle cx="212.0" cy="195.0" r="29" fill="rgb(42,42,42)"/><circle cx="292.0" cy="215.0" r="35" fill="rgb(28,28,28)"/><circle cx="340.0" cy="225.0" r="38" fill="rgb(28,28,28)"/><circle cx="400.0" cy="222.0" r="35" fill="rgb(28,28,28)"/><circle cx="445.0" cy="235.0" r="32" fill="rgb(23,23,23)"/><circle cx="195.0" cy="238.0" r="29" fill="rgb(45,45,45)"/><circle cx="48.0" cy="258.0" r="29" fill="rgb(45,45,45)"/><circle cx="155.0" cy="272.0" r="22" fill="rgb(49,49,49)"/><circle cx="225.0" cy="292.0" r="42" fill="rgb(38,38,38)"/><circle cx="350.0" cy="282.0" r="35" fill="rgb(28,28,28)"/><circle cx="405.0" cy="272.0" r="26" fill="rgb(33,33,33)"/><circle cx="90.0" cy="308.0" r="22" fill="rgb(47,47,47)"/><circle cx="380.0" cy="330.0" r="35" fill="rgb(30,30,30)"/><circle cx="470.0" cy="320.0" r="38" fill="rgb(21,21,21)"/><circle cx="330.0" cy="340.0" r="22" fill="rgb(42,42,42)"/><circle cx="155.0" cy="345.0" r="29" fill="rgb(35,35,35)"/><circle cx="198.0" cy="365.0" r="22" fill="rgb(52,52,52)"/><circle cx="225.0" cy="385.0" r="29" fill="rgb(38,38,38)"/><circle cx="140.0" cy="390.0" r="32" fill="rgb(28,28,28)"/><circle cx="300.0" cy="392.0" r="38" fill="rgb(40,40,40)"/><circle cx="260.0" cy="410.0" r="32" fill="rgb(35,35,35)"/><circle cx="345.0" cy="410.0" r="29" fill="rgb(35,35,35)"/><circle cx="480.0" cy="415.0" r="38" fill="rgb(38,38,38)"/><circle cx="35.0" cy="430.0" r="32" fill="rgb(33,33,33)"/><circle cx="130.0" cy="445.0" r="35" fill="rgb(47,47,47)"/><circle cx="160.0" cy="450.0" r="26" fill="rgb(40,40,40)"/><circle cx="310.0" cy="435.0" r="26" fill="rgb(40,40,40)"/><circle cx="510.0" cy="340.0" r="22" fill="rgb(28,28,28)"/><circle cx="15.0" cy="360.0" r="19" fill="rgb(21,21,21)"/><circle cx="230.0" cy="450.0" r="26" fill="rgb(26,26,26)"/></g><g filter="url(#bl)"><circle cx="100.0" cy="40.0" r="26" fill="rgb(118,118,118)" stroke="rgb(41,41,41)" stroke-width="4"/><circle cx="96" cy="39" r="9" fill="rgb(134,134,134)"/><circle cx="100" cy="40" r="7" fill="rgb(100,100,100)"/><circle cx="101" cy="44" r="8" fill="rgb(139,139,139)"/><circle cx="150.0" cy="15.0" r="24" fill="rgb(97,97,97)" stroke="rgb(33,33,33)" stroke-width="4"/><circle cx="143" cy="19" r="5" fill="rgb(131,131,131)"/><circle cx="152" cy="8" r="6" fill="rgb(71,71,71)"/><circle cx="149" cy="23" r="6" fill="rgb(131,131,131)"/><circle cx="220.0" cy="25.0" r="26" fill="rgb(118,118,118)" stroke="rgb(41,41,41)" stroke-width="4"/><circle cx="222" cy="28" r="8" fill="rgb(144,144,144)"/><circle cx="214" cy="29" r="9" fill="rgb(88,88,88)"/><circle cx="222" cy="23" r="7" fill="rgb(149,149,149)"/><circle cx="270.0" cy="28.0" r="24" fill="rgb(172,172,172)" stroke="rgb(60,60,60)" stroke-width="4"/><circle cx="273" cy="34" r="8" fill="rgb(196,196,196)"/><circle cx="268" cy="25" r="5" fill="rgb(143,143,143)"/><circle cx="270" cy="24" r="5" fill="rgb(205,205,205)"/><circle cx="430.0" cy="30.0" r="28" fill="rgb(140,140,140)" stroke="rgb(49,49,49)" stroke-width="4"/><circle cx="437" cy="39" r="9" fill="rgb(110,110,110)"/><circle cx="430" cy="30" r="8" fill="rgb(106,106,106)"/><circle cx="432" cy="30" r="6" fill="rgb(162,162,162)"/><circle cx="62.0" cy="92.0" r="26" fill="rgb(183,183,183)" stroke="rgb(64,64,64)" stroke-width="4"/><circle cx="62" cy="89" r="6" fill="rgb(165,165,165)"/><circle cx="62" cy="92" r="6" fill="rgb(215,215,215)"/><circle cx="55" cy="84" r="6" fill="rgb(149,149,149)"/><circle cx="140.0" cy="80.0" r="21" fill="rgb(162,162,162)" stroke="rgb(56,56,56)" stroke-width="4"/><circle cx="140" cy="80" r="6" fill="rgb(131,131,131)"/><circle cx="137" cy="86" r="6" fill="rgb(129,129,129)"/><circle cx="139" cy="79" r="6" fill="rgb(190,190,190)"/><circle cx="235.0" cy="92.0" r="24" fill="rgb(118,118,118)" stroke="rgb(41,41,41)" stroke-width="4"/><circle cx="231" cy="96" r="6" fill="rgb(89,89,89)"/><circle cx="237" cy="95" r="7" fill="rgb(141,141,141)"/><circle cx="237" cy="93" r="6" fill="rgb(151,151,151)"/><circle cx="295.0" cy="80.0" r="24" fill="rgb(97,97,97)" stroke="rgb(33,33,33)" stroke-width="4"/><circle cx="295" cy="82" r="7" fill="rgb(115,115,115)"/><circle cx="294" cy="79" r="6" fill="rgb(62,62,62)"/><circle cx="288" cy="73" r="5" fill="rgb(125,125,125)"/><circle cx="400.0" cy="80.0" r="14" fill="rgb(226,226,226)" stroke="rgb(79,79,79)" stroke-width="4"/><circle cx="401" cy="79" r="4" fill="rgb(208,208,208)"/><circle cx="396" cy="77" r="4" fill="rgb(195,195,195)"/><circle cx="399" cy="81" r="3" fill="rgb(194,194,194)"/><circle cx="115.0" cy="118.0" r="21" fill="rgb(86,86,86)" stroke="rgb(30,30,30)" stroke-width="4"/><circle cx="116" cy="124" r="5" fill="rgb(111,111,111)"/><circle cx="113" cy="118" r="7" fill="rgb(56,56,56)"/><circle cx="116" cy="118" r="7" fill="rgb(102,102,102)"/><circle cx="218.0" cy="142.0" r="21" fill="rgb(205,205,205)" stroke="rgb(71,71,71)" stroke-width="4"/><circle cx="225" cy="147" r="5" fill="rgb(187,187,187)"/><circle cx="224" cy="138" r="5" fill="rgb(235,235,235)"/><circle cx="224" cy="144" r="7" fill="rgb(236,236,236)"/><circle cx="275.0" cy="130.0" r="24" fill="rgb(140,140,140)" stroke="rgb(49,49,49)" stroke-width="4"/><circle cx="270" cy="135" r="8" fill="rgb(160,160,160)"/><circle cx="271" cy="126" r="8" fill="rgb(106,106,106)"/><circle cx="275" cy="130" r="5" fill="rgb(118,118,118)"/><circle cx="328.0" cy="130.0" r="12" fill="rgb(205,205,205)" stroke="rgb(71,71,71)" stroke-width="4"/><circle cx="350.0" cy="128.0" r="9" fill="rgb(162,162,162)" stroke="rgb(56,56,56)" stroke-width="4"/><circle cx="112.0" cy="160.0" r="21" fill="rgb(205,205,205)" stroke="rgb(71,71,71)" stroke-width="4"/><circle cx="105" cy="163" r="5" fill="rgb(181,181,181)"/><circle cx="104" cy="159" r="5" fill="rgb(173,173,173)"/><circle cx="111" cy="157" r="6" fill="rgb(230,230,230)"/><circle cx="170.0" cy="168.0" r="9" fill="rgb(194,194,194)" stroke="rgb(67,67,67)" stroke-width="4"/><circle cx="160.0" cy="185.0" r="7" fill="rgb(183,183,183)" stroke="rgb(64,64,64)" stroke-width="4"/><circle cx="262.0" cy="172.0" r="24" fill="rgb(205,205,205)" stroke="rgb(71,71,71)" stroke-width="4"/><circle cx="262" cy="180" r="7" fill="rgb(173,173,173)"/><circle cx="262" cy="179" r="8" fill="rgb(232,232,232)"/><circle cx="263" cy="172" r="5" fill="rgb(235,235,235)"/><circle cx="305.0" cy="170.0" r="24" fill="rgb(151,151,151)" stroke="rgb(52,52,52)" stroke-width="4"/><circle cx="310" cy="167" r="7" fill="rgb(173,173,173)"/><circle cx="306" cy="170" r="7" fill="rgb(133,133,133)"/><circle cx="304" cy="172" r="7" fill="rgb(183,183,183)"/><circle cx="355.0" cy="160.0" r="12" fill="rgb(183,183,183)" stroke="rgb(64,64,64)" stroke-width="4"/><circle cx="212.0" cy="195.0" r="21" fill="rgb(194,194,194)" stroke="rgb(67,67,67)" stroke-width="4"/><circle cx="214" cy="198" r="6" fill="rgb(178,178,178)"/><circle cx="212" cy="195" r="7" fill="rgb(223,223,223)"/><circle cx="213" cy="189" r="7" fill="rgb(212,212,212)"/><circle cx="292.0" cy="215.0" r="26" fill="rgb(129,129,129)" stroke="rgb(45,45,45)" stroke-width="4"/><circle cx="292" cy="218" r="6" fill="rgb(101,101,101)"/><circle cx="291" cy="214" r="7" fill="rgb(102,102,102)"/><circle cx="283" cy="213" r="8" fill="rgb(104,104,104)"/><circle cx="340.0" cy="225.0" r="28" fill="rgb(129,129,129)" stroke="rgb(45,45,45)" stroke-width="4"/><circle cx="352" cy="221" r="7" fill="rgb(109,109,109)"/><circle cx="339" cy="228" r="10" fill="rgb(113,113,113)"/><circle cx="336" cy="230" r="9" fill="rgb(155,155,155)"/><circle cx="400.0" cy="222.0" r="26" fill="rgb(129,129,129)" stroke="rgb(45,45,45)" stroke-width="4"/><circle cx="400" cy="227" r="6" fill="rgb(94,94,94)"/><circle cx="409" cy="219" r="7" fill="rgb(111,111,111)"/><circle cx="400" cy="222" r="8" fill="rgb(154,154,154)"/><circle cx="445.0" cy="235.0" r="24" fill="rgb(108,108,108)" stroke="rgb(37,37,37)" stroke-width="4"/><circle cx="437" cy="235" r="8" fill="rgb(88,88,88)"/><circle cx="446" cy="236" r="7" fill="rgb(131,131,131)"/><circle cx="454" cy="235" r="6" fill="rgb(78,78,78)"/><circle cx="195.0" cy="238.0" r="21" fill="rgb(205,205,205)" stroke="rgb(71,71,71)" stroke-width="4"/><circle cx="193" cy="238" r="5" fill="rgb(184,184,184)"/><circle cx="196" cy="238" r="5" fill="rgb(238,238,238)"/><circle cx="191" cy="243" r="5" fill="rgb(237,237,237)"/><circle cx="48.0" cy="258.0" r="21" fill="rgb(205,205,205)" stroke="rgb(71,71,71)" stroke-width="4"/><circle cx="49" cy="259" r="6" fill="rgb(184,184,184)"/><circle cx="44" cy="260" r="5" fill="rgb(225,225,225)"/><circle cx="46" cy="261" r="7" fill="rgb(189,189,189)"/><circle cx="155.0" cy="272.0" r="17" fill="rgb(226,226,226)" stroke="rgb(79,79,79)" stroke-width="4"/><circle cx="155" cy="274" r="5" fill="rgb(207,207,207)"/><circle cx="155" cy="272" r="3" fill="rgb(255,255,255)"/><circle cx="156" cy="271" r="3" fill="rgb(191,191,191)"/><circle cx="225.0" cy="292.0" r="31" fill="rgb(172,172,172)" stroke="rgb(60,60,60)" stroke-width="4"/><circle cx="218" cy="304" r="9" fill="rgb(154,154,154)"/><circle cx="216" cy="293" r="8" fill="rgb(194,194,194)"/><circle cx="222" cy="296" r="9" fill="rgb(139,139,139)"/><circle cx="350.0" cy="282.0" r="26" fill="rgb(129,129,129)" stroke="rgb(45,45,45)" stroke-width="4"/><circle cx="348" cy="293" r="9" fill="rgb(153,153,153)"/><circle cx="352" cy="274" r="8" fill="rgb(107,107,107)"/><circle cx="361" cy="280" r="5" fill="rgb(148,148,148)"/><circle cx="405.0" cy="272.0" r="19" fill="rgb(151,151,151)" stroke="rgb(52,52,52)" stroke-width="4"/><circle cx="404" cy="274" r="5" fill="rgb(178,178,178)"/><circle cx="409" cy="277" r="5" fill="rgb(128,128,128)"/><circle cx="405" cy="269" r="6" fill="rgb(132,132,132)"/><circle cx="90.0" cy="308.0" r="17" fill="rgb(216,216,216)" stroke="rgb(75,75,75)" stroke-width="4"/><circle cx="92" cy="314" r="3" fill="rgb(187,187,187)"/><circle cx="91" cy="308" r="6" fill="rgb(250,250,250)"/><circle cx="93" cy="308" r="4" fill="rgb(188,188,188)"/><circle cx="380.0" cy="330.0" r="26" fill="rgb(140,140,140)" stroke="rgb(49,49,49)" stroke-width="4"/><circle cx="381" cy="330" r="5" fill="rgb(118,118,118)"/><circle cx="378" cy="327" r="6" fill="rgb(172,172,172)"/><circle cx="380" cy="339" r="6" fill="rgb(164,164,164)"/><circle cx="470.0" cy="320.0" r="28" fill="rgb(97,97,97)" stroke="rgb(33,33,33)" stroke-width="4"/><circle cx="461" cy="327" r="8" fill="rgb(112,112,112)"/><circle cx="467" cy="309" r="9" fill="rgb(62,62,62)"/><circle cx="461" cy="316" r="6" fill="rgb(129,129,129)"/><circle cx="330.0" cy="340.0" r="17" fill="rgb(194,194,194)" stroke="rgb(67,67,67)" stroke-width="4"/><circle cx="334" cy="338" r="5" fill="rgb(212,212,212)"/><circle cx="334" cy="341" r="5" fill="rgb(173,173,173)"/><circle cx="334" cy="336" r="5" fill="rgb(159,159,159)"/><circle cx="155.0" cy="345.0" r="21" fill="rgb(162,162,162)" stroke="rgb(56,56,56)" stroke-width="4"/><circle cx="153" cy="349" r="7" fill="rgb(178,178,178)"/><circle cx="161" cy="341" r="6" fill="rgb(127,127,127)"/><circle cx="152" cy="346" r="5" fill="rgb(129,129,129)"/><circle cx="198.0" cy="365.0" r="17" fill="rgb(237,237,237)" stroke="rgb(82,82,82)" stroke-width="4"/><circle cx="205" cy="363" r="3" fill="rgb(255,255,255)"/><circle cx="196" cy="365" r="3" fill="rgb(214,214,214)"/><circle cx="194" cy="365" r="5" fill="rgb(215,215,215)"/><circle cx="225.0" cy="385.0" r="21" fill="rgb(172,172,172)" stroke="rgb(60,60,60)" stroke-width="4"/><circle cx="224" cy="386" r="5" fill="rgb(190,190,190)"/><circle cx="223" cy="394" r="7" fill="rgb(189,189,189)"/><circle cx="218" cy="381" r="5" fill="rgb(187,187,187)"/><circle cx="140.0" cy="390.0" r="24" fill="rgb(129,129,129)" stroke="rgb(45,45,45)" stroke-width="4"/><circle cx="139" cy="391" r="6" fill="rgb(146,146,146)"/><circle cx="136" cy="386" r="5" fill="rgb(149,149,149)"/><circle cx="136" cy="386" r="6" fill="rgb(107,107,107)"/><circle cx="300.0" cy="392.0" r="28" fill="rgb(183,183,183)" stroke="rgb(64,64,64)" stroke-width="4"/><circle cx="302" cy="391" r="9" fill="rgb(202,202,202)"/><circle cx="294" cy="386" r="7" fill="rgb(203,203,203)"/><circle cx="298" cy="401" r="6" fill="rgb(150,150,150)"/><circle cx="260.0" cy="410.0" r="24" fill="rgb(162,162,162)" stroke="rgb(56,56,56)" stroke-width="4"/><circle cx="268" cy="408" r="7" fill="rgb(132,132,132)"/><circle cx="259" cy="417" r="5" fill="rgb(131,131,131)"/><circle cx="259" cy="407" r="6" fill="rgb(146,146,146)"/><circle cx="345.0" cy="410.0" r="21" fill="rgb(162,162,162)" stroke="rgb(56,56,56)" stroke-width="4"/><circle cx="338" cy="405" r="5" fill="rgb(137,137,137)"/><circle cx="339" cy="407" r="4" fill="rgb(182,182,182)"/><circle cx="352" cy="408" r="5" fill="rgb(185,185,185)"/><circle cx="480.0" cy="415.0" r="28" fill="rgb(172,172,172)" stroke="rgb(60,60,60)" stroke-width="4"/><circle cx="478" cy="411" r="7" fill="rgb(191,191,191)"/><circle cx="480" cy="415" r="8" fill="rgb(203,203,203)"/><circle cx="478" cy="418" r="7" fill="rgb(195,195,195)"/><circle cx="35.0" cy="430.0" r="24" fill="rgb(151,151,151)" stroke="rgb(52,52,52)" stroke-width="4"/><circle cx="35" cy="435" r="6" fill="rgb(116,116,116)"/><circle cx="36" cy="431" r="6" fill="rgb(119,119,119)"/><circle cx="28" cy="431" r="6" fill="rgb(176,176,176)"/><circle cx="130.0" cy="445.0" r="26" fill="rgb(216,216,216)" stroke="rgb(75,75,75)" stroke-width="4"/><circle cx="131" cy="445" r="8" fill="rgb(187,187,187)"/><circle cx="128" cy="453" r="9" fill="rgb(199,199,199)"/><circle cx="132" cy="443" r="8" fill="rgb(191,191,191)"/><circle cx="160.0" cy="450.0" r="19" fill="rgb(183,183,183)" stroke="rgb(64,64,64)" stroke-width="4"/><circle cx="158" cy="448" r="4" fill="rgb(198,198,198)"/><circle cx="160" cy="445" r="6" fill="rgb(150,150,150)"/><circle cx="163" cy="451" r="4" fill="rgb(200,200,200)"/><circle cx="310.0" cy="435.0" r="19" fill="rgb(183,183,183)" stroke="rgb(64,64,64)" stroke-width="4"/><circle cx="318" cy="434" r="6" fill="rgb(208,208,208)"/><circle cx="309" cy="436" r="4" fill="rgb(201,201,201)"/><circle cx="311" cy="430" r="4" fill="rgb(150,150,150)"/><circle cx="510.0" cy="340.0" r="17" fill="rgb(129,129,129)" stroke="rgb(45,45,45)" stroke-width="4"/><circle cx="512" cy="340" r="4" fill="rgb(156,156,156)"/><circle cx="510" cy="342" r="4" fill="rgb(104,104,104)"/><circle cx="510" cy="333" r="5" fill="rgb(96,96,96)"/><circle cx="15.0" cy="360.0" r="14" fill="rgb(97,97,97)" stroke="rgb(33,33,33)" stroke-width="4"/><circle cx="16" cy="361" r="4" fill="rgb(123,123,123)"/><circle cx="14" cy="354" r="4" fill="rgb(78,78,78)"/><circle cx="15" cy="360" r="3" fill="rgb(81,81,81)"/><circle cx="230.0" cy="450.0" r="19" fill="rgb(118,118,118)" stroke="rgb(41,41,41)" stroke-width="4"/><circle cx="234" cy="450" r="4" fill="rgb(86,86,86)"/><circle cx="230" cy="449" r="6" fill="rgb(148,148,148)"/><circle cx="230" cy="451" r="6" fill="rgb(83,83,83)"/></g><g filter="url(#bl3)"><circle cx="400.0" cy="80.0" r="11" fill="rgb(238,238,238)"/><circle cx="328.0" cy="130.0" r="10" fill="rgb(215,215,215)"/><circle cx="350.0" cy="128.0" r="8" fill="rgb(170,170,170)"/><circle cx="170.0" cy="168.0" r="8" fill="rgb(204,204,204)"/><circle cx="160.0" cy="185.0" r="6" fill="rgb(192,192,192)"/><circle cx="355.0" cy="160.0" r="10" fill="rgb(192,192,192)"/><circle cx="155.0" cy="272.0" r="13" fill="rgb(238,238,238)"/><circle cx="405.0" cy="272.0" r="15" fill="rgb(158,158,158)"/><circle cx="90.0" cy="308.0" r="13" fill="rgb(226,226,226)"/><circle cx="330.0" cy="340.0" r="13" fill="rgb(204,204,204)"/><circle cx="198.0" cy="365.0" r="13" fill="rgb(249,249,249)"/><circle cx="160.0" cy="450.0" r="15" fill="rgb(192,192,192)"/><circle cx="310.0" cy="435.0" r="15" fill="rgb(192,192,192)"/><circle cx="510.0" cy="340.0" r="13" fill="rgb(136,136,136)"/><circle cx="15.0" cy="360.0" r="11" fill="rgb(102,102,102)"/><circle cx="230.0" cy="450.0" r="15" fill="rgb(124,124,124)"/></g></svg>
</body></html>
